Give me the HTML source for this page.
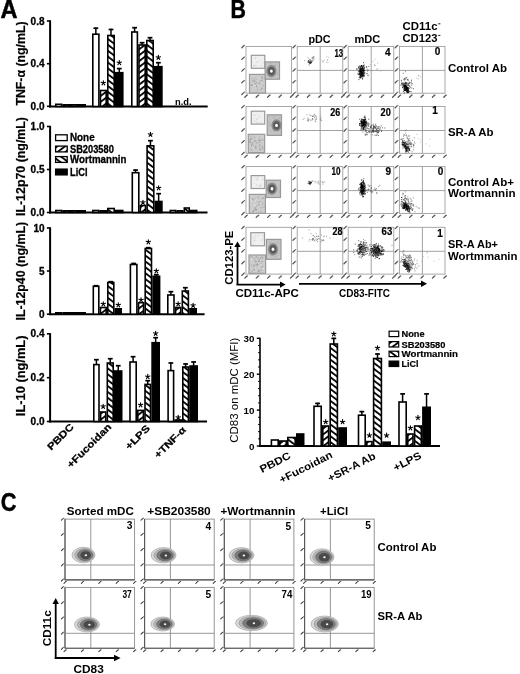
<!DOCTYPE html><html><head><meta charset="utf-8"><style>html,body{margin:0;padding:0;background:#fff;}svg{display:block}</style></head><body>
<svg width="520" height="674" viewBox="0 0 520 674" style="font-family:'Liberation Sans',sans-serif;will-change:transform">
<defs>
<pattern id="hs" patternUnits="userSpaceOnUse" width="4.7" height="4" patternTransform="rotate(53)"><rect x="0" y="0" width="4.7" height="4" fill="#fff"/><rect x="0" y="0" width="1.8" height="4" fill="#000"/></pattern>
<pattern id="hb" patternUnits="userSpaceOnUse" width="4.7" height="4" patternTransform="rotate(-53)"><rect x="0" y="0" width="4.7" height="4" fill="#fff"/><rect x="0" y="0" width="1.8" height="4" fill="#000"/></pattern>
<radialGradient id="blob" cx="50%" cy="50%" r="50%"><stop offset="0" stop-color="#fff"/><stop offset="0.15" stop-color="#555"/><stop offset="0.5" stop-color="#777"/><stop offset="0.8" stop-color="#bbb"/><stop offset="1" stop-color="#eee"/></radialGradient>
<filter id="bl1" x="-20%" y="-20%" width="140%" height="140%"><feGaussianBlur stdDeviation="0.55"/></filter>
<filter id="bl2" x="-30%" y="-30%" width="160%" height="160%"><feGaussianBlur stdDeviation="0.9"/></filter>
</defs>
<rect width="520" height="674" fill="#fff"/>
<text x="0.6" y="17.6" font-size="25.5" font-weight="bold" text-anchor="start" textLength="17" lengthAdjust="spacingAndGlyphs" fill="#000"  stroke="#000" stroke-width="0.5">A</text>
<line x1="50.1" y1="20.3" x2="50.1" y2="107.4" stroke="#000" stroke-width="2"/>
<line x1="49.1" y1="106.5" x2="207.7" y2="106.5" stroke="#000" stroke-width="2"/>
<line x1="46.9" y1="21" x2="50.1" y2="21" stroke="#000" stroke-width="1.6"/>
<text x="44.5" y="24.5" font-size="10" font-weight="bold" text-anchor="end" fill="#000"  stroke="#000" stroke-width="0.3">0.8</text>
<line x1="46.9" y1="63.7" x2="50.1" y2="63.7" stroke="#000" stroke-width="1.6"/>
<text x="44.5" y="67.2" font-size="10" font-weight="bold" text-anchor="end" fill="#000"  stroke="#000" stroke-width="0.3">0.4</text>
<line x1="46.9" y1="106.3" x2="50.1" y2="106.3" stroke="#000" stroke-width="1.6"/>
<text x="44.5" y="109.8" font-size="10" font-weight="bold" text-anchor="end" fill="#000"  stroke="#000" stroke-width="0.3">0.0</text>
<text x="25.2" y="63.55" font-size="12.4" font-weight="bold" text-anchor="middle" textLength="84.1" lengthAdjust="spacingAndGlyphs" transform="rotate(-90 25.2 63.55)" fill="#000"  stroke="#000" stroke-width="0.2">TNF-α (ng/mL)</text>
<rect x="55.8" y="104.3" width="5.9" height="2.200000000000003" fill="#fff" stroke="#000" stroke-width="1.6" />
<rect x="63.3" y="104.8" width="5.9" height="1.7000000000000028" fill="url(#hs)" stroke="#000" stroke-width="1.6" />
<rect x="70.8" y="104.8" width="6.4" height="1.7000000000000028" fill="url(#hb)" stroke="#000" stroke-width="1.6" />
<rect x="78.8" y="104.8" width="6.4" height="1.7000000000000028" fill="#000" stroke="#000" stroke-width="1.6" />
<rect x="92.8" y="34.2" width="6.100000000000003" height="72.3" fill="#fff" stroke="#000" stroke-width="1.6" />
<line x1="95.85" y1="34.2" x2="95.85" y2="27.5" stroke="#000" stroke-width="1.5"/>
<line x1="93.44999999999999" y1="28.2" x2="98.25" y2="28.2" stroke="#000" stroke-width="1.7"/>
<rect x="100.5" y="90.5" width="5.6999999999999975" height="16.0" fill="url(#hs)" stroke="#000" stroke-width="1.6" />
<path d="M103.35,83.00 L103.35,80.70 M103.35,83.00 L105.54,82.29 M103.35,83.00 L101.16,82.29 M103.35,83.00 L104.70,84.86 M103.35,83.00 L102.00,84.86 " stroke="#000" stroke-width="1.1" fill="none" stroke-linecap="round"/>
<rect x="107.8" y="35.5" width="6.4" height="71.0" fill="url(#hb)" stroke="#000" stroke-width="1.6" />
<line x1="111.0" y1="35.5" x2="111.0" y2="28.8" stroke="#000" stroke-width="1.5"/>
<line x1="108.6" y1="29.5" x2="113.4" y2="29.5" stroke="#000" stroke-width="1.7"/>
<rect x="115.8" y="72.7" width="6.999999999999995" height="33.8" fill="#000" stroke="#000" stroke-width="1.6" />
<line x1="119.3" y1="72.7" x2="119.3" y2="67.9" stroke="#000" stroke-width="1.5"/>
<line x1="116.89999999999999" y1="68.60000000000001" x2="121.7" y2="68.60000000000001" stroke="#000" stroke-width="1.7"/>
<path d="M119.30,62.80 L119.30,60.50 M119.30,62.80 L121.49,62.09 M119.30,62.80 L117.11,62.09 M119.30,62.80 L120.65,64.66 M119.30,62.80 L117.95,64.66 " stroke="#000" stroke-width="1.1" fill="none" stroke-linecap="round"/>
<rect x="131.8" y="32" width="5.599999999999989" height="74.5" fill="#fff" stroke="#000" stroke-width="1.6" />
<line x1="134.6" y1="32" x2="134.6" y2="27" stroke="#000" stroke-width="1.5"/>
<line x1="132.2" y1="27.7" x2="137.0" y2="27.7" stroke="#000" stroke-width="1.7"/>
<rect x="139.0" y="45" width="6.200000000000012" height="61.5" fill="url(#hs)" stroke="#000" stroke-width="1.6" />
<line x1="142.1" y1="45" x2="142.1" y2="42" stroke="#000" stroke-width="1.5"/>
<line x1="139.7" y1="42.7" x2="144.5" y2="42.7" stroke="#000" stroke-width="1.7"/>
<rect x="146.8" y="40.5" width="6.4" height="66.0" fill="url(#hb)" stroke="#000" stroke-width="1.6" />
<line x1="150.0" y1="40.5" x2="150.0" y2="37" stroke="#000" stroke-width="1.5"/>
<line x1="147.6" y1="37.7" x2="152.4" y2="37.7" stroke="#000" stroke-width="1.7"/>
<rect x="154.8" y="66.7" width="7.099999999999989" height="39.8" fill="#000" stroke="#000" stroke-width="1.6" />
<line x1="158.35" y1="66.7" x2="158.35" y2="62" stroke="#000" stroke-width="1.5"/>
<line x1="155.95" y1="62.7" x2="160.75" y2="62.7" stroke="#000" stroke-width="1.7"/>
<path d="M158.35,57.50 L158.35,55.20 M158.35,57.50 L160.54,56.79 M158.35,57.50 L156.16,56.79 M158.35,57.50 L159.70,59.36 M158.35,57.50 L157.00,59.36 " stroke="#000" stroke-width="1.1" fill="none" stroke-linecap="round"/>
<text x="175" y="104.8" font-size="8.8" font-weight="bold" text-anchor="start" textLength="16.6" lengthAdjust="spacingAndGlyphs" fill="#000" >n.d.</text>
<line x1="50.1" y1="125.8" x2="50.1" y2="213.4" stroke="#000" stroke-width="2"/>
<line x1="49.1" y1="212.5" x2="207.5" y2="212.5" stroke="#000" stroke-width="2"/>
<line x1="46.9" y1="126.5" x2="50.1" y2="126.5" stroke="#000" stroke-width="1.6"/>
<text x="44.5" y="130.0" font-size="10" font-weight="bold" text-anchor="end" fill="#000"  stroke="#000" stroke-width="0.3">1.0</text>
<line x1="46.9" y1="169.5" x2="50.1" y2="169.5" stroke="#000" stroke-width="1.6"/>
<text x="44.5" y="173.0" font-size="10" font-weight="bold" text-anchor="end" fill="#000"  stroke="#000" stroke-width="0.3">0.5</text>
<line x1="46.9" y1="212.5" x2="50.1" y2="212.5" stroke="#000" stroke-width="1.6"/>
<text x="44.5" y="216.0" font-size="10" font-weight="bold" text-anchor="end" fill="#000"  stroke="#000" stroke-width="0.3">0.0</text>
<text x="25.2" y="166.5" font-size="12.4" font-weight="bold" text-anchor="middle" textLength="99" lengthAdjust="spacingAndGlyphs" transform="rotate(-90 25.2 166.5)" fill="#000"  stroke="#000" stroke-width="0.2">IL-12p70 (ng/mL)</text>
<rect x="55.8" y="210.5" width="5.9" height="2.0" fill="#fff" stroke="#000" stroke-width="1.6" />
<rect x="63.3" y="210.8" width="5.9" height="1.6999999999999886" fill="url(#hs)" stroke="#000" stroke-width="1.6" />
<rect x="70.8" y="210.8" width="6.4" height="1.6999999999999886" fill="url(#hb)" stroke="#000" stroke-width="1.6" />
<rect x="78.8" y="210.8" width="6.4" height="1.6999999999999886" fill="#000" stroke="#000" stroke-width="1.6" />
<rect x="92.8" y="210.5" width="6.100000000000003" height="2.0" fill="#fff" stroke="#000" stroke-width="1.6" />
<rect x="100.5" y="210.8" width="5.6999999999999975" height="1.6999999999999886" fill="url(#hs)" stroke="#000" stroke-width="1.6" />
<rect x="107.8" y="208.5" width="6.4" height="4.0" fill="url(#hb)" stroke="#000" stroke-width="1.6" />
<rect x="115.8" y="210.5" width="6.999999999999995" height="2.0" fill="#000" stroke="#000" stroke-width="1.6" />
<rect x="132.3" y="172.7" width="6.499999999999995" height="39.80000000000001" fill="#fff" stroke="#000" stroke-width="1.6" />
<line x1="135.55" y1="172.7" x2="135.55" y2="169.4" stroke="#000" stroke-width="1.5"/>
<line x1="133.15" y1="170.1" x2="137.95000000000002" y2="170.1" stroke="#000" stroke-width="1.7"/>
<rect x="140.4" y="205.5" width="5.100000000000017" height="7.0" fill="url(#hs)" stroke="#000" stroke-width="1.6" />
<path d="M142.95,202.50 L142.95,200.20 M142.95,202.50 L145.14,201.79 M142.95,202.50 L140.76,201.79 M142.95,202.50 L144.30,204.36 M142.95,202.50 L141.60,204.36 " stroke="#000" stroke-width="1.1" fill="none" stroke-linecap="round"/>
<rect x="147.10000000000002" y="145.8" width="6.699999999999983" height="66.69999999999999" fill="url(#hb)" stroke="#000" stroke-width="1.6" />
<line x1="150.45" y1="145.8" x2="150.45" y2="140" stroke="#000" stroke-width="1.5"/>
<line x1="148.04999999999998" y1="140.7" x2="152.85" y2="140.7" stroke="#000" stroke-width="1.7"/>
<path d="M150.45,134.50 L150.45,132.20 M150.45,134.50 L152.64,133.79 M150.45,134.50 L148.26,133.79 M150.45,134.50 L151.80,136.36 M150.45,134.50 L149.10,136.36 " stroke="#000" stroke-width="1.1" fill="none" stroke-linecap="round"/>
<rect x="155.4" y="201.5" width="6.499999999999995" height="11.0" fill="#000" stroke="#000" stroke-width="1.6" />
<line x1="158.64999999999998" y1="201.5" x2="158.64999999999998" y2="193" stroke="#000" stroke-width="1.5"/>
<line x1="156.24999999999997" y1="193.7" x2="161.04999999999998" y2="193.7" stroke="#000" stroke-width="1.7"/>
<path d="M158.65,188.00 L158.65,185.70 M158.65,188.00 L160.84,187.29 M158.65,188.00 L156.46,187.29 M158.65,188.00 L160.00,189.86 M158.65,188.00 L157.30,189.86 " stroke="#000" stroke-width="1.1" fill="none" stroke-linecap="round"/>
<rect x="170.3" y="210.5" width="5.4" height="2.0" fill="#fff" stroke="#000" stroke-width="1.6" />
<rect x="177.3" y="210.8" width="5.4" height="1.6999999999999886" fill="url(#hs)" stroke="#000" stroke-width="1.6" />
<rect x="184.3" y="208" width="4.9" height="4.5" fill="url(#hb)" stroke="#000" stroke-width="1.6" />
<rect x="190.8" y="210.5" width="5.9" height="2.0" fill="#000" stroke="#000" stroke-width="1.6" />
<rect x="55.6" y="134.79999999999998" width="11.6" height="5.8" fill="#fff" stroke="#000" stroke-width="1.3" />
<text x="70" y="141.29999999999998" font-size="10.2" font-weight="bold" text-anchor="start" textLength="24.6" lengthAdjust="spacingAndGlyphs" fill="#000"  stroke="#000" stroke-width="0.3">None</text>
<rect x="55.6" y="146.1" width="11.6" height="5.8" fill="url(#hs)" stroke="#000" stroke-width="1.3" />
<text x="70" y="152.6" font-size="10.2" font-weight="bold" text-anchor="start" textLength="43.8" lengthAdjust="spacingAndGlyphs" fill="#000"  stroke="#000" stroke-width="0.3">SB203580</text>
<rect x="55.6" y="156.6" width="11.6" height="5.8" fill="url(#hb)" stroke="#000" stroke-width="1.3" />
<text x="70" y="163.1" font-size="10.2" font-weight="bold" text-anchor="start" textLength="56.5" lengthAdjust="spacingAndGlyphs" fill="#000"  stroke="#000" stroke-width="0.3">Wortmannin</text>
<rect x="55.6" y="169.1" width="11.6" height="5.8" fill="#000" stroke="#000" stroke-width="1.3" />
<text x="70" y="175.6" font-size="10.2" font-weight="bold" text-anchor="start" textLength="17.5" lengthAdjust="spacingAndGlyphs" fill="#000"  stroke="#000" stroke-width="0.3">LiCl</text>
<line x1="50.1" y1="227.3" x2="50.1" y2="315.09999999999997" stroke="#000" stroke-width="2"/>
<line x1="49.1" y1="314.2" x2="204.6" y2="314.2" stroke="#000" stroke-width="2"/>
<line x1="46.9" y1="228" x2="50.1" y2="228" stroke="#000" stroke-width="1.6"/>
<text x="44.5" y="231.5" font-size="10" font-weight="bold" text-anchor="end" fill="#000"  stroke="#000" stroke-width="0.3">10</text>
<line x1="46.9" y1="271" x2="50.1" y2="271" stroke="#000" stroke-width="1.6"/>
<text x="44.5" y="274.5" font-size="10" font-weight="bold" text-anchor="end" fill="#000"  stroke="#000" stroke-width="0.3">5</text>
<line x1="46.9" y1="314.2" x2="50.1" y2="314.2" stroke="#000" stroke-width="1.6"/>
<text x="44.5" y="317.7" font-size="10" font-weight="bold" text-anchor="end" fill="#000"  stroke="#000" stroke-width="0.3">0</text>
<text x="25.2" y="271.2" font-size="12.4" font-weight="bold" text-anchor="middle" textLength="98.39999999999998" lengthAdjust="spacingAndGlyphs" transform="rotate(-90 25.2 271.2)" fill="#000"  stroke="#000" stroke-width="0.2">IL-12p40 (ng/mL)</text>
<rect x="55.8" y="312.8" width="5.9" height="1.3999999999999773" fill="#fff" stroke="#000" stroke-width="1.6" />
<rect x="63.3" y="312.8" width="5.9" height="1.3999999999999773" fill="url(#hs)" stroke="#000" stroke-width="1.6" />
<rect x="70.8" y="312.8" width="6.4" height="1.3999999999999773" fill="url(#hb)" stroke="#000" stroke-width="1.6" />
<rect x="78.8" y="312.8" width="6.4" height="1.3999999999999773" fill="#000" stroke="#000" stroke-width="1.6" />
<rect x="93.3" y="286.3" width="5.499999999999995" height="27.899999999999977" fill="#fff" stroke="#000" stroke-width="1.6" />
<line x1="96.05" y1="286.3" x2="96.05" y2="285" stroke="#000" stroke-width="1.5"/>
<line x1="93.64999999999999" y1="285.7" x2="98.45" y2="285.7" stroke="#000" stroke-width="1.7"/>
<rect x="100.39999999999999" y="307.5" width="5.800000000000006" height="6.699999999999989" fill="url(#hs)" stroke="#000" stroke-width="1.6" />
<path d="M103.30,304.00 L103.30,301.70 M103.30,304.00 L105.49,303.29 M103.30,304.00 L101.11,303.29 M103.30,304.00 L104.65,305.86 M103.30,304.00 L101.95,305.86 " stroke="#000" stroke-width="1.1" fill="none" stroke-linecap="round"/>
<rect x="107.8" y="282.5" width="5.999999999999995" height="31.69999999999999" fill="url(#hb)" stroke="#000" stroke-width="1.6" />
<line x1="110.8" y1="282.5" x2="110.8" y2="281" stroke="#000" stroke-width="1.5"/>
<line x1="108.39999999999999" y1="281.7" x2="113.2" y2="281.7" stroke="#000" stroke-width="1.7"/>
<rect x="115.39999999999999" y="308.8" width="5.800000000000006" height="5.399999999999977" fill="#000" stroke="#000" stroke-width="1.6" />
<path d="M118.30,305.00 L118.30,302.70 M118.30,305.00 L120.49,304.29 M118.30,305.00 L116.11,304.29 M118.30,305.00 L119.65,306.86 M118.30,305.00 L116.95,306.86 " stroke="#000" stroke-width="1.1" fill="none" stroke-linecap="round"/>
<rect x="130.4" y="264.5" width="6.499999999999995" height="49.69999999999999" fill="#fff" stroke="#000" stroke-width="1.6" />
<line x1="133.64999999999998" y1="264.5" x2="133.64999999999998" y2="262.8" stroke="#000" stroke-width="1.5"/>
<line x1="131.24999999999997" y1="263.5" x2="136.04999999999998" y2="263.5" stroke="#000" stroke-width="1.7"/>
<rect x="138.5" y="302.7" width="5.100000000000017" height="11.5" fill="url(#hs)" stroke="#000" stroke-width="1.6" />
<path d="M141.05,300.00 L141.05,297.70 M141.05,300.00 L143.24,299.29 M141.05,300.00 L138.86,299.29 M141.05,300.00 L142.40,301.86 M141.05,300.00 L139.70,301.86 " stroke="#000" stroke-width="1.1" fill="none" stroke-linecap="round"/>
<rect x="145.20000000000002" y="248.5" width="6.300000000000006" height="65.69999999999999" fill="url(#hb)" stroke="#000" stroke-width="1.6" />
<line x1="148.35000000000002" y1="248.5" x2="148.35000000000002" y2="247" stroke="#000" stroke-width="1.5"/>
<line x1="145.95000000000002" y1="247.7" x2="150.75000000000003" y2="247.7" stroke="#000" stroke-width="1.7"/>
<path d="M148.35,242.00 L148.35,239.70 M148.35,242.00 L150.54,241.29 M148.35,242.00 L146.16,241.29 M148.35,242.00 L149.70,243.86 M148.35,242.00 L147.00,243.86 " stroke="#000" stroke-width="1.1" fill="none" stroke-linecap="round"/>
<rect x="153.10000000000002" y="276.3" width="6.499999999999995" height="37.89999999999998" fill="#000" stroke="#000" stroke-width="1.6" />
<line x1="156.35000000000002" y1="276.3" x2="156.35000000000002" y2="274" stroke="#000" stroke-width="1.5"/>
<line x1="153.95000000000002" y1="274.7" x2="158.75000000000003" y2="274.7" stroke="#000" stroke-width="1.7"/>
<path d="M156.35,271.00 L156.35,268.70 M156.35,271.00 L158.54,270.29 M156.35,271.00 L154.16,270.29 M156.35,271.00 L157.70,272.86 M156.35,271.00 L155.00,272.86 " stroke="#000" stroke-width="1.1" fill="none" stroke-linecap="round"/>
<rect x="167.8" y="295" width="6.200000000000012" height="19.19999999999999" fill="#fff" stroke="#000" stroke-width="1.6" />
<line x1="170.9" y1="295" x2="170.9" y2="291" stroke="#000" stroke-width="1.5"/>
<line x1="168.5" y1="291.7" x2="173.3" y2="291.7" stroke="#000" stroke-width="1.7"/>
<rect x="175.60000000000002" y="307.5" width="5.099999999999989" height="6.699999999999989" fill="url(#hs)" stroke="#000" stroke-width="1.6" />
<path d="M178.15,304.00 L178.15,301.70 M178.15,304.00 L180.34,303.29 M178.15,304.00 L175.96,303.29 M178.15,304.00 L179.50,305.86 M178.15,304.00 L176.80,305.86 " stroke="#000" stroke-width="1.1" fill="none" stroke-linecap="round"/>
<rect x="182.3" y="291" width="6.099999999999989" height="23.19999999999999" fill="url(#hb)" stroke="#000" stroke-width="1.6" />
<line x1="185.35" y1="291" x2="185.35" y2="287" stroke="#000" stroke-width="1.5"/>
<line x1="182.95" y1="287.7" x2="187.75" y2="287.7" stroke="#000" stroke-width="1.7"/>
<rect x="190.0" y="308.8" width="6.200000000000012" height="5.399999999999977" fill="#000" stroke="#000" stroke-width="1.6" />
<path d="M193.10,305.50 L193.10,303.20 M193.10,305.50 L195.29,304.79 M193.10,305.50 L190.91,304.79 M193.10,305.50 L194.45,307.36 M193.10,305.50 L191.75,307.36 " stroke="#000" stroke-width="1.1" fill="none" stroke-linecap="round"/>
<line x1="50.1" y1="333.1" x2="50.1" y2="422.4" stroke="#000" stroke-width="2"/>
<line x1="49.1" y1="421.5" x2="207" y2="421.5" stroke="#000" stroke-width="2"/>
<line x1="46.9" y1="333.8" x2="50.1" y2="333.8" stroke="#000" stroke-width="1.6"/>
<text x="44.5" y="337.3" font-size="10" font-weight="bold" text-anchor="end" fill="#000"  stroke="#000" stroke-width="0.3">0.4</text>
<line x1="46.9" y1="377.7" x2="50.1" y2="377.7" stroke="#000" stroke-width="1.6"/>
<text x="44.5" y="381.2" font-size="10" font-weight="bold" text-anchor="end" fill="#000"  stroke="#000" stroke-width="0.3">0.2</text>
<line x1="46.9" y1="421.5" x2="50.1" y2="421.5" stroke="#000" stroke-width="1.6"/>
<text x="44.5" y="425.0" font-size="10" font-weight="bold" text-anchor="end" fill="#000"  stroke="#000" stroke-width="0.3">0.0</text>
<text x="25.2" y="375.85" font-size="12.4" font-weight="bold" text-anchor="middle" textLength="80.69999999999999" lengthAdjust="spacingAndGlyphs" transform="rotate(-90 25.2 375.85)" fill="#000"  stroke="#000" stroke-width="0.2">IL-10 (ng/mL)</text>
<rect x="93.8" y="364.6" width="5.1999999999999975" height="56.89999999999998" fill="#fff" stroke="#000" stroke-width="1.6" />
<line x1="96.4" y1="364.6" x2="96.4" y2="359" stroke="#000" stroke-width="1.5"/>
<line x1="94.0" y1="359.7" x2="98.80000000000001" y2="359.7" stroke="#000" stroke-width="1.7"/>
<rect x="100.6" y="412" width="5.100000000000003" height="9.5" fill="url(#hs)" stroke="#000" stroke-width="1.6" />
<path d="M103.15,406.50 L103.15,404.20 M103.15,406.50 L105.34,405.79 M103.15,406.50 L100.96,405.79 M103.15,406.50 L104.50,408.36 M103.15,406.50 L101.80,408.36 " stroke="#000" stroke-width="1.1" fill="none" stroke-linecap="round"/>
<rect x="107.3" y="363" width="5.9" height="58.5" fill="url(#hb)" stroke="#000" stroke-width="1.6" />
<line x1="110.25" y1="363" x2="110.25" y2="358" stroke="#000" stroke-width="1.5"/>
<line x1="107.85" y1="358.7" x2="112.65" y2="358.7" stroke="#000" stroke-width="1.7"/>
<rect x="114.8" y="371" width="6.9" height="50.5" fill="#000" stroke="#000" stroke-width="1.6" />
<line x1="118.25" y1="371" x2="118.25" y2="365" stroke="#000" stroke-width="1.5"/>
<line x1="115.85" y1="365.7" x2="120.65" y2="365.7" stroke="#000" stroke-width="1.7"/>
<rect x="130.0" y="362" width="6.200000000000012" height="59.5" fill="#fff" stroke="#000" stroke-width="1.6" />
<line x1="133.1" y1="362" x2="133.1" y2="356" stroke="#000" stroke-width="1.5"/>
<line x1="130.7" y1="356.7" x2="135.5" y2="356.7" stroke="#000" stroke-width="1.7"/>
<rect x="137.8" y="410.4" width="5.599999999999989" height="11.100000000000023" fill="url(#hs)" stroke="#000" stroke-width="1.6" />
<path d="M140.60,405.00 L140.60,402.70 M140.60,405.00 L142.79,404.29 M140.60,405.00 L138.41,404.29 M140.60,405.00 L141.95,406.86 M140.60,405.00 L139.25,406.86 " stroke="#000" stroke-width="1.1" fill="none" stroke-linecap="round"/>
<rect x="145.0" y="384.4" width="5.500000000000023" height="37.10000000000002" fill="url(#hb)" stroke="#000" stroke-width="1.6" />
<line x1="147.75" y1="384.4" x2="147.75" y2="380" stroke="#000" stroke-width="1.5"/>
<line x1="145.35" y1="380.7" x2="150.15" y2="380.7" stroke="#000" stroke-width="1.7"/>
<path d="M147.75,376.70 L147.75,374.40 M147.75,376.70 L149.94,375.99 M147.75,376.70 L145.56,375.99 M147.75,376.70 L149.10,378.56 M147.75,376.70 L146.40,378.56 " stroke="#000" stroke-width="1.1" fill="none" stroke-linecap="round"/>
<rect x="152.10000000000002" y="342.7" width="7.099999999999989" height="78.80000000000001" fill="#000" stroke="#000" stroke-width="1.6" />
<line x1="155.65" y1="342.7" x2="155.65" y2="337" stroke="#000" stroke-width="1.5"/>
<line x1="153.25" y1="337.7" x2="158.05" y2="337.7" stroke="#000" stroke-width="1.7"/>
<path d="M155.65,333.50 L155.65,331.20 M155.65,333.50 L157.84,332.79 M155.65,333.50 L153.46,332.79 M155.65,333.50 L157.00,335.36 M155.65,333.50 L154.30,335.36 " stroke="#000" stroke-width="1.1" fill="none" stroke-linecap="round"/>
<rect x="168.10000000000002" y="370.6" width="5.499999999999995" height="50.89999999999998" fill="#fff" stroke="#000" stroke-width="1.6" />
<line x1="170.85000000000002" y1="370.6" x2="170.85000000000002" y2="362.3" stroke="#000" stroke-width="1.5"/>
<line x1="168.45000000000002" y1="363.0" x2="173.25000000000003" y2="363.0" stroke="#000" stroke-width="1.7"/>
<rect x="175.20000000000002" y="420" width="5.999999999999995" height="1.5" fill="url(#hs)" stroke="#000" stroke-width="1.6" />
<path d="M178.20,417.50 L178.20,415.20 M178.20,417.50 L180.39,416.79 M178.20,417.50 L176.01,416.79 M178.20,417.50 L179.55,419.36 M178.20,417.50 L176.85,419.36 " stroke="#000" stroke-width="1.1" fill="none" stroke-linecap="round"/>
<rect x="182.8" y="367" width="5.599999999999989" height="54.5" fill="url(#hb)" stroke="#000" stroke-width="1.6" />
<line x1="185.6" y1="367" x2="185.6" y2="363.3" stroke="#000" stroke-width="1.5"/>
<line x1="183.2" y1="364.0" x2="188.0" y2="364.0" stroke="#000" stroke-width="1.7"/>
<rect x="190.0" y="366" width="7.200000000000012" height="55.5" fill="#000" stroke="#000" stroke-width="1.6" />
<line x1="193.6" y1="366" x2="193.6" y2="361.3" stroke="#000" stroke-width="1.5"/>
<line x1="191.2" y1="362.0" x2="196.0" y2="362.0" stroke="#000" stroke-width="1.7"/>
<text x="74.5" y="427.5" font-size="9.8" font-weight="bold" text-anchor="end" textLength="33" lengthAdjust="spacingAndGlyphs" transform="rotate(-45 74.5 427.5)" fill="#000"  stroke="#000" stroke-width="0.25">PBDC</text>
<text x="112" y="427.5" font-size="9.8" font-weight="bold" text-anchor="end" textLength="58" lengthAdjust="spacingAndGlyphs" transform="rotate(-45 112 427.5)" fill="#000"  stroke="#000" stroke-width="0.25">+Fucoidan</text>
<text x="150.5" y="429" font-size="9.8" font-weight="bold" text-anchor="end" textLength="30" lengthAdjust="spacingAndGlyphs" transform="rotate(-45 150.5 429)" fill="#000"  stroke="#000" stroke-width="0.25">+LPS</text>
<text x="186.5" y="430.5" font-size="9.8" font-weight="bold" text-anchor="end" textLength="40" lengthAdjust="spacingAndGlyphs" transform="rotate(-45 186.5 430.5)" fill="#000"  stroke="#000" stroke-width="0.25">+TNF-α</text>
<text x="230.6" y="18.1" font-size="25" font-weight="bold" text-anchor="start" textLength="15.4" lengthAdjust="spacingAndGlyphs" fill="#000"  stroke="#000" stroke-width="0.5">B</text>
<rect x="246" y="46.4" width="45.6" height="46.8" fill="none" stroke="#999" stroke-width="0.85" />
<path d="M241.8,47.7 l2.0,-1.9" stroke="#555" stroke-width="1.30" fill="none" stroke-linecap="round"/>
<rect x="244.1" y="44.8" width="0.9" height="0.9" fill="#555"/>
<path d="M244.8,97.2 l2.0,-1.9" stroke="#555" stroke-width="1.30" fill="none" stroke-linecap="round"/>
<rect x="247.0" y="94.6" width="0.9" height="0.9" fill="#555"/>
<path d="M241.8,59.4 l2.0,-1.9" stroke="#555" stroke-width="1.30" fill="none" stroke-linecap="round"/>
<rect x="244.1" y="56.5" width="0.9" height="0.9" fill="#555"/>
<path d="M256.2,97.2 l2.0,-1.9" stroke="#555" stroke-width="1.30" fill="none" stroke-linecap="round"/>
<rect x="258.4" y="94.6" width="0.9" height="0.9" fill="#555"/>
<path d="M241.8,71.1 l2.0,-1.9" stroke="#555" stroke-width="1.30" fill="none" stroke-linecap="round"/>
<rect x="244.1" y="68.2" width="0.9" height="0.9" fill="#555"/>
<path d="M267.6,97.2 l2.0,-1.9" stroke="#555" stroke-width="1.30" fill="none" stroke-linecap="round"/>
<rect x="269.8" y="94.6" width="0.9" height="0.9" fill="#555"/>
<path d="M241.8,82.8 l2.0,-1.9" stroke="#555" stroke-width="1.30" fill="none" stroke-linecap="round"/>
<rect x="244.1" y="79.9" width="0.9" height="0.9" fill="#555"/>
<path d="M279.0,97.2 l2.0,-1.9" stroke="#555" stroke-width="1.30" fill="none" stroke-linecap="round"/>
<rect x="281.2" y="94.6" width="0.9" height="0.9" fill="#555"/>
<path d="M241.8,94.5 l2.0,-1.9" stroke="#555" stroke-width="1.30" fill="none" stroke-linecap="round"/>
<rect x="244.1" y="91.6" width="0.9" height="0.9" fill="#555"/>
<path d="M290.4,97.2 l2.0,-1.9" stroke="#555" stroke-width="1.30" fill="none" stroke-linecap="round"/>
<rect x="292.6" y="94.6" width="0.9" height="0.9" fill="#555"/>
<rect x="297.2" y="46.4" width="45.6" height="46.8" fill="none" stroke="#999" stroke-width="0.85" />
<path d="M293.0,47.7 l2.0,-1.9" stroke="#555" stroke-width="1.30" fill="none" stroke-linecap="round"/>
<rect x="295.3" y="44.8" width="0.9" height="0.9" fill="#555"/>
<path d="M296.0,97.2 l2.0,-1.9" stroke="#555" stroke-width="1.30" fill="none" stroke-linecap="round"/>
<rect x="298.2" y="94.6" width="0.9" height="0.9" fill="#555"/>
<path d="M293.0,59.4 l2.0,-1.9" stroke="#555" stroke-width="1.30" fill="none" stroke-linecap="round"/>
<rect x="295.3" y="56.5" width="0.9" height="0.9" fill="#555"/>
<path d="M307.4,97.2 l2.0,-1.9" stroke="#555" stroke-width="1.30" fill="none" stroke-linecap="round"/>
<rect x="309.6" y="94.6" width="0.9" height="0.9" fill="#555"/>
<path d="M293.0,71.1 l2.0,-1.9" stroke="#555" stroke-width="1.30" fill="none" stroke-linecap="round"/>
<rect x="295.3" y="68.2" width="0.9" height="0.9" fill="#555"/>
<path d="M318.8,97.2 l2.0,-1.9" stroke="#555" stroke-width="1.30" fill="none" stroke-linecap="round"/>
<rect x="321.0" y="94.6" width="0.9" height="0.9" fill="#555"/>
<path d="M293.0,82.8 l2.0,-1.9" stroke="#555" stroke-width="1.30" fill="none" stroke-linecap="round"/>
<rect x="295.3" y="79.9" width="0.9" height="0.9" fill="#555"/>
<path d="M330.2,97.2 l2.0,-1.9" stroke="#555" stroke-width="1.30" fill="none" stroke-linecap="round"/>
<rect x="332.4" y="94.6" width="0.9" height="0.9" fill="#555"/>
<path d="M293.0,94.5 l2.0,-1.9" stroke="#555" stroke-width="1.30" fill="none" stroke-linecap="round"/>
<rect x="295.3" y="91.6" width="0.9" height="0.9" fill="#555"/>
<path d="M341.6,97.2 l2.0,-1.9" stroke="#555" stroke-width="1.30" fill="none" stroke-linecap="round"/>
<rect x="343.8" y="94.6" width="0.9" height="0.9" fill="#555"/>
<line x1="320.2" y1="46.4" x2="320.2" y2="93.19999999999999" stroke="#8a8a8a" stroke-width="0.8"/>
<line x1="297.2" y1="70.4" x2="342.8" y2="70.4" stroke="#8a8a8a" stroke-width="0.8"/>
<rect x="348.2" y="46.4" width="45.6" height="46.8" fill="none" stroke="#999" stroke-width="0.85" />
<path d="M344.0,47.7 l2.0,-1.9" stroke="#555" stroke-width="1.30" fill="none" stroke-linecap="round"/>
<rect x="346.3" y="44.8" width="0.9" height="0.9" fill="#555"/>
<path d="M347.0,97.2 l2.0,-1.9" stroke="#555" stroke-width="1.30" fill="none" stroke-linecap="round"/>
<rect x="349.2" y="94.6" width="0.9" height="0.9" fill="#555"/>
<path d="M344.0,59.4 l2.0,-1.9" stroke="#555" stroke-width="1.30" fill="none" stroke-linecap="round"/>
<rect x="346.3" y="56.5" width="0.9" height="0.9" fill="#555"/>
<path d="M358.4,97.2 l2.0,-1.9" stroke="#555" stroke-width="1.30" fill="none" stroke-linecap="round"/>
<rect x="360.6" y="94.6" width="0.9" height="0.9" fill="#555"/>
<path d="M344.0,71.1 l2.0,-1.9" stroke="#555" stroke-width="1.30" fill="none" stroke-linecap="round"/>
<rect x="346.3" y="68.2" width="0.9" height="0.9" fill="#555"/>
<path d="M369.8,97.2 l2.0,-1.9" stroke="#555" stroke-width="1.30" fill="none" stroke-linecap="round"/>
<rect x="372.0" y="94.6" width="0.9" height="0.9" fill="#555"/>
<path d="M344.0,82.8 l2.0,-1.9" stroke="#555" stroke-width="1.30" fill="none" stroke-linecap="round"/>
<rect x="346.3" y="79.9" width="0.9" height="0.9" fill="#555"/>
<path d="M381.2,97.2 l2.0,-1.9" stroke="#555" stroke-width="1.30" fill="none" stroke-linecap="round"/>
<rect x="383.4" y="94.6" width="0.9" height="0.9" fill="#555"/>
<path d="M344.0,94.5 l2.0,-1.9" stroke="#555" stroke-width="1.30" fill="none" stroke-linecap="round"/>
<rect x="346.3" y="91.6" width="0.9" height="0.9" fill="#555"/>
<path d="M392.6,97.2 l2.0,-1.9" stroke="#555" stroke-width="1.30" fill="none" stroke-linecap="round"/>
<rect x="394.8" y="94.6" width="0.9" height="0.9" fill="#555"/>
<line x1="371.2" y1="46.4" x2="371.2" y2="93.19999999999999" stroke="#8a8a8a" stroke-width="0.8"/>
<line x1="348.2" y1="70.4" x2="393.8" y2="70.4" stroke="#8a8a8a" stroke-width="0.8"/>
<rect x="399.4" y="46.4" width="45.6" height="46.8" fill="none" stroke="#999" stroke-width="0.85" />
<path d="M395.2,47.7 l2.0,-1.9" stroke="#555" stroke-width="1.30" fill="none" stroke-linecap="round"/>
<rect x="397.5" y="44.8" width="0.9" height="0.9" fill="#555"/>
<path d="M398.2,97.2 l2.0,-1.9" stroke="#555" stroke-width="1.30" fill="none" stroke-linecap="round"/>
<rect x="400.4" y="94.6" width="0.9" height="0.9" fill="#555"/>
<path d="M395.2,59.4 l2.0,-1.9" stroke="#555" stroke-width="1.30" fill="none" stroke-linecap="round"/>
<rect x="397.5" y="56.5" width="0.9" height="0.9" fill="#555"/>
<path d="M409.6,97.2 l2.0,-1.9" stroke="#555" stroke-width="1.30" fill="none" stroke-linecap="round"/>
<rect x="411.8" y="94.6" width="0.9" height="0.9" fill="#555"/>
<path d="M395.2,71.1 l2.0,-1.9" stroke="#555" stroke-width="1.30" fill="none" stroke-linecap="round"/>
<rect x="397.5" y="68.2" width="0.9" height="0.9" fill="#555"/>
<path d="M421.0,97.2 l2.0,-1.9" stroke="#555" stroke-width="1.30" fill="none" stroke-linecap="round"/>
<rect x="423.2" y="94.6" width="0.9" height="0.9" fill="#555"/>
<path d="M395.2,82.8 l2.0,-1.9" stroke="#555" stroke-width="1.30" fill="none" stroke-linecap="round"/>
<rect x="397.5" y="79.9" width="0.9" height="0.9" fill="#555"/>
<path d="M432.4,97.2 l2.0,-1.9" stroke="#555" stroke-width="1.30" fill="none" stroke-linecap="round"/>
<rect x="434.6" y="94.6" width="0.9" height="0.9" fill="#555"/>
<path d="M395.2,94.5 l2.0,-1.9" stroke="#555" stroke-width="1.30" fill="none" stroke-linecap="round"/>
<rect x="397.5" y="91.6" width="0.9" height="0.9" fill="#555"/>
<path d="M443.8,97.2 l2.0,-1.9" stroke="#555" stroke-width="1.30" fill="none" stroke-linecap="round"/>
<rect x="446.0" y="94.6" width="0.9" height="0.9" fill="#555"/>
<line x1="422.4" y1="46.4" x2="422.4" y2="93.19999999999999" stroke="#8a8a8a" stroke-width="0.8"/>
<line x1="399.4" y1="70.4" x2="445.0" y2="70.4" stroke="#8a8a8a" stroke-width="0.8"/>
<rect x="246" y="106.5" width="45.6" height="46.8" fill="none" stroke="#999" stroke-width="0.85" />
<path d="M241.8,107.8 l2.0,-1.9" stroke="#555" stroke-width="1.30" fill="none" stroke-linecap="round"/>
<rect x="244.1" y="104.9" width="0.9" height="0.9" fill="#555"/>
<path d="M244.8,157.3 l2.0,-1.9" stroke="#555" stroke-width="1.30" fill="none" stroke-linecap="round"/>
<rect x="247.0" y="154.7" width="0.9" height="0.9" fill="#555"/>
<path d="M241.8,119.5 l2.0,-1.9" stroke="#555" stroke-width="1.30" fill="none" stroke-linecap="round"/>
<rect x="244.1" y="116.6" width="0.9" height="0.9" fill="#555"/>
<path d="M256.2,157.3 l2.0,-1.9" stroke="#555" stroke-width="1.30" fill="none" stroke-linecap="round"/>
<rect x="258.4" y="154.7" width="0.9" height="0.9" fill="#555"/>
<path d="M241.8,131.2 l2.0,-1.9" stroke="#555" stroke-width="1.30" fill="none" stroke-linecap="round"/>
<rect x="244.1" y="128.3" width="0.9" height="0.9" fill="#555"/>
<path d="M267.6,157.3 l2.0,-1.9" stroke="#555" stroke-width="1.30" fill="none" stroke-linecap="round"/>
<rect x="269.8" y="154.7" width="0.9" height="0.9" fill="#555"/>
<path d="M241.8,142.9 l2.0,-1.9" stroke="#555" stroke-width="1.30" fill="none" stroke-linecap="round"/>
<rect x="244.1" y="140.0" width="0.9" height="0.9" fill="#555"/>
<path d="M279.0,157.3 l2.0,-1.9" stroke="#555" stroke-width="1.30" fill="none" stroke-linecap="round"/>
<rect x="281.2" y="154.7" width="0.9" height="0.9" fill="#555"/>
<path d="M241.8,154.6 l2.0,-1.9" stroke="#555" stroke-width="1.30" fill="none" stroke-linecap="round"/>
<rect x="244.1" y="151.7" width="0.9" height="0.9" fill="#555"/>
<path d="M290.4,157.3 l2.0,-1.9" stroke="#555" stroke-width="1.30" fill="none" stroke-linecap="round"/>
<rect x="292.6" y="154.7" width="0.9" height="0.9" fill="#555"/>
<rect x="297.2" y="106.5" width="45.6" height="46.8" fill="none" stroke="#999" stroke-width="0.85" />
<path d="M293.0,107.8 l2.0,-1.9" stroke="#555" stroke-width="1.30" fill="none" stroke-linecap="round"/>
<rect x="295.3" y="104.9" width="0.9" height="0.9" fill="#555"/>
<path d="M296.0,157.3 l2.0,-1.9" stroke="#555" stroke-width="1.30" fill="none" stroke-linecap="round"/>
<rect x="298.2" y="154.7" width="0.9" height="0.9" fill="#555"/>
<path d="M293.0,119.5 l2.0,-1.9" stroke="#555" stroke-width="1.30" fill="none" stroke-linecap="round"/>
<rect x="295.3" y="116.6" width="0.9" height="0.9" fill="#555"/>
<path d="M307.4,157.3 l2.0,-1.9" stroke="#555" stroke-width="1.30" fill="none" stroke-linecap="round"/>
<rect x="309.6" y="154.7" width="0.9" height="0.9" fill="#555"/>
<path d="M293.0,131.2 l2.0,-1.9" stroke="#555" stroke-width="1.30" fill="none" stroke-linecap="round"/>
<rect x="295.3" y="128.3" width="0.9" height="0.9" fill="#555"/>
<path d="M318.8,157.3 l2.0,-1.9" stroke="#555" stroke-width="1.30" fill="none" stroke-linecap="round"/>
<rect x="321.0" y="154.7" width="0.9" height="0.9" fill="#555"/>
<path d="M293.0,142.9 l2.0,-1.9" stroke="#555" stroke-width="1.30" fill="none" stroke-linecap="round"/>
<rect x="295.3" y="140.0" width="0.9" height="0.9" fill="#555"/>
<path d="M330.2,157.3 l2.0,-1.9" stroke="#555" stroke-width="1.30" fill="none" stroke-linecap="round"/>
<rect x="332.4" y="154.7" width="0.9" height="0.9" fill="#555"/>
<path d="M293.0,154.6 l2.0,-1.9" stroke="#555" stroke-width="1.30" fill="none" stroke-linecap="round"/>
<rect x="295.3" y="151.7" width="0.9" height="0.9" fill="#555"/>
<path d="M341.6,157.3 l2.0,-1.9" stroke="#555" stroke-width="1.30" fill="none" stroke-linecap="round"/>
<rect x="343.8" y="154.7" width="0.9" height="0.9" fill="#555"/>
<line x1="320.2" y1="106.5" x2="320.2" y2="153.3" stroke="#8a8a8a" stroke-width="0.8"/>
<line x1="297.2" y1="130.5" x2="342.8" y2="130.5" stroke="#8a8a8a" stroke-width="0.8"/>
<rect x="348.2" y="106.5" width="45.6" height="46.8" fill="none" stroke="#999" stroke-width="0.85" />
<path d="M344.0,107.8 l2.0,-1.9" stroke="#555" stroke-width="1.30" fill="none" stroke-linecap="round"/>
<rect x="346.3" y="104.9" width="0.9" height="0.9" fill="#555"/>
<path d="M347.0,157.3 l2.0,-1.9" stroke="#555" stroke-width="1.30" fill="none" stroke-linecap="round"/>
<rect x="349.2" y="154.7" width="0.9" height="0.9" fill="#555"/>
<path d="M344.0,119.5 l2.0,-1.9" stroke="#555" stroke-width="1.30" fill="none" stroke-linecap="round"/>
<rect x="346.3" y="116.6" width="0.9" height="0.9" fill="#555"/>
<path d="M358.4,157.3 l2.0,-1.9" stroke="#555" stroke-width="1.30" fill="none" stroke-linecap="round"/>
<rect x="360.6" y="154.7" width="0.9" height="0.9" fill="#555"/>
<path d="M344.0,131.2 l2.0,-1.9" stroke="#555" stroke-width="1.30" fill="none" stroke-linecap="round"/>
<rect x="346.3" y="128.3" width="0.9" height="0.9" fill="#555"/>
<path d="M369.8,157.3 l2.0,-1.9" stroke="#555" stroke-width="1.30" fill="none" stroke-linecap="round"/>
<rect x="372.0" y="154.7" width="0.9" height="0.9" fill="#555"/>
<path d="M344.0,142.9 l2.0,-1.9" stroke="#555" stroke-width="1.30" fill="none" stroke-linecap="round"/>
<rect x="346.3" y="140.0" width="0.9" height="0.9" fill="#555"/>
<path d="M381.2,157.3 l2.0,-1.9" stroke="#555" stroke-width="1.30" fill="none" stroke-linecap="round"/>
<rect x="383.4" y="154.7" width="0.9" height="0.9" fill="#555"/>
<path d="M344.0,154.6 l2.0,-1.9" stroke="#555" stroke-width="1.30" fill="none" stroke-linecap="round"/>
<rect x="346.3" y="151.7" width="0.9" height="0.9" fill="#555"/>
<path d="M392.6,157.3 l2.0,-1.9" stroke="#555" stroke-width="1.30" fill="none" stroke-linecap="round"/>
<rect x="394.8" y="154.7" width="0.9" height="0.9" fill="#555"/>
<line x1="371.2" y1="106.5" x2="371.2" y2="153.3" stroke="#8a8a8a" stroke-width="0.8"/>
<line x1="348.2" y1="130.5" x2="393.8" y2="130.5" stroke="#8a8a8a" stroke-width="0.8"/>
<rect x="399.4" y="106.5" width="45.6" height="46.8" fill="none" stroke="#999" stroke-width="0.85" />
<path d="M395.2,107.8 l2.0,-1.9" stroke="#555" stroke-width="1.30" fill="none" stroke-linecap="round"/>
<rect x="397.5" y="104.9" width="0.9" height="0.9" fill="#555"/>
<path d="M398.2,157.3 l2.0,-1.9" stroke="#555" stroke-width="1.30" fill="none" stroke-linecap="round"/>
<rect x="400.4" y="154.7" width="0.9" height="0.9" fill="#555"/>
<path d="M395.2,119.5 l2.0,-1.9" stroke="#555" stroke-width="1.30" fill="none" stroke-linecap="round"/>
<rect x="397.5" y="116.6" width="0.9" height="0.9" fill="#555"/>
<path d="M409.6,157.3 l2.0,-1.9" stroke="#555" stroke-width="1.30" fill="none" stroke-linecap="round"/>
<rect x="411.8" y="154.7" width="0.9" height="0.9" fill="#555"/>
<path d="M395.2,131.2 l2.0,-1.9" stroke="#555" stroke-width="1.30" fill="none" stroke-linecap="round"/>
<rect x="397.5" y="128.3" width="0.9" height="0.9" fill="#555"/>
<path d="M421.0,157.3 l2.0,-1.9" stroke="#555" stroke-width="1.30" fill="none" stroke-linecap="round"/>
<rect x="423.2" y="154.7" width="0.9" height="0.9" fill="#555"/>
<path d="M395.2,142.9 l2.0,-1.9" stroke="#555" stroke-width="1.30" fill="none" stroke-linecap="round"/>
<rect x="397.5" y="140.0" width="0.9" height="0.9" fill="#555"/>
<path d="M432.4,157.3 l2.0,-1.9" stroke="#555" stroke-width="1.30" fill="none" stroke-linecap="round"/>
<rect x="434.6" y="154.7" width="0.9" height="0.9" fill="#555"/>
<path d="M395.2,154.6 l2.0,-1.9" stroke="#555" stroke-width="1.30" fill="none" stroke-linecap="round"/>
<rect x="397.5" y="151.7" width="0.9" height="0.9" fill="#555"/>
<path d="M443.8,157.3 l2.0,-1.9" stroke="#555" stroke-width="1.30" fill="none" stroke-linecap="round"/>
<rect x="446.0" y="154.7" width="0.9" height="0.9" fill="#555"/>
<line x1="422.4" y1="106.5" x2="422.4" y2="153.3" stroke="#8a8a8a" stroke-width="0.8"/>
<line x1="399.4" y1="130.5" x2="445.0" y2="130.5" stroke="#8a8a8a" stroke-width="0.8"/>
<rect x="246" y="166.6" width="45.6" height="46.8" fill="none" stroke="#999" stroke-width="0.85" />
<path d="M241.8,167.9 l2.0,-1.9" stroke="#555" stroke-width="1.30" fill="none" stroke-linecap="round"/>
<rect x="244.1" y="165.0" width="0.9" height="0.9" fill="#555"/>
<path d="M244.8,217.4 l2.0,-1.9" stroke="#555" stroke-width="1.30" fill="none" stroke-linecap="round"/>
<rect x="247.0" y="214.8" width="0.9" height="0.9" fill="#555"/>
<path d="M241.8,179.6 l2.0,-1.9" stroke="#555" stroke-width="1.30" fill="none" stroke-linecap="round"/>
<rect x="244.1" y="176.7" width="0.9" height="0.9" fill="#555"/>
<path d="M256.2,217.4 l2.0,-1.9" stroke="#555" stroke-width="1.30" fill="none" stroke-linecap="round"/>
<rect x="258.4" y="214.8" width="0.9" height="0.9" fill="#555"/>
<path d="M241.8,191.3 l2.0,-1.9" stroke="#555" stroke-width="1.30" fill="none" stroke-linecap="round"/>
<rect x="244.1" y="188.4" width="0.9" height="0.9" fill="#555"/>
<path d="M267.6,217.4 l2.0,-1.9" stroke="#555" stroke-width="1.30" fill="none" stroke-linecap="round"/>
<rect x="269.8" y="214.8" width="0.9" height="0.9" fill="#555"/>
<path d="M241.8,203.0 l2.0,-1.9" stroke="#555" stroke-width="1.30" fill="none" stroke-linecap="round"/>
<rect x="244.1" y="200.1" width="0.9" height="0.9" fill="#555"/>
<path d="M279.0,217.4 l2.0,-1.9" stroke="#555" stroke-width="1.30" fill="none" stroke-linecap="round"/>
<rect x="281.2" y="214.8" width="0.9" height="0.9" fill="#555"/>
<path d="M241.8,214.7 l2.0,-1.9" stroke="#555" stroke-width="1.30" fill="none" stroke-linecap="round"/>
<rect x="244.1" y="211.8" width="0.9" height="0.9" fill="#555"/>
<path d="M290.4,217.4 l2.0,-1.9" stroke="#555" stroke-width="1.30" fill="none" stroke-linecap="round"/>
<rect x="292.6" y="214.8" width="0.9" height="0.9" fill="#555"/>
<rect x="297.2" y="166.6" width="45.6" height="46.8" fill="none" stroke="#999" stroke-width="0.85" />
<path d="M293.0,167.9 l2.0,-1.9" stroke="#555" stroke-width="1.30" fill="none" stroke-linecap="round"/>
<rect x="295.3" y="165.0" width="0.9" height="0.9" fill="#555"/>
<path d="M296.0,217.4 l2.0,-1.9" stroke="#555" stroke-width="1.30" fill="none" stroke-linecap="round"/>
<rect x="298.2" y="214.8" width="0.9" height="0.9" fill="#555"/>
<path d="M293.0,179.6 l2.0,-1.9" stroke="#555" stroke-width="1.30" fill="none" stroke-linecap="round"/>
<rect x="295.3" y="176.7" width="0.9" height="0.9" fill="#555"/>
<path d="M307.4,217.4 l2.0,-1.9" stroke="#555" stroke-width="1.30" fill="none" stroke-linecap="round"/>
<rect x="309.6" y="214.8" width="0.9" height="0.9" fill="#555"/>
<path d="M293.0,191.3 l2.0,-1.9" stroke="#555" stroke-width="1.30" fill="none" stroke-linecap="round"/>
<rect x="295.3" y="188.4" width="0.9" height="0.9" fill="#555"/>
<path d="M318.8,217.4 l2.0,-1.9" stroke="#555" stroke-width="1.30" fill="none" stroke-linecap="round"/>
<rect x="321.0" y="214.8" width="0.9" height="0.9" fill="#555"/>
<path d="M293.0,203.0 l2.0,-1.9" stroke="#555" stroke-width="1.30" fill="none" stroke-linecap="round"/>
<rect x="295.3" y="200.1" width="0.9" height="0.9" fill="#555"/>
<path d="M330.2,217.4 l2.0,-1.9" stroke="#555" stroke-width="1.30" fill="none" stroke-linecap="round"/>
<rect x="332.4" y="214.8" width="0.9" height="0.9" fill="#555"/>
<path d="M293.0,214.7 l2.0,-1.9" stroke="#555" stroke-width="1.30" fill="none" stroke-linecap="round"/>
<rect x="295.3" y="211.8" width="0.9" height="0.9" fill="#555"/>
<path d="M341.6,217.4 l2.0,-1.9" stroke="#555" stroke-width="1.30" fill="none" stroke-linecap="round"/>
<rect x="343.8" y="214.8" width="0.9" height="0.9" fill="#555"/>
<line x1="320.2" y1="166.6" x2="320.2" y2="213.39999999999998" stroke="#8a8a8a" stroke-width="0.8"/>
<line x1="297.2" y1="190.6" x2="342.8" y2="190.6" stroke="#8a8a8a" stroke-width="0.8"/>
<rect x="348.2" y="166.6" width="45.6" height="46.8" fill="none" stroke="#999" stroke-width="0.85" />
<path d="M344.0,167.9 l2.0,-1.9" stroke="#555" stroke-width="1.30" fill="none" stroke-linecap="round"/>
<rect x="346.3" y="165.0" width="0.9" height="0.9" fill="#555"/>
<path d="M347.0,217.4 l2.0,-1.9" stroke="#555" stroke-width="1.30" fill="none" stroke-linecap="round"/>
<rect x="349.2" y="214.8" width="0.9" height="0.9" fill="#555"/>
<path d="M344.0,179.6 l2.0,-1.9" stroke="#555" stroke-width="1.30" fill="none" stroke-linecap="round"/>
<rect x="346.3" y="176.7" width="0.9" height="0.9" fill="#555"/>
<path d="M358.4,217.4 l2.0,-1.9" stroke="#555" stroke-width="1.30" fill="none" stroke-linecap="round"/>
<rect x="360.6" y="214.8" width="0.9" height="0.9" fill="#555"/>
<path d="M344.0,191.3 l2.0,-1.9" stroke="#555" stroke-width="1.30" fill="none" stroke-linecap="round"/>
<rect x="346.3" y="188.4" width="0.9" height="0.9" fill="#555"/>
<path d="M369.8,217.4 l2.0,-1.9" stroke="#555" stroke-width="1.30" fill="none" stroke-linecap="round"/>
<rect x="372.0" y="214.8" width="0.9" height="0.9" fill="#555"/>
<path d="M344.0,203.0 l2.0,-1.9" stroke="#555" stroke-width="1.30" fill="none" stroke-linecap="round"/>
<rect x="346.3" y="200.1" width="0.9" height="0.9" fill="#555"/>
<path d="M381.2,217.4 l2.0,-1.9" stroke="#555" stroke-width="1.30" fill="none" stroke-linecap="round"/>
<rect x="383.4" y="214.8" width="0.9" height="0.9" fill="#555"/>
<path d="M344.0,214.7 l2.0,-1.9" stroke="#555" stroke-width="1.30" fill="none" stroke-linecap="round"/>
<rect x="346.3" y="211.8" width="0.9" height="0.9" fill="#555"/>
<path d="M392.6,217.4 l2.0,-1.9" stroke="#555" stroke-width="1.30" fill="none" stroke-linecap="round"/>
<rect x="394.8" y="214.8" width="0.9" height="0.9" fill="#555"/>
<line x1="371.2" y1="166.6" x2="371.2" y2="213.39999999999998" stroke="#8a8a8a" stroke-width="0.8"/>
<line x1="348.2" y1="190.6" x2="393.8" y2="190.6" stroke="#8a8a8a" stroke-width="0.8"/>
<rect x="399.4" y="166.6" width="45.6" height="46.8" fill="none" stroke="#999" stroke-width="0.85" />
<path d="M395.2,167.9 l2.0,-1.9" stroke="#555" stroke-width="1.30" fill="none" stroke-linecap="round"/>
<rect x="397.5" y="165.0" width="0.9" height="0.9" fill="#555"/>
<path d="M398.2,217.4 l2.0,-1.9" stroke="#555" stroke-width="1.30" fill="none" stroke-linecap="round"/>
<rect x="400.4" y="214.8" width="0.9" height="0.9" fill="#555"/>
<path d="M395.2,179.6 l2.0,-1.9" stroke="#555" stroke-width="1.30" fill="none" stroke-linecap="round"/>
<rect x="397.5" y="176.7" width="0.9" height="0.9" fill="#555"/>
<path d="M409.6,217.4 l2.0,-1.9" stroke="#555" stroke-width="1.30" fill="none" stroke-linecap="round"/>
<rect x="411.8" y="214.8" width="0.9" height="0.9" fill="#555"/>
<path d="M395.2,191.3 l2.0,-1.9" stroke="#555" stroke-width="1.30" fill="none" stroke-linecap="round"/>
<rect x="397.5" y="188.4" width="0.9" height="0.9" fill="#555"/>
<path d="M421.0,217.4 l2.0,-1.9" stroke="#555" stroke-width="1.30" fill="none" stroke-linecap="round"/>
<rect x="423.2" y="214.8" width="0.9" height="0.9" fill="#555"/>
<path d="M395.2,203.0 l2.0,-1.9" stroke="#555" stroke-width="1.30" fill="none" stroke-linecap="round"/>
<rect x="397.5" y="200.1" width="0.9" height="0.9" fill="#555"/>
<path d="M432.4,217.4 l2.0,-1.9" stroke="#555" stroke-width="1.30" fill="none" stroke-linecap="round"/>
<rect x="434.6" y="214.8" width="0.9" height="0.9" fill="#555"/>
<path d="M395.2,214.7 l2.0,-1.9" stroke="#555" stroke-width="1.30" fill="none" stroke-linecap="round"/>
<rect x="397.5" y="211.8" width="0.9" height="0.9" fill="#555"/>
<path d="M443.8,217.4 l2.0,-1.9" stroke="#555" stroke-width="1.30" fill="none" stroke-linecap="round"/>
<rect x="446.0" y="214.8" width="0.9" height="0.9" fill="#555"/>
<line x1="422.4" y1="166.6" x2="422.4" y2="213.39999999999998" stroke="#8a8a8a" stroke-width="0.8"/>
<line x1="399.4" y1="190.6" x2="445.0" y2="190.6" stroke="#8a8a8a" stroke-width="0.8"/>
<rect x="246" y="227.3" width="45.6" height="46.8" fill="none" stroke="#999" stroke-width="0.85" />
<path d="M241.8,228.6 l2.0,-1.9" stroke="#555" stroke-width="1.30" fill="none" stroke-linecap="round"/>
<rect x="244.1" y="225.7" width="0.9" height="0.9" fill="#555"/>
<path d="M244.8,278.1 l2.0,-1.9" stroke="#555" stroke-width="1.30" fill="none" stroke-linecap="round"/>
<rect x="247.0" y="275.5" width="0.9" height="0.9" fill="#555"/>
<path d="M241.8,240.3 l2.0,-1.9" stroke="#555" stroke-width="1.30" fill="none" stroke-linecap="round"/>
<rect x="244.1" y="237.4" width="0.9" height="0.9" fill="#555"/>
<path d="M256.2,278.1 l2.0,-1.9" stroke="#555" stroke-width="1.30" fill="none" stroke-linecap="round"/>
<rect x="258.4" y="275.5" width="0.9" height="0.9" fill="#555"/>
<path d="M241.8,252.0 l2.0,-1.9" stroke="#555" stroke-width="1.30" fill="none" stroke-linecap="round"/>
<rect x="244.1" y="249.1" width="0.9" height="0.9" fill="#555"/>
<path d="M267.6,278.1 l2.0,-1.9" stroke="#555" stroke-width="1.30" fill="none" stroke-linecap="round"/>
<rect x="269.8" y="275.5" width="0.9" height="0.9" fill="#555"/>
<path d="M241.8,263.7 l2.0,-1.9" stroke="#555" stroke-width="1.30" fill="none" stroke-linecap="round"/>
<rect x="244.1" y="260.8" width="0.9" height="0.9" fill="#555"/>
<path d="M279.0,278.1 l2.0,-1.9" stroke="#555" stroke-width="1.30" fill="none" stroke-linecap="round"/>
<rect x="281.2" y="275.5" width="0.9" height="0.9" fill="#555"/>
<path d="M241.8,275.4 l2.0,-1.9" stroke="#555" stroke-width="1.30" fill="none" stroke-linecap="round"/>
<rect x="244.1" y="272.5" width="0.9" height="0.9" fill="#555"/>
<path d="M290.4,278.1 l2.0,-1.9" stroke="#555" stroke-width="1.30" fill="none" stroke-linecap="round"/>
<rect x="292.6" y="275.5" width="0.9" height="0.9" fill="#555"/>
<rect x="297.2" y="227.3" width="45.6" height="46.8" fill="none" stroke="#999" stroke-width="0.85" />
<path d="M293.0,228.6 l2.0,-1.9" stroke="#555" stroke-width="1.30" fill="none" stroke-linecap="round"/>
<rect x="295.3" y="225.7" width="0.9" height="0.9" fill="#555"/>
<path d="M296.0,278.1 l2.0,-1.9" stroke="#555" stroke-width="1.30" fill="none" stroke-linecap="round"/>
<rect x="298.2" y="275.5" width="0.9" height="0.9" fill="#555"/>
<path d="M293.0,240.3 l2.0,-1.9" stroke="#555" stroke-width="1.30" fill="none" stroke-linecap="round"/>
<rect x="295.3" y="237.4" width="0.9" height="0.9" fill="#555"/>
<path d="M307.4,278.1 l2.0,-1.9" stroke="#555" stroke-width="1.30" fill="none" stroke-linecap="round"/>
<rect x="309.6" y="275.5" width="0.9" height="0.9" fill="#555"/>
<path d="M293.0,252.0 l2.0,-1.9" stroke="#555" stroke-width="1.30" fill="none" stroke-linecap="round"/>
<rect x="295.3" y="249.1" width="0.9" height="0.9" fill="#555"/>
<path d="M318.8,278.1 l2.0,-1.9" stroke="#555" stroke-width="1.30" fill="none" stroke-linecap="round"/>
<rect x="321.0" y="275.5" width="0.9" height="0.9" fill="#555"/>
<path d="M293.0,263.7 l2.0,-1.9" stroke="#555" stroke-width="1.30" fill="none" stroke-linecap="round"/>
<rect x="295.3" y="260.8" width="0.9" height="0.9" fill="#555"/>
<path d="M330.2,278.1 l2.0,-1.9" stroke="#555" stroke-width="1.30" fill="none" stroke-linecap="round"/>
<rect x="332.4" y="275.5" width="0.9" height="0.9" fill="#555"/>
<path d="M293.0,275.4 l2.0,-1.9" stroke="#555" stroke-width="1.30" fill="none" stroke-linecap="round"/>
<rect x="295.3" y="272.5" width="0.9" height="0.9" fill="#555"/>
<path d="M341.6,278.1 l2.0,-1.9" stroke="#555" stroke-width="1.30" fill="none" stroke-linecap="round"/>
<rect x="343.8" y="275.5" width="0.9" height="0.9" fill="#555"/>
<line x1="320.2" y1="227.3" x2="320.2" y2="274.1" stroke="#8a8a8a" stroke-width="0.8"/>
<line x1="297.2" y1="251.3" x2="342.8" y2="251.3" stroke="#8a8a8a" stroke-width="0.8"/>
<rect x="348.2" y="227.3" width="45.6" height="46.8" fill="none" stroke="#999" stroke-width="0.85" />
<path d="M344.0,228.6 l2.0,-1.9" stroke="#555" stroke-width="1.30" fill="none" stroke-linecap="round"/>
<rect x="346.3" y="225.7" width="0.9" height="0.9" fill="#555"/>
<path d="M347.0,278.1 l2.0,-1.9" stroke="#555" stroke-width="1.30" fill="none" stroke-linecap="round"/>
<rect x="349.2" y="275.5" width="0.9" height="0.9" fill="#555"/>
<path d="M344.0,240.3 l2.0,-1.9" stroke="#555" stroke-width="1.30" fill="none" stroke-linecap="round"/>
<rect x="346.3" y="237.4" width="0.9" height="0.9" fill="#555"/>
<path d="M358.4,278.1 l2.0,-1.9" stroke="#555" stroke-width="1.30" fill="none" stroke-linecap="round"/>
<rect x="360.6" y="275.5" width="0.9" height="0.9" fill="#555"/>
<path d="M344.0,252.0 l2.0,-1.9" stroke="#555" stroke-width="1.30" fill="none" stroke-linecap="round"/>
<rect x="346.3" y="249.1" width="0.9" height="0.9" fill="#555"/>
<path d="M369.8,278.1 l2.0,-1.9" stroke="#555" stroke-width="1.30" fill="none" stroke-linecap="round"/>
<rect x="372.0" y="275.5" width="0.9" height="0.9" fill="#555"/>
<path d="M344.0,263.7 l2.0,-1.9" stroke="#555" stroke-width="1.30" fill="none" stroke-linecap="round"/>
<rect x="346.3" y="260.8" width="0.9" height="0.9" fill="#555"/>
<path d="M381.2,278.1 l2.0,-1.9" stroke="#555" stroke-width="1.30" fill="none" stroke-linecap="round"/>
<rect x="383.4" y="275.5" width="0.9" height="0.9" fill="#555"/>
<path d="M344.0,275.4 l2.0,-1.9" stroke="#555" stroke-width="1.30" fill="none" stroke-linecap="round"/>
<rect x="346.3" y="272.5" width="0.9" height="0.9" fill="#555"/>
<path d="M392.6,278.1 l2.0,-1.9" stroke="#555" stroke-width="1.30" fill="none" stroke-linecap="round"/>
<rect x="394.8" y="275.5" width="0.9" height="0.9" fill="#555"/>
<line x1="371.2" y1="227.3" x2="371.2" y2="274.1" stroke="#8a8a8a" stroke-width="0.8"/>
<line x1="348.2" y1="251.3" x2="393.8" y2="251.3" stroke="#8a8a8a" stroke-width="0.8"/>
<rect x="399.4" y="227.3" width="45.6" height="46.8" fill="none" stroke="#999" stroke-width="0.85" />
<path d="M395.2,228.6 l2.0,-1.9" stroke="#555" stroke-width="1.30" fill="none" stroke-linecap="round"/>
<rect x="397.5" y="225.7" width="0.9" height="0.9" fill="#555"/>
<path d="M398.2,278.1 l2.0,-1.9" stroke="#555" stroke-width="1.30" fill="none" stroke-linecap="round"/>
<rect x="400.4" y="275.5" width="0.9" height="0.9" fill="#555"/>
<path d="M395.2,240.3 l2.0,-1.9" stroke="#555" stroke-width="1.30" fill="none" stroke-linecap="round"/>
<rect x="397.5" y="237.4" width="0.9" height="0.9" fill="#555"/>
<path d="M409.6,278.1 l2.0,-1.9" stroke="#555" stroke-width="1.30" fill="none" stroke-linecap="round"/>
<rect x="411.8" y="275.5" width="0.9" height="0.9" fill="#555"/>
<path d="M395.2,252.0 l2.0,-1.9" stroke="#555" stroke-width="1.30" fill="none" stroke-linecap="round"/>
<rect x="397.5" y="249.1" width="0.9" height="0.9" fill="#555"/>
<path d="M421.0,278.1 l2.0,-1.9" stroke="#555" stroke-width="1.30" fill="none" stroke-linecap="round"/>
<rect x="423.2" y="275.5" width="0.9" height="0.9" fill="#555"/>
<path d="M395.2,263.7 l2.0,-1.9" stroke="#555" stroke-width="1.30" fill="none" stroke-linecap="round"/>
<rect x="397.5" y="260.8" width="0.9" height="0.9" fill="#555"/>
<path d="M432.4,278.1 l2.0,-1.9" stroke="#555" stroke-width="1.30" fill="none" stroke-linecap="round"/>
<rect x="434.6" y="275.5" width="0.9" height="0.9" fill="#555"/>
<path d="M395.2,275.4 l2.0,-1.9" stroke="#555" stroke-width="1.30" fill="none" stroke-linecap="round"/>
<rect x="397.5" y="272.5" width="0.9" height="0.9" fill="#555"/>
<path d="M443.8,278.1 l2.0,-1.9" stroke="#555" stroke-width="1.30" fill="none" stroke-linecap="round"/>
<rect x="446.0" y="275.5" width="0.9" height="0.9" fill="#555"/>
<line x1="422.4" y1="227.3" x2="422.4" y2="274.1" stroke="#8a8a8a" stroke-width="0.8"/>
<line x1="399.4" y1="251.3" x2="445.0" y2="251.3" stroke="#8a8a8a" stroke-width="0.8"/>
<g filter="url(#bl1)">
<rect x="249.5" y="74.4" width="16.0" height="18.6" fill="#cdcdcd" stroke="#999" stroke-width="1.2" />
<rect x="254.7" y="77.8" width="1.3" height="0.7" fill="#a8a8a8"/>
<rect x="255.3" y="76.3" width="1.1" height="0.6" fill="#989898"/>
<rect x="255.9" y="79.2" width="1.2" height="0.7" fill="#a8a8a8"/>
<rect x="262.8" y="85.2" width="1.2" height="0.7" fill="#989898"/>
<rect x="251.1" y="78.8" width="1.2" height="0.7" fill="#989898"/>
<rect x="252.4" y="77.2" width="0.9" height="1.4" fill="#bcbcbc"/>
<rect x="251.8" y="84.3" width="0.8" height="0.7" fill="#a8a8a8"/>
<rect x="257.8" y="85.1" width="1.1" height="1.1" fill="#e0e0e0"/>
<rect x="256.6" y="89.8" width="1.0" height="0.8" fill="#bcbcbc"/>
<rect x="259.6" y="79.2" width="1.2" height="1.1" fill="#e0e0e0"/>
<rect x="260.0" y="79.9" width="1.6" height="0.7" fill="#989898"/>
<rect x="252.6" y="80.7" width="1.5" height="1.0" fill="#a8a8a8"/>
<rect x="260.4" y="84.3" width="1.5" height="0.9" fill="#e0e0e0"/>
<rect x="258.2" y="84.4" width="1.1" height="1.4" fill="#e0e0e0"/>
<rect x="256.7" y="85.8" width="0.7" height="1.3" fill="#989898"/>
<rect x="254.2" y="81.4" width="1.3" height="0.6" fill="#989898"/>
<rect x="255.1" y="84.9" width="1.1" height="0.8" fill="#e0e0e0"/>
<rect x="252.2" y="79.3" width="1.0" height="1.5" fill="#a8a8a8"/>
<rect x="252.7" y="81.7" width="0.9" height="0.7" fill="#989898"/>
<rect x="261.7" y="79.7" width="1.0" height="1.0" fill="#989898"/>
<rect x="263.0" y="77.8" width="0.8" height="0.8" fill="#bcbcbc"/>
<rect x="250.7" y="88.4" width="0.8" height="0.9" fill="#bcbcbc"/>
<rect x="255.9" y="81.2" width="1.2" height="1.6" fill="#a8a8a8"/>
<rect x="256.4" y="89.0" width="1.6" height="1.3" fill="#989898"/>
<rect x="255.7" y="81.5" width="1.1" height="1.0" fill="#bcbcbc"/>
<rect x="251.4" y="78.7" width="0.8" height="0.9" fill="#a8a8a8"/>
<rect x="251.8" y="84.2" width="1.1" height="1.5" fill="#a8a8a8"/>
<rect x="251.4" y="78.6" width="1.0" height="1.2" fill="#e0e0e0"/>
<rect x="258.3" y="82.8" width="0.7" height="1.1" fill="#989898"/>
<rect x="256.7" y="80.3" width="0.7" height="1.3" fill="#e0e0e0"/>
<rect x="256.7" y="86.2" width="1.1" height="0.8" fill="#e0e0e0"/>
<rect x="252.4" y="83.9" width="0.6" height="1.1" fill="#a8a8a8"/>
<rect x="259.6" y="79.5" width="1.0" height="0.8" fill="#bcbcbc"/>
<rect x="257.4" y="87.6" width="0.9" height="0.8" fill="#bcbcbc"/>
<rect x="261.0" y="88.2" width="1.3" height="0.8" fill="#989898"/>
<rect x="255.1" y="75.9" width="0.6" height="0.9" fill="#e0e0e0"/>
<rect x="253.0" y="84.8" width="0.9" height="1.4" fill="#e0e0e0"/>
<rect x="262.9" y="81.1" width="0.8" height="0.8" fill="#bcbcbc"/>
<rect x="254.9" y="82.9" width="1.6" height="1.2" fill="#a8a8a8"/>
<rect x="256.7" y="85.6" width="1.4" height="0.7" fill="#a8a8a8"/>
<rect x="262.3" y="87.6" width="1.4" height="1.1" fill="#bcbcbc"/>
<rect x="256.1" y="85.3" width="0.7" height="1.5" fill="#989898"/>
<rect x="256.5" y="87.0" width="0.7" height="0.8" fill="#bcbcbc"/>
<rect x="250.9" y="84.6" width="1.1" height="1.3" fill="#989898"/>
<rect x="259.0" y="80.9" width="1.1" height="0.7" fill="#a8a8a8"/>
<rect x="260.9" y="86.7" width="0.7" height="1.3" fill="#bcbcbc"/>
<rect x="256.1" y="89.0" width="1.4" height="0.8" fill="#e0e0e0"/>
<rect x="253.3" y="83.2" width="1.4" height="0.9" fill="#989898"/>
<rect x="261.3" y="76.4" width="1.3" height="1.5" fill="#989898"/>
<rect x="261.3" y="89.1" width="0.7" height="0.8" fill="#a8a8a8"/>
<rect x="261.8" y="87.5" width="1.2" height="1.4" fill="#bcbcbc"/>
<rect x="252.7" y="82.8" width="1.3" height="1.2" fill="#e0e0e0"/>
<rect x="259.4" y="83.7" width="1.1" height="1.4" fill="#a8a8a8"/>
<rect x="253.7" y="79.7" width="1.4" height="1.1" fill="#a8a8a8"/>
<rect x="260.4" y="89.6" width="1.0" height="1.2" fill="#bcbcbc"/>
<rect x="259.5" y="82.5" width="1.1" height="1.1" fill="#bcbcbc"/>
<rect x="259.6" y="89.1" width="1.5" height="0.9" fill="#bcbcbc"/>
<rect x="261.4" y="77.5" width="0.7" height="1.0" fill="#a8a8a8"/>
<rect x="259.2" y="82.1" width="0.8" height="0.9" fill="#a8a8a8"/>
<rect x="262.2" y="77.8" width="1.3" height="1.3" fill="#bcbcbc"/>
<rect x="251.3" y="55.3" width="13.5" height="13" fill="#f0f0f0" stroke="#999" stroke-width="1.2" />
<rect x="255.0" y="57.7" width="1.1" height="1.3" fill="#d8d8d8"/>
<rect x="256.5" y="61.2" width="1.6" height="1.4" fill="#d8d8d8"/>
<rect x="259.7" y="66.2" width="1.0" height="1.0" fill="#e0e0e0"/>
<rect x="255.6" y="63.5" width="0.6" height="1.2" fill="#e0e0e0"/>
<rect x="259.7" y="60.1" width="1.1" height="0.9" fill="#d8d8d8"/>
<rect x="253.5" y="65.5" width="0.8" height="1.5" fill="#d8d8d8"/>
<rect x="255.1" y="56.7" width="1.4" height="0.9" fill="#d8d8d8"/>
<rect x="260.9" y="64.8" width="1.3" height="1.5" fill="#e0e0e0"/>
<rect x="253.9" y="65.5" width="1.2" height="1.3" fill="#d8d8d8"/>
<rect x="255.2" y="64.3" width="0.8" height="1.5" fill="#e0e0e0"/>
<rect x="262.2" y="62.6" width="1.4" height="0.7" fill="#d8d8d8"/>
<rect x="253.0" y="64.9" width="1.1" height="0.9" fill="#cccccc"/>
<rect x="256.7" y="65.5" width="1.2" height="0.6" fill="#cccccc"/>
<rect x="254.8" y="57.4" width="0.8" height="0.7" fill="#d8d8d8"/>
<rect x="265.1" y="61.9" width="14.399999999999999" height="17.299999999999997" fill="#c2c2c2" stroke="#999" stroke-width="1.2" />
<rect x="276.7" y="71.9" width="1.1" height="0.8" fill="#b8b8b8"/>
<rect x="271.8" y="65.4" width="0.9" height="0.6" fill="#b8b8b8"/>
<rect x="266.5" y="63.2" width="1.1" height="1.6" fill="#d0d0d0"/>
<rect x="271.5" y="76.3" width="0.7" height="1.4" fill="#b8b8b8"/>
<rect x="273.6" y="70.7" width="1.5" height="1.6" fill="#b8b8b8"/>
<rect x="273.9" y="76.9" width="0.9" height="1.4" fill="#d0d0d0"/>
<rect x="274.4" y="64.9" width="1.6" height="1.6" fill="#a8a8a8"/>
<rect x="266.3" y="71.8" width="1.5" height="1.0" fill="#a8a8a8"/>
<rect x="267.1" y="74.9" width="1.5" height="1.3" fill="#b8b8b8"/>
<rect x="272.9" y="72.8" width="0.6" height="0.8" fill="#b8b8b8"/>
<rect x="271.2" y="66.7" width="1.6" height="1.6" fill="#d0d0d0"/>
<rect x="269.8" y="63.4" width="1.5" height="0.8" fill="#a8a8a8"/>
<rect x="266.1" y="68.4" width="1.1" height="1.1" fill="#a8a8a8"/>
<rect x="268.9" y="74.0" width="0.7" height="1.4" fill="#a8a8a8"/>
<rect x="270.7" y="63.5" width="0.6" height="0.9" fill="#a8a8a8"/>
<rect x="267.1" y="76.6" width="1.5" height="0.8" fill="#d0d0d0"/>
<rect x="275.0" y="71.4" width="1.4" height="1.3" fill="#b8b8b8"/>
<rect x="267.8" y="73.3" width="1.2" height="0.6" fill="#d0d0d0"/>
<rect x="276.3" y="71.9" width="1.3" height="1.4" fill="#a8a8a8"/>
<rect x="276.5" y="73.7" width="1.2" height="1.4" fill="#a8a8a8"/>
<rect x="275.5" y="71.3" width="1.5" height="1.3" fill="#d0d0d0"/>
<rect x="273.4" y="64.1" width="0.6" height="1.2" fill="#a8a8a8"/>
<rect x="270.4" y="69.4" width="0.7" height="0.6" fill="#d0d0d0"/>
<rect x="273.9" y="69.9" width="0.6" height="1.4" fill="#d0d0d0"/>
<rect x="276.7" y="75.7" width="0.7" height="1.1" fill="#d0d0d0"/>
<rect x="274.5" y="66.5" width="0.7" height="0.9" fill="#d0d0d0"/>
<rect x="274.7" y="66.2" width="1.2" height="1.1" fill="#b8b8b8"/>
<rect x="267.0" y="75.9" width="0.9" height="0.6" fill="#d0d0d0"/>
<rect x="273.4" y="64.0" width="0.7" height="0.9" fill="#d0d0d0"/>
<rect x="274.0" y="71.8" width="0.7" height="1.1" fill="#b8b8b8"/>
<ellipse cx="271.4" cy="71.1" rx="5" ry="6.2" fill="#8a8a8a"/>
<ellipse cx="271.4" cy="71.1" rx="3.4" ry="4.2" fill="#5a5a5a"/>
<ellipse cx="271.4" cy="71.1" rx="1.4" ry="1.7" fill="#fff"/>
</g>
<g filter="url(#bl1)">
<rect x="248.3" y="134.3" width="16.4" height="18.300000000000004" fill="#cdcdcd" stroke="#999" stroke-width="1.2" />
<rect x="252.9" y="145.6" width="1.3" height="1.3" fill="#e0e0e0"/>
<rect x="258.8" y="139.7" width="1.1" height="1.4" fill="#bcbcbc"/>
<rect x="253.5" y="136.6" width="1.1" height="0.9" fill="#a8a8a8"/>
<rect x="260.3" y="150.1" width="1.0" height="0.9" fill="#bcbcbc"/>
<rect x="261.6" y="149.5" width="0.7" height="0.7" fill="#e0e0e0"/>
<rect x="262.1" y="137.3" width="1.4" height="1.1" fill="#a8a8a8"/>
<rect x="258.7" y="138.8" width="1.5" height="1.1" fill="#a8a8a8"/>
<rect x="251.4" y="149.8" width="1.3" height="1.0" fill="#bcbcbc"/>
<rect x="254.9" y="141.1" width="0.7" height="0.9" fill="#e0e0e0"/>
<rect x="259.4" y="148.1" width="0.7" height="1.5" fill="#a8a8a8"/>
<rect x="261.4" y="139.7" width="1.0" height="1.0" fill="#a8a8a8"/>
<rect x="254.1" y="141.8" width="0.9" height="0.6" fill="#a8a8a8"/>
<rect x="250.0" y="145.4" width="1.2" height="0.7" fill="#e0e0e0"/>
<rect x="255.1" y="140.1" width="1.4" height="1.4" fill="#989898"/>
<rect x="261.1" y="147.7" width="1.2" height="1.5" fill="#bcbcbc"/>
<rect x="258.9" y="136.1" width="1.3" height="1.1" fill="#bcbcbc"/>
<rect x="257.9" y="139.7" width="0.6" height="1.5" fill="#bcbcbc"/>
<rect x="251.6" y="141.6" width="0.9" height="0.9" fill="#e0e0e0"/>
<rect x="254.7" y="139.0" width="1.1" height="1.3" fill="#a8a8a8"/>
<rect x="251.5" y="137.8" width="0.8" height="1.5" fill="#989898"/>
<rect x="256.7" y="142.2" width="0.9" height="1.4" fill="#989898"/>
<rect x="251.2" y="138.2" width="0.7" height="0.9" fill="#a8a8a8"/>
<rect x="253.6" y="140.9" width="1.4" height="0.8" fill="#a8a8a8"/>
<rect x="259.3" y="141.6" width="1.0" height="1.1" fill="#989898"/>
<rect x="252.9" y="146.8" width="1.1" height="1.2" fill="#e0e0e0"/>
<rect x="251.0" y="143.0" width="1.2" height="1.5" fill="#bcbcbc"/>
<rect x="250.5" y="149.0" width="1.0" height="1.2" fill="#989898"/>
<rect x="262.1" y="148.3" width="1.5" height="0.6" fill="#a8a8a8"/>
<rect x="255.0" y="147.0" width="1.4" height="1.6" fill="#989898"/>
<rect x="249.3" y="141.3" width="1.5" height="1.4" fill="#989898"/>
<rect x="262.3" y="139.1" width="0.7" height="0.8" fill="#a8a8a8"/>
<rect x="261.9" y="146.3" width="1.2" height="1.4" fill="#989898"/>
<rect x="250.4" y="147.2" width="0.6" height="0.7" fill="#a8a8a8"/>
<rect x="257.9" y="139.9" width="0.7" height="0.9" fill="#989898"/>
<rect x="258.7" y="137.0" width="0.7" height="1.1" fill="#bcbcbc"/>
<rect x="254.5" y="138.7" width="1.2" height="0.6" fill="#e0e0e0"/>
<rect x="262.7" y="139.6" width="0.9" height="1.4" fill="#bcbcbc"/>
<rect x="255.7" y="138.9" width="0.8" height="1.6" fill="#e0e0e0"/>
<rect x="250.0" y="138.3" width="1.5" height="1.2" fill="#a8a8a8"/>
<rect x="252.7" y="145.5" width="1.5" height="0.8" fill="#a8a8a8"/>
<rect x="258.6" y="146.3" width="1.0" height="1.0" fill="#a8a8a8"/>
<rect x="260.0" y="146.6" width="1.1" height="0.8" fill="#bcbcbc"/>
<rect x="253.5" y="147.8" width="0.8" height="0.8" fill="#e0e0e0"/>
<rect x="250.8" y="144.8" width="1.2" height="1.5" fill="#989898"/>
<rect x="254.9" y="145.5" width="1.5" height="0.7" fill="#989898"/>
<rect x="250.0" y="135.7" width="1.2" height="1.0" fill="#a8a8a8"/>
<rect x="251.8" y="142.2" width="1.3" height="0.9" fill="#a8a8a8"/>
<rect x="262.7" y="149.6" width="0.9" height="0.8" fill="#989898"/>
<rect x="249.7" y="145.5" width="1.0" height="1.0" fill="#e0e0e0"/>
<rect x="255.2" y="137.0" width="0.7" height="0.7" fill="#989898"/>
<rect x="262.1" y="137.2" width="1.6" height="0.8" fill="#e0e0e0"/>
<rect x="259.6" y="140.0" width="1.4" height="0.7" fill="#989898"/>
<rect x="251.9" y="143.6" width="1.0" height="0.9" fill="#989898"/>
<rect x="249.7" y="141.6" width="1.4" height="1.4" fill="#a8a8a8"/>
<rect x="254.3" y="142.4" width="1.4" height="0.7" fill="#bcbcbc"/>
<rect x="259.3" y="149.0" width="0.9" height="0.9" fill="#a8a8a8"/>
<rect x="252.8" y="146.3" width="0.9" height="0.9" fill="#a8a8a8"/>
<rect x="259.0" y="144.4" width="1.4" height="1.5" fill="#a8a8a8"/>
<rect x="249.6" y="138.9" width="1.1" height="1.6" fill="#989898"/>
<rect x="259.9" y="149.3" width="1.4" height="0.7" fill="#989898"/>
<rect x="251.3" y="111.2" width="13.399999999999999" height="12.899999999999999" fill="#f0f0f0" stroke="#999" stroke-width="1.2" />
<rect x="254.2" y="120.1" width="1.3" height="1.4" fill="#d8d8d8"/>
<rect x="258.6" y="115.4" width="0.9" height="1.0" fill="#cccccc"/>
<rect x="253.1" y="114.2" width="1.4" height="0.8" fill="#d8d8d8"/>
<rect x="259.1" y="117.0" width="1.1" height="0.8" fill="#e0e0e0"/>
<rect x="261.5" y="122.0" width="0.9" height="0.7" fill="#d8d8d8"/>
<rect x="256.7" y="122.0" width="1.6" height="0.8" fill="#d8d8d8"/>
<rect x="256.6" y="118.3" width="1.3" height="1.3" fill="#cccccc"/>
<rect x="260.2" y="119.9" width="0.9" height="0.9" fill="#e0e0e0"/>
<rect x="256.2" y="119.5" width="0.8" height="0.8" fill="#d8d8d8"/>
<rect x="254.7" y="115.0" width="1.5" height="0.8" fill="#d8d8d8"/>
<rect x="256.4" y="122.0" width="1.1" height="0.8" fill="#d8d8d8"/>
<rect x="259.1" y="122.0" width="0.7" height="1.1" fill="#d8d8d8"/>
<rect x="261.0" y="121.3" width="0.6" height="0.9" fill="#d8d8d8"/>
<rect x="252.8" y="118.1" width="1.4" height="0.8" fill="#d8d8d8"/>
<rect x="267.2" y="114.80000000000001" width="14.3" height="20.6" fill="#c2c2c2" stroke="#999" stroke-width="1.2" />
<rect x="272.4" y="131.0" width="1.0" height="0.9" fill="#d0d0d0"/>
<rect x="278.9" y="117.7" width="1.2" height="1.2" fill="#a8a8a8"/>
<rect x="268.6" y="121.8" width="0.6" height="1.6" fill="#a8a8a8"/>
<rect x="275.0" y="127.3" width="0.8" height="0.6" fill="#b8b8b8"/>
<rect x="272.8" y="122.3" width="1.2" height="0.7" fill="#a8a8a8"/>
<rect x="277.2" y="125.4" width="0.7" height="0.7" fill="#b8b8b8"/>
<rect x="275.7" y="118.5" width="1.1" height="1.3" fill="#b8b8b8"/>
<rect x="276.1" y="123.0" width="0.9" height="0.9" fill="#a8a8a8"/>
<rect x="271.7" y="125.8" width="1.0" height="1.0" fill="#b8b8b8"/>
<rect x="275.5" y="122.7" width="1.0" height="1.5" fill="#b8b8b8"/>
<rect x="278.4" y="123.3" width="1.4" height="1.0" fill="#b8b8b8"/>
<rect x="273.4" y="118.7" width="0.6" height="1.2" fill="#d0d0d0"/>
<rect x="277.3" y="122.8" width="1.2" height="1.5" fill="#d0d0d0"/>
<rect x="273.9" y="118.4" width="0.9" height="1.1" fill="#a8a8a8"/>
<rect x="269.4" y="124.4" width="1.4" height="1.6" fill="#a8a8a8"/>
<rect x="271.6" y="130.5" width="0.6" height="1.5" fill="#b8b8b8"/>
<rect x="268.8" y="132.1" width="1.0" height="1.5" fill="#d0d0d0"/>
<rect x="276.0" y="131.5" width="1.2" height="1.5" fill="#d0d0d0"/>
<rect x="272.8" y="130.7" width="1.4" height="0.8" fill="#a8a8a8"/>
<rect x="268.7" y="132.3" width="0.8" height="1.0" fill="#a8a8a8"/>
<rect x="271.0" y="128.6" width="1.5" height="0.6" fill="#d0d0d0"/>
<rect x="277.7" y="127.6" width="1.3" height="0.9" fill="#b8b8b8"/>
<rect x="275.0" y="125.5" width="1.2" height="0.9" fill="#b8b8b8"/>
<rect x="271.7" y="120.2" width="1.0" height="1.0" fill="#d0d0d0"/>
<rect x="273.2" y="116.2" width="1.2" height="1.1" fill="#a8a8a8"/>
<rect x="273.2" y="126.7" width="1.4" height="1.4" fill="#b8b8b8"/>
<rect x="272.7" y="117.0" width="1.0" height="1.0" fill="#b8b8b8"/>
<rect x="273.9" y="127.4" width="0.6" height="0.7" fill="#d0d0d0"/>
<rect x="271.7" y="128.5" width="0.7" height="1.4" fill="#b8b8b8"/>
<rect x="275.6" y="129.6" width="0.6" height="0.7" fill="#d0d0d0"/>
<ellipse cx="276.5" cy="125.4" rx="5" ry="6.2" fill="#8a8a8a"/>
<ellipse cx="276.5" cy="125.4" rx="3.4" ry="4.2" fill="#5a5a5a"/>
<ellipse cx="276.5" cy="125.4" rx="1.4" ry="1.7" fill="#fff"/>
</g>
<g filter="url(#bl1)">
<rect x="249.3" y="194.39999999999998" width="16.099999999999998" height="18.900000000000002" fill="#cdcdcd" stroke="#999" stroke-width="1.2" />
<rect x="259.9" y="208.4" width="0.8" height="1.6" fill="#989898"/>
<rect x="254.1" y="208.3" width="1.4" height="1.3" fill="#bcbcbc"/>
<rect x="251.2" y="201.0" width="1.4" height="0.8" fill="#e0e0e0"/>
<rect x="262.2" y="202.7" width="0.9" height="1.6" fill="#989898"/>
<rect x="253.0" y="199.6" width="1.1" height="0.9" fill="#a8a8a8"/>
<rect x="252.9" y="201.8" width="1.2" height="0.9" fill="#e0e0e0"/>
<rect x="262.0" y="198.1" width="1.4" height="0.7" fill="#a8a8a8"/>
<rect x="258.6" y="201.1" width="1.5" height="1.2" fill="#a8a8a8"/>
<rect x="253.6" y="203.9" width="1.5" height="1.3" fill="#e0e0e0"/>
<rect x="253.8" y="211.1" width="1.2" height="1.0" fill="#a8a8a8"/>
<rect x="256.1" y="198.2" width="1.3" height="0.6" fill="#e0e0e0"/>
<rect x="254.4" y="210.8" width="1.5" height="1.5" fill="#e0e0e0"/>
<rect x="259.9" y="207.3" width="0.8" height="0.9" fill="#989898"/>
<rect x="255.8" y="201.2" width="0.6" height="1.1" fill="#a8a8a8"/>
<rect x="250.6" y="195.4" width="1.0" height="0.7" fill="#e0e0e0"/>
<rect x="257.3" y="202.0" width="0.9" height="0.7" fill="#e0e0e0"/>
<rect x="258.5" y="203.0" width="0.7" height="1.5" fill="#bcbcbc"/>
<rect x="259.6" y="202.6" width="0.7" height="0.7" fill="#e0e0e0"/>
<rect x="255.6" y="199.6" width="0.6" height="1.2" fill="#e0e0e0"/>
<rect x="258.1" y="204.6" width="1.2" height="1.1" fill="#989898"/>
<rect x="253.6" y="209.8" width="0.6" height="1.1" fill="#989898"/>
<rect x="252.7" y="197.9" width="1.5" height="0.7" fill="#bcbcbc"/>
<rect x="252.2" y="198.6" width="1.2" height="1.1" fill="#989898"/>
<rect x="261.0" y="198.2" width="0.9" height="0.9" fill="#a8a8a8"/>
<rect x="263.3" y="206.9" width="1.1" height="1.1" fill="#989898"/>
<rect x="261.4" y="207.2" width="1.1" height="1.3" fill="#989898"/>
<rect x="252.6" y="211.2" width="0.9" height="1.2" fill="#a8a8a8"/>
<rect x="254.7" y="207.3" width="1.3" height="1.4" fill="#a8a8a8"/>
<rect x="253.8" y="204.2" width="1.0" height="1.4" fill="#e0e0e0"/>
<rect x="254.2" y="210.2" width="1.5" height="0.7" fill="#a8a8a8"/>
<rect x="252.5" y="209.8" width="1.4" height="0.8" fill="#bcbcbc"/>
<rect x="260.1" y="200.6" width="1.5" height="0.9" fill="#bcbcbc"/>
<rect x="255.3" y="208.9" width="1.5" height="1.6" fill="#989898"/>
<rect x="256.5" y="203.8" width="0.6" height="0.6" fill="#bcbcbc"/>
<rect x="257.8" y="200.3" width="0.8" height="1.2" fill="#a8a8a8"/>
<rect x="257.7" y="198.1" width="0.6" height="0.7" fill="#bcbcbc"/>
<rect x="254.8" y="197.7" width="0.6" height="0.6" fill="#a8a8a8"/>
<rect x="259.4" y="207.1" width="0.7" height="1.2" fill="#e0e0e0"/>
<rect x="252.9" y="210.6" width="1.1" height="1.3" fill="#989898"/>
<rect x="251.7" y="198.7" width="0.7" height="0.6" fill="#a8a8a8"/>
<rect x="261.1" y="205.4" width="0.9" height="0.7" fill="#a8a8a8"/>
<rect x="260.7" y="205.7" width="0.9" height="0.9" fill="#e0e0e0"/>
<rect x="250.6" y="199.5" width="0.9" height="1.3" fill="#e0e0e0"/>
<rect x="262.2" y="207.6" width="1.2" height="1.1" fill="#e0e0e0"/>
<rect x="258.4" y="195.9" width="1.0" height="1.0" fill="#a8a8a8"/>
<rect x="254.8" y="206.6" width="1.1" height="0.8" fill="#a8a8a8"/>
<rect x="257.8" y="200.0" width="1.0" height="1.1" fill="#e0e0e0"/>
<rect x="260.3" y="210.9" width="0.6" height="1.1" fill="#989898"/>
<rect x="259.4" y="208.5" width="1.6" height="1.2" fill="#e0e0e0"/>
<rect x="257.9" y="197.9" width="1.4" height="1.5" fill="#bcbcbc"/>
<rect x="256.8" y="197.1" width="1.2" height="0.7" fill="#a8a8a8"/>
<rect x="258.5" y="201.1" width="1.0" height="1.0" fill="#a8a8a8"/>
<rect x="255.8" y="205.7" width="1.0" height="0.9" fill="#989898"/>
<rect x="262.1" y="203.4" width="1.0" height="1.5" fill="#bcbcbc"/>
<rect x="262.7" y="197.4" width="1.2" height="1.3" fill="#a8a8a8"/>
<rect x="254.9" y="200.6" width="0.8" height="1.4" fill="#e0e0e0"/>
<rect x="252.5" y="202.4" width="1.4" height="1.2" fill="#bcbcbc"/>
<rect x="254.7" y="205.6" width="1.3" height="1.1" fill="#e0e0e0"/>
<rect x="254.2" y="206.6" width="1.4" height="0.8" fill="#bcbcbc"/>
<rect x="263.1" y="206.9" width="1.2" height="0.9" fill="#bcbcbc"/>
<rect x="251.1" y="175.6" width="13.700000000000001" height="12.9" fill="#f0f0f0" stroke="#999" stroke-width="1.2" />
<rect x="255.6" y="178.5" width="1.6" height="1.3" fill="#d8d8d8"/>
<rect x="253.9" y="183.1" width="0.8" height="0.8" fill="#d8d8d8"/>
<rect x="260.6" y="183.9" width="1.0" height="0.8" fill="#cccccc"/>
<rect x="261.9" y="179.4" width="1.5" height="1.1" fill="#d8d8d8"/>
<rect x="256.4" y="184.4" width="1.3" height="1.1" fill="#cccccc"/>
<rect x="255.3" y="176.8" width="0.9" height="1.3" fill="#d8d8d8"/>
<rect x="260.0" y="185.6" width="1.0" height="1.2" fill="#cccccc"/>
<rect x="259.0" y="185.0" width="1.3" height="1.3" fill="#cccccc"/>
<rect x="259.6" y="185.0" width="1.3" height="1.2" fill="#e0e0e0"/>
<rect x="256.7" y="179.2" width="1.3" height="1.5" fill="#d8d8d8"/>
<rect x="260.5" y="183.7" width="1.2" height="0.9" fill="#e0e0e0"/>
<rect x="257.3" y="176.8" width="1.5" height="1.1" fill="#cccccc"/>
<rect x="262.1" y="178.4" width="1.3" height="1.4" fill="#e0e0e0"/>
<rect x="261.0" y="185.6" width="0.7" height="0.9" fill="#d8d8d8"/>
<rect x="266.2" y="180.2" width="14.3" height="17.3" fill="#c2c2c2" stroke="#999" stroke-width="1.2" />
<rect x="269.0" y="192.4" width="1.5" height="1.1" fill="#a8a8a8"/>
<rect x="276.8" y="187.7" width="0.8" height="1.1" fill="#a8a8a8"/>
<rect x="274.4" y="193.1" width="1.1" height="1.0" fill="#b8b8b8"/>
<rect x="269.6" y="191.0" width="1.0" height="1.4" fill="#a8a8a8"/>
<rect x="275.4" y="190.0" width="1.2" height="0.9" fill="#b8b8b8"/>
<rect x="271.7" y="181.4" width="1.0" height="1.0" fill="#d0d0d0"/>
<rect x="274.8" y="189.5" width="0.7" height="0.9" fill="#b8b8b8"/>
<rect x="277.8" y="188.7" width="0.8" height="1.4" fill="#b8b8b8"/>
<rect x="272.4" y="183.6" width="1.5" height="0.7" fill="#d0d0d0"/>
<rect x="269.4" y="190.4" width="1.3" height="1.4" fill="#a8a8a8"/>
<rect x="271.2" y="190.3" width="1.4" height="1.4" fill="#b8b8b8"/>
<rect x="278.5" y="192.1" width="1.2" height="1.4" fill="#b8b8b8"/>
<rect x="271.2" y="193.4" width="0.9" height="1.0" fill="#b8b8b8"/>
<rect x="278.3" y="190.9" width="1.1" height="1.4" fill="#b8b8b8"/>
<rect x="271.2" y="190.6" width="0.9" height="1.1" fill="#d0d0d0"/>
<rect x="274.4" y="190.6" width="1.0" height="1.5" fill="#b8b8b8"/>
<rect x="267.8" y="193.0" width="1.5" height="1.4" fill="#a8a8a8"/>
<rect x="273.2" y="186.1" width="1.2" height="1.3" fill="#a8a8a8"/>
<rect x="278.0" y="190.6" width="0.9" height="0.7" fill="#a8a8a8"/>
<rect x="276.9" y="183.9" width="1.1" height="1.4" fill="#a8a8a8"/>
<rect x="277.4" y="192.5" width="0.8" height="1.5" fill="#d0d0d0"/>
<rect x="278.2" y="182.5" width="1.5" height="1.1" fill="#d0d0d0"/>
<rect x="276.7" y="184.0" width="1.3" height="1.1" fill="#d0d0d0"/>
<rect x="276.7" y="190.8" width="0.7" height="0.7" fill="#b8b8b8"/>
<rect x="269.8" y="183.2" width="1.1" height="0.7" fill="#b8b8b8"/>
<rect x="277.4" y="191.2" width="0.8" height="0.8" fill="#d0d0d0"/>
<rect x="277.0" y="181.3" width="1.4" height="1.1" fill="#d0d0d0"/>
<rect x="272.8" y="185.4" width="1.1" height="1.0" fill="#d0d0d0"/>
<rect x="268.1" y="190.3" width="1.2" height="0.6" fill="#d0d0d0"/>
<rect x="267.7" y="191.7" width="1.6" height="1.4" fill="#a8a8a8"/>
<ellipse cx="272" cy="188.7" rx="5" ry="6.2" fill="#8a8a8a"/>
<ellipse cx="272" cy="188.7" rx="3.4" ry="4.2" fill="#5a5a5a"/>
<ellipse cx="272" cy="188.7" rx="1.4" ry="1.7" fill="#fff"/>
</g>
<g filter="url(#bl1)">
<rect x="249" y="255.0" width="16.6" height="18.3" fill="#cdcdcd" stroke="#999" stroke-width="1.2" />
<rect x="256.9" y="263.4" width="1.5" height="0.6" fill="#989898"/>
<rect x="258.5" y="261.2" width="1.5" height="1.0" fill="#989898"/>
<rect x="260.6" y="264.5" width="1.5" height="0.9" fill="#e0e0e0"/>
<rect x="255.7" y="264.5" width="1.4" height="0.9" fill="#989898"/>
<rect x="255.5" y="263.7" width="0.9" height="1.1" fill="#bcbcbc"/>
<rect x="258.9" y="268.1" width="0.9" height="0.9" fill="#e0e0e0"/>
<rect x="251.7" y="270.9" width="0.7" height="1.6" fill="#989898"/>
<rect x="259.8" y="269.5" width="1.1" height="0.6" fill="#e0e0e0"/>
<rect x="251.5" y="256.7" width="1.4" height="1.1" fill="#a8a8a8"/>
<rect x="260.7" y="269.9" width="1.2" height="1.2" fill="#a8a8a8"/>
<rect x="252.9" y="266.2" width="1.1" height="1.4" fill="#a8a8a8"/>
<rect x="259.0" y="269.3" width="1.0" height="0.7" fill="#a8a8a8"/>
<rect x="255.0" y="268.6" width="1.4" height="1.2" fill="#e0e0e0"/>
<rect x="261.7" y="258.8" width="0.6" height="0.6" fill="#a8a8a8"/>
<rect x="256.8" y="264.0" width="1.4" height="1.4" fill="#989898"/>
<rect x="257.8" y="270.1" width="1.0" height="0.6" fill="#989898"/>
<rect x="258.1" y="271.2" width="1.3" height="0.8" fill="#989898"/>
<rect x="257.5" y="257.3" width="1.1" height="1.5" fill="#a8a8a8"/>
<rect x="255.8" y="256.1" width="1.3" height="1.6" fill="#a8a8a8"/>
<rect x="253.0" y="257.9" width="1.1" height="0.9" fill="#bcbcbc"/>
<rect x="256.1" y="267.4" width="1.5" height="1.0" fill="#bcbcbc"/>
<rect x="259.9" y="257.3" width="1.2" height="1.3" fill="#989898"/>
<rect x="259.1" y="269.6" width="1.5" height="0.7" fill="#a8a8a8"/>
<rect x="250.2" y="256.2" width="1.3" height="1.4" fill="#a8a8a8"/>
<rect x="255.3" y="260.8" width="1.2" height="1.6" fill="#989898"/>
<rect x="258.3" y="260.8" width="1.5" height="1.3" fill="#989898"/>
<rect x="259.2" y="258.2" width="1.4" height="1.0" fill="#bcbcbc"/>
<rect x="258.6" y="262.4" width="1.0" height="1.4" fill="#e0e0e0"/>
<rect x="260.7" y="264.7" width="0.9" height="0.7" fill="#e0e0e0"/>
<rect x="261.8" y="267.1" width="0.6" height="0.8" fill="#e0e0e0"/>
<rect x="258.0" y="270.9" width="0.8" height="1.0" fill="#989898"/>
<rect x="258.2" y="269.7" width="1.4" height="0.9" fill="#a8a8a8"/>
<rect x="254.4" y="260.1" width="0.8" height="1.5" fill="#a8a8a8"/>
<rect x="253.9" y="258.2" width="1.5" height="1.6" fill="#bcbcbc"/>
<rect x="253.7" y="269.0" width="1.4" height="1.3" fill="#989898"/>
<rect x="254.7" y="257.3" width="1.2" height="1.4" fill="#bcbcbc"/>
<rect x="260.7" y="267.0" width="1.6" height="0.9" fill="#a8a8a8"/>
<rect x="259.2" y="263.1" width="0.8" height="0.9" fill="#a8a8a8"/>
<rect x="260.8" y="263.0" width="0.7" height="1.4" fill="#a8a8a8"/>
<rect x="253.2" y="264.9" width="1.5" height="1.5" fill="#e0e0e0"/>
<rect x="256.5" y="265.0" width="0.8" height="0.8" fill="#bcbcbc"/>
<rect x="261.0" y="260.4" width="1.2" height="1.0" fill="#bcbcbc"/>
<rect x="253.3" y="270.1" width="1.1" height="1.5" fill="#e0e0e0"/>
<rect x="258.6" y="268.0" width="0.8" height="1.2" fill="#e0e0e0"/>
<rect x="253.8" y="265.3" width="0.7" height="0.8" fill="#989898"/>
<rect x="258.0" y="259.3" width="1.5" height="0.9" fill="#a8a8a8"/>
<rect x="262.9" y="267.7" width="1.4" height="1.6" fill="#e0e0e0"/>
<rect x="261.5" y="261.2" width="1.6" height="1.0" fill="#a8a8a8"/>
<rect x="250.7" y="264.5" width="1.5" height="1.1" fill="#a8a8a8"/>
<rect x="261.7" y="265.8" width="1.5" height="1.3" fill="#a8a8a8"/>
<rect x="253.5" y="264.6" width="1.2" height="1.6" fill="#989898"/>
<rect x="252.5" y="269.0" width="1.0" height="0.8" fill="#bcbcbc"/>
<rect x="252.3" y="270.4" width="1.5" height="0.7" fill="#a8a8a8"/>
<rect x="261.4" y="256.7" width="1.4" height="1.3" fill="#989898"/>
<rect x="250.8" y="258.2" width="1.4" height="1.5" fill="#e0e0e0"/>
<rect x="258.0" y="262.8" width="1.3" height="1.1" fill="#e0e0e0"/>
<rect x="253.5" y="257.9" width="1.1" height="0.8" fill="#bcbcbc"/>
<rect x="261.0" y="270.0" width="1.5" height="1.1" fill="#bcbcbc"/>
<rect x="260.9" y="258.4" width="1.4" height="0.7" fill="#e0e0e0"/>
<rect x="262.1" y="258.1" width="1.0" height="0.7" fill="#989898"/>
<rect x="250.8" y="232.70000000000002" width="13.7" height="13.1" fill="#f0f0f0" stroke="#999" stroke-width="1.2" />
<rect x="260.8" y="240.0" width="1.1" height="0.9" fill="#d8d8d8"/>
<rect x="256.9" y="240.0" width="0.7" height="0.8" fill="#d8d8d8"/>
<rect x="253.7" y="238.3" width="1.5" height="1.0" fill="#d8d8d8"/>
<rect x="254.7" y="237.9" width="0.8" height="0.9" fill="#e0e0e0"/>
<rect x="255.4" y="235.4" width="1.1" height="0.9" fill="#e0e0e0"/>
<rect x="253.0" y="243.6" width="0.7" height="1.5" fill="#cccccc"/>
<rect x="261.7" y="239.4" width="1.4" height="0.7" fill="#d8d8d8"/>
<rect x="262.2" y="238.1" width="0.9" height="0.8" fill="#d8d8d8"/>
<rect x="252.8" y="236.6" width="1.5" height="0.7" fill="#cccccc"/>
<rect x="262.3" y="235.2" width="1.2" height="1.0" fill="#cccccc"/>
<rect x="255.4" y="235.1" width="0.6" height="1.4" fill="#cccccc"/>
<rect x="254.9" y="237.3" width="0.6" height="1.0" fill="#e0e0e0"/>
<rect x="257.9" y="235.1" width="0.8" height="1.4" fill="#cccccc"/>
<rect x="253.7" y="239.8" width="1.4" height="1.5" fill="#cccccc"/>
<rect x="266.4" y="239.4" width="14.600000000000001" height="19.9" fill="#c2c2c2" stroke="#999" stroke-width="1.2" />
<rect x="273.1" y="245.0" width="0.8" height="1.2" fill="#d0d0d0"/>
<rect x="274.7" y="243.6" width="0.9" height="0.6" fill="#d0d0d0"/>
<rect x="275.9" y="247.3" width="1.3" height="0.7" fill="#b8b8b8"/>
<rect x="271.3" y="254.6" width="1.5" height="1.1" fill="#a8a8a8"/>
<rect x="272.2" y="253.3" width="0.7" height="1.3" fill="#a8a8a8"/>
<rect x="269.6" y="254.5" width="1.0" height="0.8" fill="#b8b8b8"/>
<rect x="274.1" y="254.9" width="1.0" height="1.5" fill="#d0d0d0"/>
<rect x="268.2" y="246.4" width="0.8" height="1.4" fill="#b8b8b8"/>
<rect x="276.4" y="255.1" width="1.2" height="1.5" fill="#b8b8b8"/>
<rect x="277.5" y="256.5" width="1.1" height="1.1" fill="#d0d0d0"/>
<rect x="276.7" y="242.7" width="0.8" height="0.7" fill="#d0d0d0"/>
<rect x="269.5" y="242.1" width="0.9" height="1.4" fill="#a8a8a8"/>
<rect x="267.6" y="256.1" width="1.3" height="0.9" fill="#d0d0d0"/>
<rect x="274.8" y="248.2" width="0.8" height="1.0" fill="#b8b8b8"/>
<rect x="277.5" y="252.5" width="0.6" height="0.7" fill="#b8b8b8"/>
<rect x="274.2" y="253.3" width="0.7" height="0.7" fill="#a8a8a8"/>
<rect x="273.7" y="244.2" width="0.8" height="1.3" fill="#b8b8b8"/>
<rect x="276.1" y="243.2" width="1.4" height="1.5" fill="#b8b8b8"/>
<rect x="275.4" y="250.5" width="1.2" height="0.6" fill="#a8a8a8"/>
<rect x="276.4" y="246.1" width="0.8" height="0.9" fill="#b8b8b8"/>
<rect x="277.2" y="249.9" width="1.6" height="0.9" fill="#b8b8b8"/>
<rect x="277.2" y="241.3" width="1.1" height="1.6" fill="#b8b8b8"/>
<rect x="270.3" y="247.5" width="1.2" height="1.0" fill="#d0d0d0"/>
<rect x="269.6" y="245.9" width="0.8" height="1.3" fill="#a8a8a8"/>
<rect x="269.0" y="256.8" width="1.4" height="1.5" fill="#d0d0d0"/>
<rect x="267.9" y="257.0" width="1.6" height="0.6" fill="#d0d0d0"/>
<rect x="274.6" y="255.9" width="1.2" height="1.2" fill="#a8a8a8"/>
<rect x="274.6" y="244.6" width="1.1" height="1.0" fill="#a8a8a8"/>
<rect x="270.7" y="245.6" width="1.2" height="0.7" fill="#d0d0d0"/>
<rect x="278.5" y="256.0" width="1.5" height="0.7" fill="#d0d0d0"/>
<ellipse cx="273" cy="249.3" rx="5" ry="6.2" fill="#8a8a8a"/>
<ellipse cx="273" cy="249.3" rx="3.4" ry="4.2" fill="#5a5a5a"/>
<ellipse cx="273" cy="249.3" rx="1.4" ry="1.7" fill="#fff"/>
</g>
<rect x="308.8" y="61.0" width="1.0" height="1.0" fill="#222" opacity="0.7"/>
<rect x="310.0" y="61.8" width="1.0" height="1.0" fill="#222" opacity="0.7"/>
<rect x="309.1" y="62.3" width="1.0" height="1.0" fill="#222" opacity="0.7"/>
<rect x="309.3" y="62.0" width="1.0" height="1.0" fill="#222" opacity="0.7"/>
<rect x="310.9" y="62.2" width="1.0" height="1.0" fill="#222" opacity="0.7"/>
<rect x="310.5" y="60.2" width="1.0" height="1.0" fill="#222" opacity="0.7"/>
<rect x="307.8" y="60.3" width="1.0" height="1.0" fill="#222" opacity="0.7"/>
<rect x="310.1" y="63.0" width="1.0" height="1.0" fill="#222" opacity="0.7"/>
<rect x="307.9" y="61.4" width="1.0" height="1.0" fill="#222" opacity="0.7"/>
<rect x="308.4" y="60.3" width="1.0" height="1.0" fill="#222" opacity="0.7"/>
<rect x="309.1" y="62.0" width="1.0" height="1.0" fill="#222" opacity="0.7"/>
<rect x="309.8" y="62.6" width="1.0" height="1.0" fill="#222" opacity="0.7"/>
<rect x="308.2" y="62.0" width="1.0" height="1.0" fill="#222" opacity="0.7"/>
<rect x="310.7" y="61.6" width="1.0" height="1.0" fill="#222" opacity="0.7"/>
<rect x="310.1" y="60.8" width="1.0" height="1.0" fill="#222" opacity="0.7"/>
<rect x="308.1" y="60.6" width="1.0" height="1.0" fill="#222" opacity="0.7"/>
<rect x="308.7" y="64.3" width="1.0" height="1.0" fill="#222" opacity="0.7"/>
<rect x="308.9" y="63.0" width="1.0" height="1.0" fill="#222" opacity="0.7"/>
<rect x="309.8" y="61.7" width="1.0" height="1.0" fill="#222" opacity="0.7"/>
<rect x="310.5" y="60.6" width="1.0" height="1.0" fill="#222" opacity="0.7"/>
<rect x="310.7" y="61.9" width="1.0" height="1.0" fill="#222" opacity="0.7"/>
<rect x="307.5" y="61.6" width="1.0" height="1.0" fill="#222" opacity="0.7"/>
<rect x="310.2" y="61.9" width="1.0" height="1.0" fill="#222" opacity="0.7"/>
<rect x="311.6" y="61.2" width="1.0" height="1.0" fill="#222" opacity="0.7"/>
<rect x="310.2" y="62.2" width="1.0" height="1.0" fill="#222" opacity="0.7"/>
<rect x="309.3" y="62.4" width="1.0" height="1.0" fill="#666" opacity="0.7"/>
<rect x="307.6" y="57.4" width="1.0" height="1.0" fill="#666" opacity="0.7"/>
<rect x="313.6" y="57.8" width="1.0" height="1.0" fill="#666" opacity="0.7"/>
<rect x="311.7" y="56.7" width="1.0" height="1.0" fill="#666" opacity="0.7"/>
<rect x="312.2" y="57.7" width="1.0" height="1.0" fill="#666" opacity="0.7"/>
<rect x="313.0" y="56.9" width="1.0" height="1.0" fill="#666" opacity="0.7"/>
<rect x="313.3" y="59.5" width="1.0" height="1.0" fill="#666" opacity="0.7"/>
<rect x="312.2" y="59.9" width="1.0" height="1.0" fill="#666" opacity="0.7"/>
<rect x="312.4" y="57.4" width="1.0" height="1.0" fill="#666" opacity="0.7"/>
<rect x="304.3" y="60.1" width="1.0" height="1.0" fill="#666" opacity="0.7"/>
<rect x="309.2" y="59.1" width="1.0" height="1.0" fill="#666" opacity="0.7"/>
<rect x="313.3" y="56.0" width="1.0" height="1.0" fill="#666" opacity="0.7"/>
<rect x="309.7" y="58.8" width="1.0" height="1.0" fill="#666" opacity="0.7"/>
<rect x="308.8" y="60.7" width="1.0" height="1.0" fill="#666" opacity="0.7"/>
<rect x="311.6" y="58.4" width="1.0" height="1.0" fill="#666" opacity="0.7"/>
<rect x="322.0" y="61.6" width="1.0" height="1.0" fill="#999" opacity="0.7"/>
<rect x="323.0" y="61.2" width="1.0" height="1.0" fill="#999" opacity="0.7"/>
<rect x="326.3" y="56.2" width="1.0" height="1.0" fill="#999" opacity="0.7"/>
<rect x="321.7" y="60.0" width="1.0" height="1.0" fill="#999" opacity="0.7"/>
<rect x="326.0" y="61.6" width="1.0" height="1.0" fill="#999" opacity="0.7"/>
<rect x="327.4" y="62.1" width="1.0" height="1.0" fill="#999" opacity="0.7"/>
<rect x="323.9" y="59.6" width="1.0" height="1.0" fill="#999" opacity="0.7"/>
<rect x="327.3" y="59.1" width="1.0" height="1.0" fill="#999" opacity="0.7"/>
<rect x="328.2" y="56.8" width="1.0" height="1.0" fill="#999" opacity="0.7"/>
<rect x="327.0" y="59.7" width="1.0" height="1.0" fill="#999" opacity="0.7"/>
<rect x="358.4" y="74.1" width="1.0" height="1.0" fill="#000" opacity="0.7"/>
<rect x="361.6" y="71.1" width="1.0" height="1.0" fill="#000" opacity="0.7"/>
<rect x="359.7" y="69.5" width="1.0" height="1.0" fill="#000" opacity="0.7"/>
<rect x="363.3" y="68.4" width="1.0" height="1.0" fill="#000" opacity="0.7"/>
<rect x="356.3" y="68.3" width="1.0" height="1.0" fill="#000" opacity="0.7"/>
<rect x="359.5" y="70.6" width="1.0" height="1.0" fill="#000" opacity="0.7"/>
<rect x="360.6" y="68.1" width="1.0" height="1.0" fill="#000" opacity="0.7"/>
<rect x="360.0" y="74.4" width="1.0" height="1.0" fill="#000" opacity="0.7"/>
<rect x="359.2" y="77.3" width="1.0" height="1.0" fill="#000" opacity="0.7"/>
<rect x="360.4" y="67.5" width="1.0" height="1.0" fill="#000" opacity="0.7"/>
<rect x="362.3" y="72.8" width="1.0" height="1.0" fill="#000" opacity="0.7"/>
<rect x="359.7" y="73.4" width="1.0" height="1.0" fill="#000" opacity="0.7"/>
<rect x="358.6" y="68.0" width="1.0" height="1.0" fill="#000" opacity="0.7"/>
<rect x="362.8" y="70.2" width="1.0" height="1.0" fill="#000" opacity="0.7"/>
<rect x="359.4" y="72.6" width="1.0" height="1.0" fill="#000" opacity="0.7"/>
<rect x="362.5" y="70.9" width="1.0" height="1.0" fill="#000" opacity="0.7"/>
<rect x="358.7" y="69.9" width="1.0" height="1.0" fill="#000" opacity="0.7"/>
<rect x="361.8" y="73.5" width="1.0" height="1.0" fill="#000" opacity="0.7"/>
<rect x="363.8" y="70.2" width="1.0" height="1.0" fill="#000" opacity="0.7"/>
<rect x="360.5" y="70.9" width="1.0" height="1.0" fill="#000" opacity="0.7"/>
<rect x="362.9" y="68.0" width="1.0" height="1.0" fill="#000" opacity="0.7"/>
<rect x="363.0" y="62.2" width="1.0" height="1.0" fill="#000" opacity="0.7"/>
<rect x="362.3" y="68.8" width="1.0" height="1.0" fill="#000" opacity="0.7"/>
<rect x="361.8" y="73.2" width="1.0" height="1.0" fill="#000" opacity="0.7"/>
<rect x="359.5" y="70.7" width="1.0" height="1.0" fill="#000" opacity="0.7"/>
<rect x="361.5" y="72.9" width="1.0" height="1.0" fill="#000" opacity="0.7"/>
<rect x="359.9" y="67.8" width="1.0" height="1.0" fill="#000" opacity="0.7"/>
<rect x="358.5" y="79.1" width="1.0" height="1.0" fill="#000" opacity="0.7"/>
<rect x="360.9" y="70.3" width="1.0" height="1.0" fill="#000" opacity="0.7"/>
<rect x="359.1" y="74.0" width="1.0" height="1.0" fill="#000" opacity="0.7"/>
<rect x="360.5" y="75.6" width="1.0" height="1.0" fill="#000" opacity="0.7"/>
<rect x="362.4" y="71.1" width="1.0" height="1.0" fill="#000" opacity="0.7"/>
<rect x="362.2" y="67.4" width="1.0" height="1.0" fill="#000" opacity="0.7"/>
<rect x="360.7" y="69.2" width="1.0" height="1.0" fill="#000" opacity="0.7"/>
<rect x="359.4" y="71.1" width="1.0" height="1.0" fill="#000" opacity="0.7"/>
<rect x="361.0" y="75.6" width="1.0" height="1.0" fill="#000" opacity="0.7"/>
<rect x="356.5" y="68.8" width="1.0" height="1.0" fill="#000" opacity="0.7"/>
<rect x="359.9" y="69.5" width="1.0" height="1.0" fill="#000" opacity="0.7"/>
<rect x="361.8" y="72.3" width="1.0" height="1.0" fill="#000" opacity="0.7"/>
<rect x="361.2" y="69.5" width="1.0" height="1.0" fill="#000" opacity="0.7"/>
<rect x="361.9" y="72.2" width="1.0" height="1.0" fill="#000" opacity="0.7"/>
<rect x="358.6" y="70.2" width="1.0" height="1.0" fill="#000" opacity="0.7"/>
<rect x="359.3" y="67.2" width="1.0" height="1.0" fill="#000" opacity="0.7"/>
<rect x="361.4" y="71.2" width="1.0" height="1.0" fill="#000" opacity="0.7"/>
<rect x="361.4" y="68.2" width="1.0" height="1.0" fill="#000" opacity="0.7"/>
<rect x="360.9" y="68.1" width="1.0" height="1.0" fill="#000" opacity="0.7"/>
<rect x="361.7" y="73.2" width="1.0" height="1.0" fill="#000" opacity="0.7"/>
<rect x="363.7" y="75.1" width="1.0" height="1.0" fill="#000" opacity="0.7"/>
<rect x="360.1" y="69.5" width="1.0" height="1.0" fill="#000" opacity="0.7"/>
<rect x="359.9" y="72.0" width="1.0" height="1.0" fill="#000" opacity="0.7"/>
<rect x="364.0" y="73.3" width="1.0" height="1.0" fill="#000" opacity="0.7"/>
<rect x="358.1" y="67.0" width="1.0" height="1.0" fill="#000" opacity="0.7"/>
<rect x="359.4" y="72.6" width="1.0" height="1.0" fill="#000" opacity="0.7"/>
<rect x="361.2" y="72.0" width="1.0" height="1.0" fill="#000" opacity="0.7"/>
<rect x="363.7" y="68.4" width="1.0" height="1.0" fill="#000" opacity="0.7"/>
<rect x="360.0" y="77.3" width="1.0" height="1.0" fill="#000" opacity="0.7"/>
<rect x="361.7" y="68.5" width="1.0" height="1.0" fill="#000" opacity="0.7"/>
<rect x="358.4" y="66.1" width="1.0" height="1.0" fill="#000" opacity="0.7"/>
<rect x="357.8" y="71.2" width="1.0" height="1.0" fill="#000" opacity="0.7"/>
<rect x="361.3" y="74.2" width="1.0" height="1.0" fill="#000" opacity="0.7"/>
<rect x="361.0" y="68.8" width="1.0" height="1.0" fill="#000" opacity="0.7"/>
<rect x="360.2" y="77.1" width="1.0" height="1.0" fill="#000" opacity="0.7"/>
<rect x="358.7" y="71.6" width="1.0" height="1.0" fill="#000" opacity="0.7"/>
<rect x="361.2" y="73.0" width="1.0" height="1.0" fill="#000" opacity="0.7"/>
<rect x="360.6" y="72.6" width="1.0" height="1.0" fill="#000" opacity="0.7"/>
<rect x="362.3" y="70.5" width="1.0" height="1.0" fill="#000" opacity="0.7"/>
<rect x="360.6" y="70.4" width="1.0" height="1.0" fill="#000" opacity="0.7"/>
<rect x="359.8" y="70.3" width="1.0" height="1.0" fill="#000" opacity="0.7"/>
<rect x="360.8" y="71.7" width="1.0" height="1.0" fill="#000" opacity="0.7"/>
<rect x="363.1" y="75.2" width="1.0" height="1.0" fill="#000" opacity="0.7"/>
<rect x="360.6" y="72.9" width="1.0" height="1.0" fill="#000" opacity="0.7"/>
<rect x="361.6" y="73.4" width="1.0" height="1.0" fill="#000" opacity="0.7"/>
<rect x="361.2" y="71.9" width="1.0" height="1.0" fill="#000" opacity="0.7"/>
<rect x="360.5" y="68.5" width="1.0" height="1.0" fill="#000" opacity="0.7"/>
<rect x="362.4" y="75.2" width="1.0" height="1.0" fill="#000" opacity="0.7"/>
<rect x="362.1" y="72.4" width="1.0" height="1.0" fill="#000" opacity="0.7"/>
<rect x="361.6" y="69.6" width="1.0" height="1.0" fill="#000" opacity="0.7"/>
<rect x="358.7" y="73.1" width="1.0" height="1.0" fill="#000" opacity="0.7"/>
<rect x="361.5" y="69.2" width="1.0" height="1.0" fill="#000" opacity="0.7"/>
<rect x="359.8" y="75.1" width="1.0" height="1.0" fill="#000" opacity="0.7"/>
<rect x="358.7" y="76.6" width="1.0" height="1.0" fill="#000" opacity="0.7"/>
<rect x="362.1" y="78.6" width="1.0" height="1.0" fill="#000" opacity="0.7"/>
<rect x="360.2" y="70.9" width="1.0" height="1.0" fill="#000" opacity="0.7"/>
<rect x="360.5" y="71.5" width="1.0" height="1.0" fill="#000" opacity="0.7"/>
<rect x="360.9" y="68.6" width="1.0" height="1.0" fill="#000" opacity="0.7"/>
<rect x="362.7" y="68.5" width="1.0" height="1.0" fill="#000" opacity="0.7"/>
<rect x="360.5" y="72.8" width="1.0" height="1.0" fill="#000" opacity="0.7"/>
<rect x="360.4" y="69.6" width="1.0" height="1.0" fill="#000" opacity="0.7"/>
<rect x="361.7" y="69.8" width="1.0" height="1.0" fill="#000" opacity="0.7"/>
<rect x="359.5" y="70.7" width="1.0" height="1.0" fill="#000" opacity="0.7"/>
<rect x="360.9" y="76.5" width="1.0" height="1.0" fill="#000" opacity="0.7"/>
<rect x="359.7" y="74.1" width="1.0" height="1.0" fill="#000" opacity="0.7"/>
<rect x="360.1" y="69.9" width="1.0" height="1.0" fill="#000" opacity="0.7"/>
<rect x="360.7" y="71.9" width="1.0" height="1.0" fill="#000" opacity="0.7"/>
<rect x="362.4" y="76.6" width="1.0" height="1.0" fill="#000" opacity="0.7"/>
<rect x="360.3" y="75.3" width="1.0" height="1.0" fill="#000" opacity="0.7"/>
<rect x="362.6" y="73.6" width="1.0" height="1.0" fill="#000" opacity="0.7"/>
<rect x="360.1" y="73.9" width="1.0" height="1.0" fill="#000" opacity="0.7"/>
<rect x="361.0" y="72.1" width="1.0" height="1.0" fill="#000" opacity="0.7"/>
<rect x="360.8" y="73.1" width="1.0" height="1.0" fill="#000" opacity="0.7"/>
<rect x="362.8" y="74.6" width="1.0" height="1.0" fill="#000" opacity="0.7"/>
<rect x="360.9" y="74.2" width="1.0" height="1.0" fill="#000" opacity="0.7"/>
<rect x="363.2" y="68.0" width="1.0" height="1.0" fill="#000" opacity="0.7"/>
<rect x="363.3" y="66.7" width="1.0" height="1.0" fill="#000" opacity="0.7"/>
<rect x="362.0" y="72.9" width="1.0" height="1.0" fill="#000" opacity="0.7"/>
<rect x="363.3" y="71.9" width="1.0" height="1.0" fill="#000" opacity="0.7"/>
<rect x="360.5" y="68.5" width="1.0" height="1.0" fill="#000" opacity="0.7"/>
<rect x="359.4" y="73.5" width="1.0" height="1.0" fill="#000" opacity="0.7"/>
<rect x="360.9" y="68.7" width="1.0" height="1.0" fill="#000" opacity="0.7"/>
<rect x="361.9" y="68.6" width="1.0" height="1.0" fill="#000" opacity="0.7"/>
<rect x="360.6" y="69.5" width="1.0" height="1.0" fill="#000" opacity="0.7"/>
<rect x="363.5" y="75.7" width="1.0" height="1.0" fill="#000" opacity="0.7"/>
<rect x="361.0" y="66.0" width="1.0" height="1.0" fill="#000" opacity="0.7"/>
<rect x="361.6" y="71.2" width="1.0" height="1.0" fill="#000" opacity="0.7"/>
<rect x="361.7" y="72.8" width="1.0" height="1.0" fill="#000" opacity="0.7"/>
<rect x="360.8" y="74.0" width="1.0" height="1.0" fill="#000" opacity="0.7"/>
<rect x="362.4" y="71.7" width="1.0" height="1.0" fill="#000" opacity="0.7"/>
<rect x="360.6" y="69.5" width="1.0" height="1.0" fill="#000" opacity="0.7"/>
<rect x="362.2" y="67.5" width="1.0" height="1.0" fill="#000" opacity="0.7"/>
<rect x="361.0" y="68.6" width="1.0" height="1.0" fill="#000" opacity="0.7"/>
<rect x="359.2" y="72.9" width="1.0" height="1.0" fill="#000" opacity="0.7"/>
<rect x="361.2" y="71.1" width="1.0" height="1.0" fill="#000" opacity="0.7"/>
<rect x="362.4" y="66.2" width="1.0" height="1.0" fill="#000" opacity="0.7"/>
<rect x="361.1" y="71.9" width="1.0" height="1.0" fill="#000" opacity="0.7"/>
<rect x="362.4" y="67.5" width="1.0" height="1.0" fill="#000" opacity="0.7"/>
<rect x="362.2" y="71.7" width="1.0" height="1.0" fill="#000" opacity="0.7"/>
<rect x="363.1" y="74.6" width="1.0" height="1.0" fill="#000" opacity="0.7"/>
<rect x="362.0" y="77.9" width="1.0" height="1.0" fill="#000" opacity="0.7"/>
<rect x="361.2" y="69.6" width="1.0" height="1.0" fill="#000" opacity="0.7"/>
<rect x="360.7" y="68.0" width="1.0" height="1.0" fill="#000" opacity="0.7"/>
<rect x="361.2" y="65.0" width="1.0" height="1.0" fill="#000" opacity="0.7"/>
<rect x="361.1" y="72.4" width="1.0" height="1.0" fill="#000" opacity="0.7"/>
<rect x="362.6" y="69.9" width="1.0" height="1.0" fill="#000" opacity="0.7"/>
<rect x="363.1" y="68.9" width="1.0" height="1.0" fill="#000" opacity="0.7"/>
<rect x="361.0" y="65.0" width="1.0" height="1.0" fill="#000" opacity="0.7"/>
<rect x="360.1" y="68.5" width="1.0" height="1.0" fill="#000" opacity="0.7"/>
<rect x="363.2" y="72.7" width="1.0" height="1.0" fill="#000" opacity="0.7"/>
<rect x="359.7" y="72.7" width="1.0" height="1.0" fill="#000" opacity="0.7"/>
<rect x="361.9" y="70.3" width="1.0" height="1.0" fill="#000" opacity="0.7"/>
<rect x="361.2" y="70.0" width="1.0" height="1.0" fill="#000" opacity="0.7"/>
<rect x="360.5" y="65.5" width="1.0" height="1.0" fill="#000" opacity="0.7"/>
<rect x="361.1" y="75.0" width="1.0" height="1.0" fill="#000" opacity="0.7"/>
<rect x="363.2" y="70.1" width="1.0" height="1.0" fill="#000" opacity="0.7"/>
<rect x="360.2" y="70.3" width="1.0" height="1.0" fill="#000" opacity="0.7"/>
<rect x="362.4" y="72.1" width="1.0" height="1.0" fill="#000" opacity="0.7"/>
<rect x="360.4" y="72.1" width="1.0" height="1.0" fill="#000" opacity="0.7"/>
<rect x="360.9" y="72.6" width="1.0" height="1.0" fill="#000" opacity="0.7"/>
<rect x="360.6" y="66.4" width="1.0" height="1.0" fill="#000" opacity="0.7"/>
<rect x="361.3" y="73.4" width="1.0" height="1.0" fill="#000" opacity="0.7"/>
<rect x="359.7" y="70.7" width="1.0" height="1.0" fill="#000" opacity="0.7"/>
<rect x="362.4" y="69.8" width="1.0" height="1.0" fill="#000" opacity="0.7"/>
<rect x="360.3" y="77.3" width="1.0" height="1.0" fill="#000" opacity="0.7"/>
<rect x="362.3" y="74.2" width="1.0" height="1.0" fill="#000" opacity="0.7"/>
<rect x="359.9" y="76.1" width="1.0" height="1.0" fill="#000" opacity="0.7"/>
<rect x="358.9" y="69.4" width="1.0" height="1.0" fill="#000" opacity="0.7"/>
<rect x="362.2" y="75.1" width="1.0" height="1.0" fill="#000" opacity="0.7"/>
<rect x="359.9" y="68.9" width="1.0" height="1.0" fill="#000" opacity="0.7"/>
<rect x="361.5" y="65.0" width="1.0" height="1.0" fill="#000" opacity="0.7"/>
<rect x="362.1" y="72.7" width="1.0" height="1.0" fill="#000" opacity="0.7"/>
<rect x="360.6" y="72.7" width="1.0" height="1.0" fill="#000" opacity="0.7"/>
<rect x="362.3" y="72.0" width="1.0" height="1.0" fill="#000" opacity="0.7"/>
<rect x="361.9" y="75.7" width="1.0" height="1.0" fill="#000" opacity="0.7"/>
<rect x="360.6" y="71.5" width="1.0" height="1.0" fill="#000" opacity="0.7"/>
<rect x="360.5" y="74.2" width="1.0" height="1.0" fill="#000" opacity="0.7"/>
<rect x="360.6" y="72.5" width="1.0" height="1.0" fill="#000" opacity="0.7"/>
<rect x="361.4" y="71.2" width="1.0" height="1.0" fill="#000" opacity="0.7"/>
<rect x="363.5" y="70.7" width="1.0" height="1.0" fill="#000" opacity="0.7"/>
<rect x="363.1" y="73.6" width="1.0" height="1.0" fill="#000" opacity="0.7"/>
<rect x="363.0" y="70.5" width="1.0" height="1.0" fill="#000" opacity="0.7"/>
<rect x="362.5" y="73.3" width="1.0" height="1.0" fill="#000" opacity="0.7"/>
<rect x="360.4" y="71.8" width="1.0" height="1.0" fill="#000" opacity="0.7"/>
<rect x="361.0" y="70.9" width="1.0" height="1.0" fill="#000" opacity="0.7"/>
<rect x="363.0" y="68.8" width="1.0" height="1.0" fill="#000" opacity="0.7"/>
<rect x="358.9" y="65.6" width="1.0" height="1.0" fill="#000" opacity="0.7"/>
<rect x="360.6" y="69.0" width="1.0" height="1.0" fill="#000" opacity="0.7"/>
<rect x="361.2" y="72.7" width="1.0" height="1.0" fill="#000" opacity="0.7"/>
<rect x="363.6" y="72.0" width="1.0" height="1.0" fill="#000" opacity="0.7"/>
<rect x="361.8" y="68.7" width="1.0" height="1.0" fill="#000" opacity="0.7"/>
<rect x="362.0" y="75.2" width="1.0" height="1.0" fill="#000" opacity="0.7"/>
<rect x="363.0" y="65.0" width="1.0" height="1.0" fill="#000" opacity="0.7"/>
<rect x="362.4" y="75.9" width="1.0" height="1.0" fill="#000" opacity="0.7"/>
<rect x="362.3" y="66.4" width="1.0" height="1.0" fill="#000" opacity="0.7"/>
<rect x="360.8" y="72.8" width="1.0" height="1.0" fill="#000" opacity="0.7"/>
<rect x="361.8" y="68.5" width="1.0" height="1.0" fill="#000" opacity="0.7"/>
<rect x="360.0" y="74.0" width="1.0" height="1.0" fill="#000" opacity="0.7"/>
<rect x="359.4" y="75.4" width="1.0" height="1.0" fill="#000" opacity="0.7"/>
<rect x="361.2" y="71.9" width="1.0" height="1.0" fill="#000" opacity="0.7"/>
<rect x="359.4" y="69.2" width="1.0" height="1.0" fill="#000" opacity="0.7"/>
<rect x="362.1" y="66.5" width="1.0" height="1.0" fill="#000" opacity="0.7"/>
<rect x="364.0" y="66.7" width="1.0" height="1.0" fill="#000" opacity="0.7"/>
<rect x="359.6" y="71.1" width="1.0" height="1.0" fill="#000" opacity="0.7"/>
<rect x="361.8" y="73.3" width="1.0" height="1.0" fill="#000" opacity="0.7"/>
<rect x="360.7" y="70.4" width="1.0" height="1.0" fill="#000" opacity="0.7"/>
<rect x="360.9" y="69.2" width="1.0" height="1.0" fill="#000" opacity="0.7"/>
<rect x="357.7" y="74.0" width="1.0" height="1.0" fill="#000" opacity="0.7"/>
<rect x="361.5" y="71.5" width="1.0" height="1.0" fill="#000" opacity="0.7"/>
<rect x="360.4" y="71.8" width="1.0" height="1.0" fill="#000" opacity="0.7"/>
<rect x="361.2" y="70.8" width="1.0" height="1.0" fill="#000" opacity="0.7"/>
<rect x="362.7" y="65.7" width="1.0" height="1.0" fill="#000" opacity="0.7"/>
<rect x="361.5" y="67.7" width="1.0" height="1.0" fill="#000" opacity="0.7"/>
<rect x="360.8" y="75.6" width="1.0" height="1.0" fill="#000" opacity="0.7"/>
<rect x="359.7" y="70.7" width="1.0" height="1.0" fill="#000" opacity="0.7"/>
<rect x="360.4" y="73.9" width="1.0" height="1.0" fill="#000" opacity="0.7"/>
<rect x="359.9" y="65.8" width="1.0" height="1.0" fill="#000" opacity="0.7"/>
<rect x="361.9" y="69.9" width="1.0" height="1.0" fill="#000" opacity="0.7"/>
<rect x="360.8" y="74.3" width="1.0" height="1.0" fill="#000" opacity="0.7"/>
<rect x="360.0" y="69.9" width="1.0" height="1.0" fill="#000" opacity="0.7"/>
<rect x="361.4" y="72.3" width="1.0" height="1.0" fill="#000" opacity="0.7"/>
<rect x="360.5" y="74.2" width="1.0" height="1.0" fill="#000" opacity="0.7"/>
<rect x="364.2" y="69.7" width="1.0" height="1.0" fill="#000" opacity="0.7"/>
<rect x="363.7" y="64.5" width="1.0" height="1.0" fill="#000" opacity="0.7"/>
<rect x="363.1" y="69.9" width="1.0" height="1.0" fill="#000" opacity="0.7"/>
<rect x="361.4" y="70.0" width="1.0" height="1.0" fill="#000" opacity="0.7"/>
<rect x="360.3" y="67.1" width="1.0" height="1.0" fill="#000" opacity="0.7"/>
<rect x="360.7" y="75.0" width="1.0" height="1.0" fill="#000" opacity="0.7"/>
<rect x="362.7" y="69.9" width="1.0" height="1.0" fill="#000" opacity="0.7"/>
<rect x="360.5" y="68.8" width="1.0" height="1.0" fill="#000" opacity="0.7"/>
<rect x="359.6" y="76.5" width="1.0" height="1.0" fill="#000" opacity="0.7"/>
<rect x="362.1" y="71.4" width="1.0" height="1.0" fill="#000" opacity="0.7"/>
<rect x="360.5" y="67.9" width="1.0" height="1.0" fill="#000" opacity="0.7"/>
<rect x="366.8" y="73.0" width="1.0" height="1.0" fill="#444" opacity="0.7"/>
<rect x="360.3" y="73.8" width="1.0" height="1.0" fill="#444" opacity="0.7"/>
<rect x="359.8" y="72.5" width="1.0" height="1.0" fill="#444" opacity="0.7"/>
<rect x="360.2" y="68.4" width="1.0" height="1.0" fill="#444" opacity="0.7"/>
<rect x="364.4" y="71.7" width="1.0" height="1.0" fill="#444" opacity="0.7"/>
<rect x="365.9" y="66.8" width="1.0" height="1.0" fill="#444" opacity="0.7"/>
<rect x="367.5" y="75.2" width="1.0" height="1.0" fill="#444" opacity="0.7"/>
<rect x="363.0" y="71.8" width="1.0" height="1.0" fill="#444" opacity="0.7"/>
<rect x="360.8" y="69.4" width="1.0" height="1.0" fill="#444" opacity="0.7"/>
<rect x="359.2" y="70.3" width="1.0" height="1.0" fill="#444" opacity="0.7"/>
<rect x="363.6" y="75.2" width="1.0" height="1.0" fill="#444" opacity="0.7"/>
<rect x="365.7" y="73.1" width="1.0" height="1.0" fill="#444" opacity="0.7"/>
<rect x="362.0" y="69.1" width="1.0" height="1.0" fill="#444" opacity="0.7"/>
<rect x="362.0" y="70.9" width="1.0" height="1.0" fill="#444" opacity="0.7"/>
<rect x="357.4" y="73.0" width="1.0" height="1.0" fill="#444" opacity="0.7"/>
<rect x="358.5" y="68.0" width="1.0" height="1.0" fill="#444" opacity="0.7"/>
<rect x="363.1" y="68.0" width="1.0" height="1.0" fill="#444" opacity="0.7"/>
<rect x="367.8" y="69.6" width="1.0" height="1.0" fill="#444" opacity="0.7"/>
<rect x="367.5" y="74.5" width="1.0" height="1.0" fill="#444" opacity="0.7"/>
<rect x="361.6" y="71.5" width="1.0" height="1.0" fill="#444" opacity="0.7"/>
<rect x="366.7" y="68.7" width="1.0" height="1.0" fill="#444" opacity="0.7"/>
<rect x="363.3" y="67.9" width="1.0" height="1.0" fill="#444" opacity="0.7"/>
<rect x="363.2" y="68.6" width="1.0" height="1.0" fill="#444" opacity="0.7"/>
<rect x="363.2" y="73.8" width="1.0" height="1.0" fill="#444" opacity="0.7"/>
<rect x="367.0" y="70.5" width="1.0" height="1.0" fill="#444" opacity="0.7"/>
<rect x="363.6" y="73.3" width="1.0" height="1.0" fill="#444" opacity="0.7"/>
<rect x="362.2" y="65.9" width="1.0" height="1.0" fill="#444" opacity="0.7"/>
<rect x="366.2" y="66.4" width="1.0" height="1.0" fill="#444" opacity="0.7"/>
<rect x="365.7" y="66.3" width="1.0" height="1.0" fill="#444" opacity="0.7"/>
<rect x="368.3" y="66.0" width="1.0" height="1.0" fill="#444" opacity="0.7"/>
<rect x="377.4" y="70.3" width="1.0" height="1.0" fill="#999" opacity="0.7"/>
<rect x="372.2" y="70.3" width="1.0" height="1.0" fill="#999" opacity="0.7"/>
<rect x="372.6" y="60.9" width="1.0" height="1.0" fill="#999" opacity="0.7"/>
<rect x="377.1" y="68.0" width="1.0" height="1.0" fill="#999" opacity="0.7"/>
<rect x="374.4" y="58.7" width="1.0" height="1.0" fill="#999" opacity="0.7"/>
<rect x="374.8" y="65.1" width="1.0" height="1.0" fill="#999" opacity="0.7"/>
<rect x="373.9" y="65.2" width="1.0" height="1.0" fill="#999" opacity="0.7"/>
<rect x="369.8" y="64.4" width="1.0" height="1.0" fill="#999" opacity="0.7"/>
<rect x="380.2" y="70.5" width="1.0" height="1.0" fill="#999" opacity="0.7"/>
<rect x="374.0" y="63.9" width="1.0" height="1.0" fill="#999" opacity="0.7"/>
<rect x="376.1" y="69.1" width="1.0" height="1.0" fill="#999" opacity="0.7"/>
<rect x="377.1" y="62.6" width="1.0" height="1.0" fill="#999" opacity="0.7"/>
<rect x="405.8" y="88.0" width="1.0" height="1.0" fill="#000" opacity="0.7"/>
<rect x="408.0" y="92.0" width="1.0" height="1.0" fill="#000" opacity="0.7"/>
<rect x="406.4" y="90.7" width="1.0" height="1.0" fill="#000" opacity="0.7"/>
<rect x="404.8" y="90.0" width="1.0" height="1.0" fill="#000" opacity="0.7"/>
<rect x="404.8" y="87.7" width="1.0" height="1.0" fill="#000" opacity="0.7"/>
<rect x="407.1" y="87.1" width="1.0" height="1.0" fill="#000" opacity="0.7"/>
<rect x="404.3" y="82.9" width="1.0" height="1.0" fill="#000" opacity="0.7"/>
<rect x="405.8" y="87.6" width="1.0" height="1.0" fill="#000" opacity="0.7"/>
<rect x="404.9" y="88.0" width="1.0" height="1.0" fill="#000" opacity="0.7"/>
<rect x="401.8" y="84.3" width="1.0" height="1.0" fill="#000" opacity="0.7"/>
<rect x="405.7" y="87.1" width="1.0" height="1.0" fill="#000" opacity="0.7"/>
<rect x="406.9" y="92.2" width="1.0" height="1.0" fill="#000" opacity="0.7"/>
<rect x="404.7" y="85.0" width="1.0" height="1.0" fill="#000" opacity="0.7"/>
<rect x="404.5" y="86.8" width="1.0" height="1.0" fill="#000" opacity="0.7"/>
<rect x="406.5" y="86.7" width="1.0" height="1.0" fill="#000" opacity="0.7"/>
<rect x="407.2" y="87.0" width="1.0" height="1.0" fill="#000" opacity="0.7"/>
<rect x="406.9" y="89.6" width="1.0" height="1.0" fill="#000" opacity="0.7"/>
<rect x="405.0" y="86.8" width="1.0" height="1.0" fill="#000" opacity="0.7"/>
<rect x="406.3" y="89.9" width="1.0" height="1.0" fill="#000" opacity="0.7"/>
<rect x="403.2" y="86.0" width="1.0" height="1.0" fill="#000" opacity="0.7"/>
<rect x="404.2" y="87.6" width="1.0" height="1.0" fill="#000" opacity="0.7"/>
<rect x="407.9" y="89.7" width="1.0" height="1.0" fill="#000" opacity="0.7"/>
<rect x="405.3" y="87.7" width="1.0" height="1.0" fill="#000" opacity="0.7"/>
<rect x="400.4" y="84.6" width="1.0" height="1.0" fill="#000" opacity="0.7"/>
<rect x="406.5" y="88.7" width="1.0" height="1.0" fill="#000" opacity="0.7"/>
<rect x="404.8" y="85.4" width="1.0" height="1.0" fill="#000" opacity="0.7"/>
<rect x="405.2" y="89.7" width="1.0" height="1.0" fill="#000" opacity="0.7"/>
<rect x="405.3" y="90.0" width="1.0" height="1.0" fill="#000" opacity="0.7"/>
<rect x="401.1" y="82.7" width="1.0" height="1.0" fill="#000" opacity="0.7"/>
<rect x="406.0" y="87.9" width="1.0" height="1.0" fill="#000" opacity="0.7"/>
<rect x="402.6" y="83.7" width="1.0" height="1.0" fill="#000" opacity="0.7"/>
<rect x="407.7" y="86.8" width="1.0" height="1.0" fill="#000" opacity="0.7"/>
<rect x="403.8" y="83.8" width="1.0" height="1.0" fill="#000" opacity="0.7"/>
<rect x="404.5" y="88.0" width="1.0" height="1.0" fill="#000" opacity="0.7"/>
<rect x="406.5" y="84.3" width="1.0" height="1.0" fill="#000" opacity="0.7"/>
<rect x="408.0" y="88.5" width="1.0" height="1.0" fill="#000" opacity="0.7"/>
<rect x="404.5" y="89.9" width="1.0" height="1.0" fill="#000" opacity="0.7"/>
<rect x="405.4" y="84.9" width="1.0" height="1.0" fill="#000" opacity="0.7"/>
<rect x="404.4" y="85.1" width="1.0" height="1.0" fill="#000" opacity="0.7"/>
<rect x="403.8" y="85.3" width="1.0" height="1.0" fill="#000" opacity="0.7"/>
<rect x="407.0" y="89.5" width="1.0" height="1.0" fill="#000" opacity="0.7"/>
<rect x="403.1" y="91.0" width="1.0" height="1.0" fill="#000" opacity="0.7"/>
<rect x="403.8" y="86.2" width="1.0" height="1.0" fill="#000" opacity="0.7"/>
<rect x="405.6" y="89.1" width="1.0" height="1.0" fill="#000" opacity="0.7"/>
<rect x="404.9" y="87.9" width="1.0" height="1.0" fill="#000" opacity="0.7"/>
<rect x="409.1" y="90.8" width="1.0" height="1.0" fill="#000" opacity="0.7"/>
<rect x="403.6" y="86.5" width="1.0" height="1.0" fill="#000" opacity="0.7"/>
<rect x="404.1" y="85.6" width="1.0" height="1.0" fill="#000" opacity="0.7"/>
<rect x="405.8" y="88.5" width="1.0" height="1.0" fill="#000" opacity="0.7"/>
<rect x="405.0" y="88.8" width="1.0" height="1.0" fill="#000" opacity="0.7"/>
<rect x="405.2" y="84.6" width="1.0" height="1.0" fill="#000" opacity="0.7"/>
<rect x="407.0" y="88.1" width="1.0" height="1.0" fill="#000" opacity="0.7"/>
<rect x="407.6" y="88.0" width="1.0" height="1.0" fill="#000" opacity="0.7"/>
<rect x="406.5" y="89.0" width="1.0" height="1.0" fill="#000" opacity="0.7"/>
<rect x="400.8" y="80.5" width="1.0" height="1.0" fill="#000" opacity="0.7"/>
<rect x="403.6" y="88.6" width="1.0" height="1.0" fill="#000" opacity="0.7"/>
<rect x="402.2" y="86.5" width="1.0" height="1.0" fill="#000" opacity="0.7"/>
<rect x="407.4" y="90.1" width="1.0" height="1.0" fill="#000" opacity="0.7"/>
<rect x="406.7" y="87.5" width="1.0" height="1.0" fill="#000" opacity="0.7"/>
<rect x="405.5" y="87.9" width="1.0" height="1.0" fill="#000" opacity="0.7"/>
<rect x="406.2" y="89.5" width="1.0" height="1.0" fill="#000" opacity="0.7"/>
<rect x="405.1" y="85.8" width="1.0" height="1.0" fill="#000" opacity="0.7"/>
<rect x="404.5" y="87.5" width="1.0" height="1.0" fill="#000" opacity="0.7"/>
<rect x="402.6" y="82.5" width="1.0" height="1.0" fill="#000" opacity="0.7"/>
<rect x="404.8" y="85.8" width="1.0" height="1.0" fill="#000" opacity="0.7"/>
<rect x="405.0" y="81.8" width="1.0" height="1.0" fill="#000" opacity="0.7"/>
<rect x="404.9" y="86.5" width="1.0" height="1.0" fill="#000" opacity="0.7"/>
<rect x="406.8" y="84.7" width="1.0" height="1.0" fill="#000" opacity="0.7"/>
<rect x="405.0" y="88.0" width="1.0" height="1.0" fill="#000" opacity="0.7"/>
<rect x="406.3" y="90.6" width="1.0" height="1.0" fill="#000" opacity="0.7"/>
<rect x="407.3" y="87.0" width="1.0" height="1.0" fill="#000" opacity="0.7"/>
<rect x="406.6" y="87.8" width="1.0" height="1.0" fill="#000" opacity="0.7"/>
<rect x="404.1" y="89.4" width="1.0" height="1.0" fill="#000" opacity="0.7"/>
<rect x="404.4" y="84.8" width="1.0" height="1.0" fill="#000" opacity="0.7"/>
<rect x="404.8" y="85.2" width="1.0" height="1.0" fill="#000" opacity="0.7"/>
<rect x="407.2" y="89.8" width="1.0" height="1.0" fill="#000" opacity="0.7"/>
<rect x="407.9" y="90.4" width="1.0" height="1.0" fill="#000" opacity="0.7"/>
<rect x="404.4" y="88.7" width="1.0" height="1.0" fill="#000" opacity="0.7"/>
<rect x="404.4" y="85.6" width="1.0" height="1.0" fill="#000" opacity="0.7"/>
<rect x="405.2" y="87.3" width="1.0" height="1.0" fill="#000" opacity="0.7"/>
<rect x="407.6" y="88.1" width="1.0" height="1.0" fill="#000" opacity="0.7"/>
<rect x="406.1" y="88.0" width="1.0" height="1.0" fill="#000" opacity="0.7"/>
<rect x="403.3" y="83.4" width="1.0" height="1.0" fill="#000" opacity="0.7"/>
<rect x="405.1" y="88.0" width="1.0" height="1.0" fill="#000" opacity="0.7"/>
<rect x="406.1" y="88.9" width="1.0" height="1.0" fill="#000" opacity="0.7"/>
<rect x="405.6" y="86.7" width="1.0" height="1.0" fill="#000" opacity="0.7"/>
<rect x="406.2" y="86.1" width="1.0" height="1.0" fill="#000" opacity="0.7"/>
<rect x="403.2" y="84.8" width="1.0" height="1.0" fill="#000" opacity="0.7"/>
<rect x="403.0" y="84.3" width="1.0" height="1.0" fill="#000" opacity="0.7"/>
<rect x="404.2" y="85.3" width="1.0" height="1.0" fill="#000" opacity="0.7"/>
<rect x="405.4" y="85.8" width="1.0" height="1.0" fill="#000" opacity="0.7"/>
<rect x="404.8" y="83.4" width="1.0" height="1.0" fill="#000" opacity="0.7"/>
<rect x="405.8" y="86.0" width="1.0" height="1.0" fill="#000" opacity="0.7"/>
<rect x="406.2" y="82.4" width="1.0" height="1.0" fill="#000" opacity="0.7"/>
<rect x="404.1" y="86.8" width="1.0" height="1.0" fill="#000" opacity="0.7"/>
<rect x="401.3" y="83.1" width="1.0" height="1.0" fill="#000" opacity="0.7"/>
<rect x="405.7" y="87.8" width="1.0" height="1.0" fill="#000" opacity="0.7"/>
<rect x="402.9" y="85.7" width="1.0" height="1.0" fill="#000" opacity="0.7"/>
<rect x="405.8" y="85.8" width="1.0" height="1.0" fill="#000" opacity="0.7"/>
<rect x="406.8" y="88.5" width="1.0" height="1.0" fill="#000" opacity="0.7"/>
<rect x="405.5" y="86.6" width="1.0" height="1.0" fill="#000" opacity="0.7"/>
<rect x="406.5" y="88.5" width="1.0" height="1.0" fill="#000" opacity="0.7"/>
<rect x="407.5" y="90.1" width="1.0" height="1.0" fill="#000" opacity="0.7"/>
<rect x="404.4" y="86.1" width="1.0" height="1.0" fill="#000" opacity="0.7"/>
<rect x="407.1" y="88.1" width="1.0" height="1.0" fill="#000" opacity="0.7"/>
<rect x="406.2" y="89.1" width="1.0" height="1.0" fill="#000" opacity="0.7"/>
<rect x="405.2" y="82.6" width="1.0" height="1.0" fill="#000" opacity="0.7"/>
<rect x="405.7" y="88.1" width="1.0" height="1.0" fill="#000" opacity="0.7"/>
<rect x="405.7" y="86.2" width="1.0" height="1.0" fill="#000" opacity="0.7"/>
<rect x="407.6" y="89.1" width="1.0" height="1.0" fill="#000" opacity="0.7"/>
<rect x="404.4" y="85.1" width="1.0" height="1.0" fill="#000" opacity="0.7"/>
<rect x="406.1" y="85.8" width="1.0" height="1.0" fill="#000" opacity="0.7"/>
<rect x="403.8" y="90.0" width="1.0" height="1.0" fill="#000" opacity="0.7"/>
<rect x="407.8" y="91.6" width="1.0" height="1.0" fill="#000" opacity="0.7"/>
<rect x="407.9" y="90.8" width="1.0" height="1.0" fill="#000" opacity="0.7"/>
<rect x="402.6" y="87.4" width="1.0" height="1.0" fill="#000" opacity="0.7"/>
<rect x="407.7" y="90.4" width="1.0" height="1.0" fill="#000" opacity="0.7"/>
<rect x="402.1" y="87.0" width="1.0" height="1.0" fill="#000" opacity="0.7"/>
<rect x="407.9" y="88.6" width="1.0" height="1.0" fill="#000" opacity="0.7"/>
<rect x="405.7" y="89.3" width="1.0" height="1.0" fill="#000" opacity="0.7"/>
<rect x="405.4" y="89.6" width="1.0" height="1.0" fill="#000" opacity="0.7"/>
<rect x="405.6" y="89.0" width="1.0" height="1.0" fill="#000" opacity="0.7"/>
<rect x="405.6" y="84.6" width="1.0" height="1.0" fill="#000" opacity="0.7"/>
<rect x="403.8" y="92.4" width="1.0" height="1.0" fill="#000" opacity="0.7"/>
<rect x="406.0" y="90.6" width="1.0" height="1.0" fill="#000" opacity="0.7"/>
<rect x="406.5" y="87.1" width="1.0" height="1.0" fill="#000" opacity="0.7"/>
<rect x="405.5" y="83.7" width="1.0" height="1.0" fill="#000" opacity="0.7"/>
<rect x="405.2" y="89.0" width="1.0" height="1.0" fill="#000" opacity="0.7"/>
<rect x="401.7" y="84.6" width="1.0" height="1.0" fill="#000" opacity="0.7"/>
<rect x="406.9" y="91.4" width="1.0" height="1.0" fill="#000" opacity="0.7"/>
<rect x="403.9" y="84.8" width="1.0" height="1.0" fill="#000" opacity="0.7"/>
<rect x="402.2" y="82.6" width="1.0" height="1.0" fill="#000" opacity="0.7"/>
<rect x="403.5" y="88.5" width="1.0" height="1.0" fill="#000" opacity="0.7"/>
<rect x="406.2" y="87.1" width="1.0" height="1.0" fill="#000" opacity="0.7"/>
<rect x="409.3" y="85.7" width="1.0" height="1.0" fill="#000" opacity="0.7"/>
<rect x="405.4" y="87.8" width="1.0" height="1.0" fill="#000" opacity="0.7"/>
<rect x="409.5" y="91.2" width="1.0" height="1.0" fill="#000" opacity="0.7"/>
<rect x="407.2" y="91.7" width="1.0" height="1.0" fill="#000" opacity="0.7"/>
<rect x="406.4" y="89.0" width="1.0" height="1.0" fill="#000" opacity="0.7"/>
<rect x="405.2" y="86.4" width="1.0" height="1.0" fill="#000" opacity="0.7"/>
<rect x="403.4" y="89.6" width="1.0" height="1.0" fill="#000" opacity="0.7"/>
<rect x="404.7" y="82.6" width="1.0" height="1.0" fill="#000" opacity="0.7"/>
<rect x="406.0" y="87.8" width="1.0" height="1.0" fill="#000" opacity="0.7"/>
<rect x="405.8" y="91.4" width="1.0" height="1.0" fill="#000" opacity="0.7"/>
<rect x="405.3" y="86.8" width="1.0" height="1.0" fill="#000" opacity="0.7"/>
<rect x="404.2" y="86.3" width="1.0" height="1.0" fill="#000" opacity="0.7"/>
<rect x="404.7" y="87.2" width="1.0" height="1.0" fill="#000" opacity="0.7"/>
<rect x="404.0" y="90.1" width="1.0" height="1.0" fill="#000" opacity="0.7"/>
<rect x="407.0" y="90.5" width="1.0" height="1.0" fill="#000" opacity="0.7"/>
<rect x="406.8" y="90.2" width="1.0" height="1.0" fill="#000" opacity="0.7"/>
<rect x="406.7" y="91.4" width="1.0" height="1.0" fill="#000" opacity="0.7"/>
<rect x="407.3" y="91.8" width="1.0" height="1.0" fill="#000" opacity="0.7"/>
<rect x="404.6" y="86.7" width="1.0" height="1.0" fill="#000" opacity="0.7"/>
<rect x="404.2" y="88.3" width="1.0" height="1.0" fill="#000" opacity="0.7"/>
<rect x="407.0" y="87.8" width="1.0" height="1.0" fill="#000" opacity="0.7"/>
<rect x="411.6" y="83.3" width="1.0" height="1.0" fill="#444" opacity="0.7"/>
<rect x="407.7" y="84.7" width="1.0" height="1.0" fill="#444" opacity="0.7"/>
<rect x="407.9" y="84.1" width="1.0" height="1.0" fill="#444" opacity="0.7"/>
<rect x="411.4" y="87.6" width="1.0" height="1.0" fill="#444" opacity="0.7"/>
<rect x="404.8" y="81.9" width="1.0" height="1.0" fill="#444" opacity="0.7"/>
<rect x="407.7" y="83.1" width="1.0" height="1.0" fill="#444" opacity="0.7"/>
<rect x="406.3" y="76.9" width="1.0" height="1.0" fill="#444" opacity="0.7"/>
<rect x="404.4" y="78.1" width="1.0" height="1.0" fill="#444" opacity="0.7"/>
<rect x="404.9" y="71.2" width="1.0" height="1.0" fill="#444" opacity="0.7"/>
<rect x="411.4" y="82.9" width="1.0" height="1.0" fill="#444" opacity="0.7"/>
<rect x="405.9" y="82.4" width="1.0" height="1.0" fill="#444" opacity="0.7"/>
<rect x="401.0" y="79.8" width="1.0" height="1.0" fill="#444" opacity="0.7"/>
<rect x="405.8" y="82.7" width="1.0" height="1.0" fill="#444" opacity="0.7"/>
<rect x="406.6" y="82.5" width="1.0" height="1.0" fill="#444" opacity="0.7"/>
<rect x="408.3" y="83.3" width="1.0" height="1.0" fill="#444" opacity="0.7"/>
<rect x="402.7" y="72.8" width="1.0" height="1.0" fill="#444" opacity="0.7"/>
<rect x="407.9" y="87.3" width="1.0" height="1.0" fill="#444" opacity="0.7"/>
<rect x="406.4" y="83.0" width="1.0" height="1.0" fill="#444" opacity="0.7"/>
<rect x="408.5" y="85.0" width="1.0" height="1.0" fill="#444" opacity="0.7"/>
<rect x="410.9" y="81.4" width="1.0" height="1.0" fill="#444" opacity="0.7"/>
<rect x="408.8" y="83.3" width="1.0" height="1.0" fill="#444" opacity="0.7"/>
<rect x="407.1" y="79.4" width="1.0" height="1.0" fill="#444" opacity="0.7"/>
<rect x="405.7" y="77.4" width="1.0" height="1.0" fill="#444" opacity="0.7"/>
<rect x="404.8" y="87.5" width="1.0" height="1.0" fill="#444" opacity="0.7"/>
<rect x="413.0" y="88.2" width="1.0" height="1.0" fill="#444" opacity="0.7"/>
<rect x="410.2" y="82.2" width="1.0" height="1.0" fill="#444" opacity="0.7"/>
<rect x="408.4" y="87.9" width="1.0" height="1.0" fill="#444" opacity="0.7"/>
<rect x="407.9" y="79.7" width="1.0" height="1.0" fill="#444" opacity="0.7"/>
<rect x="407.3" y="79.1" width="1.0" height="1.0" fill="#444" opacity="0.7"/>
<rect x="403.9" y="78.0" width="1.0" height="1.0" fill="#444" opacity="0.7"/>
<rect x="406.8" y="79.2" width="1.0" height="1.0" fill="#444" opacity="0.7"/>
<rect x="405.4" y="77.4" width="1.0" height="1.0" fill="#444" opacity="0.7"/>
<rect x="408.7" y="88.1" width="1.0" height="1.0" fill="#444" opacity="0.7"/>
<rect x="407.4" y="89.4" width="1.0" height="1.0" fill="#444" opacity="0.7"/>
<rect x="403.3" y="78.9" width="1.0" height="1.0" fill="#444" opacity="0.7"/>
<rect x="404.6" y="78.9" width="1.0" height="1.0" fill="#444" opacity="0.7"/>
<rect x="408.3" y="85.1" width="1.0" height="1.0" fill="#444" opacity="0.7"/>
<rect x="411.3" y="84.7" width="1.0" height="1.0" fill="#444" opacity="0.7"/>
<rect x="404.4" y="78.6" width="1.0" height="1.0" fill="#444" opacity="0.7"/>
<rect x="408.9" y="81.7" width="1.0" height="1.0" fill="#444" opacity="0.7"/>
<rect x="410.6" y="91.0" width="1.0" height="1.0" fill="#444" opacity="0.7"/>
<rect x="403.8" y="79.8" width="1.0" height="1.0" fill="#444" opacity="0.7"/>
<rect x="411.0" y="80.1" width="1.0" height="1.0" fill="#444" opacity="0.7"/>
<rect x="408.6" y="82.9" width="1.0" height="1.0" fill="#444" opacity="0.7"/>
<rect x="403.8" y="82.8" width="1.0" height="1.0" fill="#444" opacity="0.7"/>
<rect x="408.6" y="82.2" width="1.0" height="1.0" fill="#444" opacity="0.7"/>
<rect x="409.3" y="86.4" width="1.0" height="1.0" fill="#444" opacity="0.7"/>
<rect x="410.2" y="87.2" width="1.0" height="1.0" fill="#444" opacity="0.7"/>
<rect x="422.0" y="74.6" width="1.0" height="1.0" fill="#999" opacity="0.7"/>
<rect x="417.9" y="78.4" width="1.0" height="1.0" fill="#999" opacity="0.7"/>
<rect x="406.5" y="84.2" width="1.0" height="1.0" fill="#999" opacity="0.7"/>
<rect x="418.2" y="74.9" width="1.0" height="1.0" fill="#999" opacity="0.7"/>
<rect x="411.1" y="78.7" width="1.0" height="1.0" fill="#999" opacity="0.7"/>
<rect x="420.2" y="76.3" width="1.0" height="1.0" fill="#999" opacity="0.7"/>
<rect x="418.0" y="75.4" width="1.0" height="1.0" fill="#999" opacity="0.7"/>
<rect x="416.3" y="77.7" width="1.0" height="1.0" fill="#999" opacity="0.7"/>
<rect x="309.9" y="119.7" width="1.0" height="1.0" fill="#777" opacity="0.7"/>
<rect x="312.3" y="118.3" width="1.0" height="1.0" fill="#777" opacity="0.7"/>
<rect x="315.0" y="121.1" width="1.0" height="1.0" fill="#777" opacity="0.7"/>
<rect x="315.9" y="118.6" width="1.0" height="1.0" fill="#777" opacity="0.7"/>
<rect x="312.2" y="116.0" width="1.0" height="1.0" fill="#777" opacity="0.7"/>
<rect x="311.3" y="119.7" width="1.0" height="1.0" fill="#777" opacity="0.7"/>
<rect x="314.1" y="117.1" width="1.0" height="1.0" fill="#777" opacity="0.7"/>
<rect x="306.5" y="114.3" width="1.0" height="1.0" fill="#777" opacity="0.7"/>
<rect x="314.6" y="120.5" width="1.0" height="1.0" fill="#777" opacity="0.7"/>
<rect x="314.8" y="114.7" width="1.0" height="1.0" fill="#777" opacity="0.7"/>
<rect x="312.0" y="118.5" width="1.0" height="1.0" fill="#777" opacity="0.7"/>
<rect x="308.5" y="118.8" width="1.0" height="1.0" fill="#777" opacity="0.7"/>
<rect x="312.0" y="116.0" width="1.0" height="1.0" fill="#777" opacity="0.7"/>
<rect x="306.9" y="120.0" width="1.0" height="1.0" fill="#777" opacity="0.7"/>
<rect x="314.7" y="115.8" width="1.0" height="1.0" fill="#777" opacity="0.7"/>
<rect x="308.1" y="120.2" width="1.0" height="1.0" fill="#777" opacity="0.7"/>
<rect x="315.9" y="117.3" width="1.0" height="1.0" fill="#777" opacity="0.7"/>
<rect x="320.8" y="117.3" width="1.0" height="1.0" fill="#777" opacity="0.7"/>
<rect x="307.9" y="120.7" width="1.0" height="1.0" fill="#777" opacity="0.7"/>
<rect x="312.1" y="118.8" width="1.0" height="1.0" fill="#777" opacity="0.7"/>
<rect x="313.2" y="115.6" width="1.0" height="1.0" fill="#777" opacity="0.7"/>
<rect x="307.2" y="117.5" width="1.0" height="1.0" fill="#777" opacity="0.7"/>
<rect x="319.8" y="115.6" width="1.0" height="1.0" fill="#777" opacity="0.7"/>
<rect x="319.6" y="118.5" width="1.0" height="1.0" fill="#777" opacity="0.7"/>
<rect x="307.6" y="118.6" width="1.0" height="1.0" fill="#777" opacity="0.7"/>
<rect x="315.8" y="115.8" width="1.0" height="1.0" fill="#777" opacity="0.7"/>
<rect x="302.6" y="118.9" width="1.0" height="1.0" fill="#777" opacity="0.7"/>
<rect x="307.6" y="119.1" width="1.0" height="1.0" fill="#777" opacity="0.7"/>
<rect x="303.7" y="117.7" width="1.0" height="1.0" fill="#777" opacity="0.7"/>
<rect x="309.1" y="114.4" width="1.0" height="1.0" fill="#777" opacity="0.7"/>
<rect x="311.8" y="118.4" width="1.0" height="1.0" fill="#777" opacity="0.7"/>
<rect x="310.3" y="115.1" width="1.0" height="1.0" fill="#777" opacity="0.7"/>
<rect x="314.0" y="113.7" width="1.0" height="1.0" fill="#777" opacity="0.7"/>
<rect x="315.6" y="119.2" width="1.0" height="1.0" fill="#777" opacity="0.7"/>
<rect x="321.2" y="120.1" width="1.0" height="1.0" fill="#777" opacity="0.7"/>
<rect x="314.7" y="118.6" width="1.0" height="1.0" fill="#777" opacity="0.7"/>
<rect x="313.1" y="114.8" width="1.0" height="1.0" fill="#777" opacity="0.7"/>
<rect x="320.1" y="119.3" width="1.0" height="1.0" fill="#777" opacity="0.7"/>
<rect x="311.6" y="115.2" width="1.0" height="1.0" fill="#777" opacity="0.7"/>
<rect x="320.2" y="119.3" width="1.0" height="1.0" fill="#777" opacity="0.7"/>
<rect x="360.9" y="124.8" width="1.0" height="1.0" fill="#000" opacity="0.7"/>
<rect x="366.3" y="122.9" width="1.0" height="1.0" fill="#000" opacity="0.7"/>
<rect x="363.7" y="121.9" width="1.0" height="1.0" fill="#000" opacity="0.7"/>
<rect x="361.9" y="125.9" width="1.0" height="1.0" fill="#000" opacity="0.7"/>
<rect x="368.4" y="123.3" width="1.0" height="1.0" fill="#000" opacity="0.7"/>
<rect x="362.8" y="125.2" width="1.0" height="1.0" fill="#000" opacity="0.7"/>
<rect x="362.5" y="125.0" width="1.0" height="1.0" fill="#000" opacity="0.7"/>
<rect x="364.4" y="120.2" width="1.0" height="1.0" fill="#000" opacity="0.7"/>
<rect x="361.1" y="122.8" width="1.0" height="1.0" fill="#000" opacity="0.7"/>
<rect x="364.5" y="123.8" width="1.0" height="1.0" fill="#000" opacity="0.7"/>
<rect x="365.2" y="119.3" width="1.0" height="1.0" fill="#000" opacity="0.7"/>
<rect x="363.9" y="121.3" width="1.0" height="1.0" fill="#000" opacity="0.7"/>
<rect x="363.2" y="123.9" width="1.0" height="1.0" fill="#000" opacity="0.7"/>
<rect x="361.3" y="122.4" width="1.0" height="1.0" fill="#000" opacity="0.7"/>
<rect x="361.0" y="123.7" width="1.0" height="1.0" fill="#000" opacity="0.7"/>
<rect x="361.5" y="121.7" width="1.0" height="1.0" fill="#000" opacity="0.7"/>
<rect x="363.4" y="121.2" width="1.0" height="1.0" fill="#000" opacity="0.7"/>
<rect x="365.0" y="121.3" width="1.0" height="1.0" fill="#000" opacity="0.7"/>
<rect x="364.5" y="123.8" width="1.0" height="1.0" fill="#000" opacity="0.7"/>
<rect x="361.2" y="122.4" width="1.0" height="1.0" fill="#000" opacity="0.7"/>
<rect x="361.5" y="122.0" width="1.0" height="1.0" fill="#000" opacity="0.7"/>
<rect x="362.5" y="127.9" width="1.0" height="1.0" fill="#000" opacity="0.7"/>
<rect x="362.3" y="127.3" width="1.0" height="1.0" fill="#000" opacity="0.7"/>
<rect x="363.8" y="119.5" width="1.0" height="1.0" fill="#000" opacity="0.7"/>
<rect x="359.0" y="124.8" width="1.0" height="1.0" fill="#000" opacity="0.7"/>
<rect x="359.5" y="124.9" width="1.0" height="1.0" fill="#000" opacity="0.7"/>
<rect x="364.8" y="124.1" width="1.0" height="1.0" fill="#000" opacity="0.7"/>
<rect x="362.6" y="122.3" width="1.0" height="1.0" fill="#000" opacity="0.7"/>
<rect x="363.5" y="122.2" width="1.0" height="1.0" fill="#000" opacity="0.7"/>
<rect x="362.1" y="122.0" width="1.0" height="1.0" fill="#000" opacity="0.7"/>
<rect x="365.0" y="121.3" width="1.0" height="1.0" fill="#000" opacity="0.7"/>
<rect x="363.7" y="119.9" width="1.0" height="1.0" fill="#000" opacity="0.7"/>
<rect x="361.8" y="119.3" width="1.0" height="1.0" fill="#000" opacity="0.7"/>
<rect x="362.7" y="124.9" width="1.0" height="1.0" fill="#000" opacity="0.7"/>
<rect x="363.5" y="121.7" width="1.0" height="1.0" fill="#000" opacity="0.7"/>
<rect x="364.1" y="122.1" width="1.0" height="1.0" fill="#000" opacity="0.7"/>
<rect x="363.6" y="123.7" width="1.0" height="1.0" fill="#000" opacity="0.7"/>
<rect x="363.9" y="116.3" width="1.0" height="1.0" fill="#000" opacity="0.7"/>
<rect x="360.7" y="125.1" width="1.0" height="1.0" fill="#000" opacity="0.7"/>
<rect x="362.8" y="129.1" width="1.0" height="1.0" fill="#000" opacity="0.7"/>
<rect x="362.6" y="121.5" width="1.0" height="1.0" fill="#000" opacity="0.7"/>
<rect x="365.6" y="124.5" width="1.0" height="1.0" fill="#000" opacity="0.7"/>
<rect x="366.3" y="124.4" width="1.0" height="1.0" fill="#000" opacity="0.7"/>
<rect x="362.6" y="125.0" width="1.0" height="1.0" fill="#000" opacity="0.7"/>
<rect x="361.6" y="121.8" width="1.0" height="1.0" fill="#000" opacity="0.7"/>
<rect x="362.0" y="122.4" width="1.0" height="1.0" fill="#000" opacity="0.7"/>
<rect x="364.4" y="121.7" width="1.0" height="1.0" fill="#000" opacity="0.7"/>
<rect x="363.6" y="121.7" width="1.0" height="1.0" fill="#000" opacity="0.7"/>
<rect x="364.5" y="115.5" width="1.0" height="1.0" fill="#000" opacity="0.7"/>
<rect x="362.6" y="123.5" width="1.0" height="1.0" fill="#000" opacity="0.7"/>
<rect x="361.1" y="125.7" width="1.0" height="1.0" fill="#000" opacity="0.7"/>
<rect x="363.4" y="126.5" width="1.0" height="1.0" fill="#000" opacity="0.7"/>
<rect x="364.7" y="124.7" width="1.0" height="1.0" fill="#000" opacity="0.7"/>
<rect x="362.7" y="120.1" width="1.0" height="1.0" fill="#000" opacity="0.7"/>
<rect x="362.6" y="121.8" width="1.0" height="1.0" fill="#000" opacity="0.7"/>
<rect x="363.4" y="121.7" width="1.0" height="1.0" fill="#000" opacity="0.7"/>
<rect x="368.3" y="118.7" width="1.0" height="1.0" fill="#000" opacity="0.7"/>
<rect x="365.0" y="121.7" width="1.0" height="1.0" fill="#000" opacity="0.7"/>
<rect x="362.6" y="125.5" width="1.0" height="1.0" fill="#000" opacity="0.7"/>
<rect x="363.0" y="119.7" width="1.0" height="1.0" fill="#000" opacity="0.7"/>
<rect x="363.7" y="122.5" width="1.0" height="1.0" fill="#000" opacity="0.7"/>
<rect x="359.4" y="123.5" width="1.0" height="1.0" fill="#000" opacity="0.7"/>
<rect x="361.2" y="121.0" width="1.0" height="1.0" fill="#000" opacity="0.7"/>
<rect x="363.8" y="123.8" width="1.0" height="1.0" fill="#000" opacity="0.7"/>
<rect x="362.5" y="128.9" width="1.0" height="1.0" fill="#000" opacity="0.7"/>
<rect x="363.7" y="121.3" width="1.0" height="1.0" fill="#000" opacity="0.7"/>
<rect x="363.4" y="122.7" width="1.0" height="1.0" fill="#000" opacity="0.7"/>
<rect x="359.2" y="118.7" width="1.0" height="1.0" fill="#000" opacity="0.7"/>
<rect x="360.6" y="128.6" width="1.0" height="1.0" fill="#000" opacity="0.7"/>
<rect x="362.7" y="122.3" width="1.0" height="1.0" fill="#000" opacity="0.7"/>
<rect x="362.0" y="125.7" width="1.0" height="1.0" fill="#000" opacity="0.7"/>
<rect x="363.0" y="127.6" width="1.0" height="1.0" fill="#000" opacity="0.7"/>
<rect x="364.4" y="127.4" width="1.0" height="1.0" fill="#000" opacity="0.7"/>
<rect x="362.8" y="124.0" width="1.0" height="1.0" fill="#000" opacity="0.7"/>
<rect x="362.2" y="122.5" width="1.0" height="1.0" fill="#000" opacity="0.7"/>
<rect x="360.0" y="121.4" width="1.0" height="1.0" fill="#000" opacity="0.7"/>
<rect x="361.3" y="121.2" width="1.0" height="1.0" fill="#000" opacity="0.7"/>
<rect x="365.1" y="123.7" width="1.0" height="1.0" fill="#000" opacity="0.7"/>
<rect x="365.1" y="125.3" width="1.0" height="1.0" fill="#000" opacity="0.7"/>
<rect x="364.6" y="125.7" width="1.0" height="1.0" fill="#000" opacity="0.7"/>
<rect x="361.9" y="125.2" width="1.0" height="1.0" fill="#000" opacity="0.7"/>
<rect x="362.4" y="121.6" width="1.0" height="1.0" fill="#000" opacity="0.7"/>
<rect x="365.1" y="128.8" width="1.0" height="1.0" fill="#000" opacity="0.7"/>
<rect x="361.3" y="127.7" width="1.0" height="1.0" fill="#000" opacity="0.7"/>
<rect x="364.4" y="120.7" width="1.0" height="1.0" fill="#000" opacity="0.7"/>
<rect x="363.5" y="124.0" width="1.0" height="1.0" fill="#000" opacity="0.7"/>
<rect x="363.7" y="122.0" width="1.0" height="1.0" fill="#000" opacity="0.7"/>
<rect x="360.8" y="123.1" width="1.0" height="1.0" fill="#000" opacity="0.7"/>
<rect x="364.5" y="125.1" width="1.0" height="1.0" fill="#000" opacity="0.7"/>
<rect x="364.1" y="126.0" width="1.0" height="1.0" fill="#000" opacity="0.7"/>
<rect x="361.3" y="122.9" width="1.0" height="1.0" fill="#000" opacity="0.7"/>
<rect x="363.6" y="125.7" width="1.0" height="1.0" fill="#000" opacity="0.7"/>
<rect x="363.3" y="124.4" width="1.0" height="1.0" fill="#000" opacity="0.7"/>
<rect x="363.2" y="128.7" width="1.0" height="1.0" fill="#000" opacity="0.7"/>
<rect x="359.2" y="122.9" width="1.0" height="1.0" fill="#000" opacity="0.7"/>
<rect x="367.3" y="123.6" width="1.0" height="1.0" fill="#000" opacity="0.7"/>
<rect x="359.8" y="123.4" width="1.0" height="1.0" fill="#000" opacity="0.7"/>
<rect x="360.5" y="121.2" width="1.0" height="1.0" fill="#000" opacity="0.7"/>
<rect x="363.4" y="127.6" width="1.0" height="1.0" fill="#000" opacity="0.7"/>
<rect x="363.8" y="124.8" width="1.0" height="1.0" fill="#000" opacity="0.7"/>
<rect x="364.8" y="123.5" width="1.0" height="1.0" fill="#000" opacity="0.7"/>
<rect x="361.5" y="122.7" width="1.0" height="1.0" fill="#000" opacity="0.7"/>
<rect x="363.6" y="122.3" width="1.0" height="1.0" fill="#000" opacity="0.7"/>
<rect x="361.8" y="122.0" width="1.0" height="1.0" fill="#000" opacity="0.7"/>
<rect x="360.4" y="120.2" width="1.0" height="1.0" fill="#000" opacity="0.7"/>
<rect x="362.8" y="122.0" width="1.0" height="1.0" fill="#000" opacity="0.7"/>
<rect x="363.1" y="126.8" width="1.0" height="1.0" fill="#000" opacity="0.7"/>
<rect x="363.5" y="122.9" width="1.0" height="1.0" fill="#000" opacity="0.7"/>
<rect x="361.0" y="120.1" width="1.0" height="1.0" fill="#000" opacity="0.7"/>
<rect x="363.7" y="120.6" width="1.0" height="1.0" fill="#000" opacity="0.7"/>
<rect x="363.7" y="120.1" width="1.0" height="1.0" fill="#000" opacity="0.7"/>
<rect x="363.2" y="122.8" width="1.0" height="1.0" fill="#000" opacity="0.7"/>
<rect x="364.7" y="121.9" width="1.0" height="1.0" fill="#000" opacity="0.7"/>
<rect x="362.4" y="123.7" width="1.0" height="1.0" fill="#000" opacity="0.7"/>
<rect x="363.1" y="127.6" width="1.0" height="1.0" fill="#000" opacity="0.7"/>
<rect x="362.6" y="121.6" width="1.0" height="1.0" fill="#000" opacity="0.7"/>
<rect x="362.4" y="124.3" width="1.0" height="1.0" fill="#000" opacity="0.7"/>
<rect x="363.4" y="124.9" width="1.0" height="1.0" fill="#000" opacity="0.7"/>
<rect x="360.6" y="129.7" width="1.0" height="1.0" fill="#000" opacity="0.7"/>
<rect x="366.2" y="122.9" width="1.0" height="1.0" fill="#000" opacity="0.7"/>
<rect x="360.9" y="123.4" width="1.0" height="1.0" fill="#000" opacity="0.7"/>
<rect x="363.7" y="117.0" width="1.0" height="1.0" fill="#000" opacity="0.7"/>
<rect x="363.0" y="119.0" width="1.0" height="1.0" fill="#000" opacity="0.7"/>
<rect x="363.8" y="126.7" width="1.0" height="1.0" fill="#000" opacity="0.7"/>
<rect x="364.8" y="118.9" width="1.0" height="1.0" fill="#000" opacity="0.7"/>
<rect x="365.4" y="125.4" width="1.0" height="1.0" fill="#000" opacity="0.7"/>
<rect x="362.4" y="124.4" width="1.0" height="1.0" fill="#000" opacity="0.7"/>
<rect x="365.6" y="122.1" width="1.0" height="1.0" fill="#000" opacity="0.7"/>
<rect x="363.0" y="121.5" width="1.0" height="1.0" fill="#000" opacity="0.7"/>
<rect x="365.0" y="117.2" width="1.0" height="1.0" fill="#000" opacity="0.7"/>
<rect x="365.5" y="120.4" width="1.0" height="1.0" fill="#000" opacity="0.7"/>
<rect x="364.6" y="118.6" width="1.0" height="1.0" fill="#000" opacity="0.7"/>
<rect x="361.4" y="121.4" width="1.0" height="1.0" fill="#000" opacity="0.7"/>
<rect x="364.4" y="118.6" width="1.0" height="1.0" fill="#000" opacity="0.7"/>
<rect x="364.0" y="121.3" width="1.0" height="1.0" fill="#000" opacity="0.7"/>
<rect x="365.2" y="122.2" width="1.0" height="1.0" fill="#000" opacity="0.7"/>
<rect x="363.8" y="122.5" width="1.0" height="1.0" fill="#000" opacity="0.7"/>
<rect x="366.1" y="122.0" width="1.0" height="1.0" fill="#000" opacity="0.7"/>
<rect x="363.0" y="128.3" width="1.0" height="1.0" fill="#000" opacity="0.7"/>
<rect x="363.1" y="124.8" width="1.0" height="1.0" fill="#000" opacity="0.7"/>
<rect x="361.7" y="123.5" width="1.0" height="1.0" fill="#000" opacity="0.7"/>
<rect x="359.1" y="123.3" width="1.0" height="1.0" fill="#000" opacity="0.7"/>
<rect x="361.9" y="119.0" width="1.0" height="1.0" fill="#000" opacity="0.7"/>
<rect x="360.5" y="126.1" width="1.0" height="1.0" fill="#000" opacity="0.7"/>
<rect x="363.7" y="118.9" width="1.0" height="1.0" fill="#000" opacity="0.7"/>
<rect x="366.1" y="121.1" width="1.0" height="1.0" fill="#000" opacity="0.7"/>
<rect x="362.4" y="123.7" width="1.0" height="1.0" fill="#000" opacity="0.7"/>
<rect x="361.0" y="118.6" width="1.0" height="1.0" fill="#000" opacity="0.7"/>
<rect x="361.7" y="126.2" width="1.0" height="1.0" fill="#000" opacity="0.7"/>
<rect x="364.6" y="118.7" width="1.0" height="1.0" fill="#000" opacity="0.7"/>
<rect x="365.1" y="123.1" width="1.0" height="1.0" fill="#000" opacity="0.7"/>
<rect x="363.9" y="123.1" width="1.0" height="1.0" fill="#000" opacity="0.7"/>
<rect x="363.7" y="120.3" width="1.0" height="1.0" fill="#000" opacity="0.7"/>
<rect x="361.4" y="121.1" width="1.0" height="1.0" fill="#000" opacity="0.7"/>
<rect x="362.4" y="124.7" width="1.0" height="1.0" fill="#000" opacity="0.7"/>
<rect x="360.9" y="127.3" width="1.0" height="1.0" fill="#000" opacity="0.7"/>
<rect x="361.9" y="121.4" width="1.0" height="1.0" fill="#000" opacity="0.7"/>
<rect x="364.2" y="124.2" width="1.0" height="1.0" fill="#000" opacity="0.7"/>
<rect x="362.4" y="120.1" width="1.0" height="1.0" fill="#000" opacity="0.7"/>
<rect x="361.3" y="118.7" width="1.0" height="1.0" fill="#000" opacity="0.7"/>
<rect x="378.0" y="131.9" width="1.0" height="1.0" fill="#333" opacity="0.7"/>
<rect x="381.1" y="130.3" width="1.0" height="1.0" fill="#333" opacity="0.7"/>
<rect x="374.4" y="131.0" width="1.0" height="1.0" fill="#333" opacity="0.7"/>
<rect x="377.1" y="128.3" width="1.0" height="1.0" fill="#333" opacity="0.7"/>
<rect x="374.5" y="134.8" width="1.0" height="1.0" fill="#333" opacity="0.7"/>
<rect x="365.7" y="125.2" width="1.0" height="1.0" fill="#333" opacity="0.7"/>
<rect x="368.8" y="131.0" width="1.0" height="1.0" fill="#333" opacity="0.7"/>
<rect x="378.1" y="128.1" width="1.0" height="1.0" fill="#333" opacity="0.7"/>
<rect x="375.9" y="128.9" width="1.0" height="1.0" fill="#333" opacity="0.7"/>
<rect x="374.3" y="127.5" width="1.0" height="1.0" fill="#333" opacity="0.7"/>
<rect x="372.9" y="129.0" width="1.0" height="1.0" fill="#333" opacity="0.7"/>
<rect x="377.9" y="135.0" width="1.0" height="1.0" fill="#333" opacity="0.7"/>
<rect x="365.1" y="130.4" width="1.0" height="1.0" fill="#333" opacity="0.7"/>
<rect x="373.0" y="131.6" width="1.0" height="1.0" fill="#333" opacity="0.7"/>
<rect x="377.6" y="131.1" width="1.0" height="1.0" fill="#333" opacity="0.7"/>
<rect x="376.5" y="126.4" width="1.0" height="1.0" fill="#333" opacity="0.7"/>
<rect x="365.6" y="133.5" width="1.0" height="1.0" fill="#333" opacity="0.7"/>
<rect x="378.2" y="126.4" width="1.0" height="1.0" fill="#333" opacity="0.7"/>
<rect x="378.6" y="130.8" width="1.0" height="1.0" fill="#333" opacity="0.7"/>
<rect x="362.4" y="131.4" width="1.0" height="1.0" fill="#333" opacity="0.7"/>
<rect x="368.7" y="132.1" width="1.0" height="1.0" fill="#333" opacity="0.7"/>
<rect x="370.0" y="127.0" width="1.0" height="1.0" fill="#333" opacity="0.7"/>
<rect x="366.3" y="128.4" width="1.0" height="1.0" fill="#333" opacity="0.7"/>
<rect x="377.4" y="127.2" width="1.0" height="1.0" fill="#333" opacity="0.7"/>
<rect x="364.9" y="134.8" width="1.0" height="1.0" fill="#333" opacity="0.7"/>
<rect x="381.0" y="130.9" width="1.0" height="1.0" fill="#333" opacity="0.7"/>
<rect x="370.7" y="125.7" width="1.0" height="1.0" fill="#333" opacity="0.7"/>
<rect x="365.9" y="130.5" width="1.0" height="1.0" fill="#333" opacity="0.7"/>
<rect x="378.6" y="126.1" width="1.0" height="1.0" fill="#333" opacity="0.7"/>
<rect x="373.0" y="128.3" width="1.0" height="1.0" fill="#333" opacity="0.7"/>
<rect x="371.9" y="130.4" width="1.0" height="1.0" fill="#333" opacity="0.7"/>
<rect x="382.1" y="127.3" width="1.0" height="1.0" fill="#333" opacity="0.7"/>
<rect x="376.7" y="131.9" width="1.0" height="1.0" fill="#333" opacity="0.7"/>
<rect x="371.8" y="128.6" width="1.0" height="1.0" fill="#333" opacity="0.7"/>
<rect x="367.2" y="131.9" width="1.0" height="1.0" fill="#333" opacity="0.7"/>
<rect x="370.7" y="127.2" width="1.0" height="1.0" fill="#333" opacity="0.7"/>
<rect x="373.3" y="126.7" width="1.0" height="1.0" fill="#333" opacity="0.7"/>
<rect x="368.5" y="128.2" width="1.0" height="1.0" fill="#333" opacity="0.7"/>
<rect x="379.4" y="128.4" width="1.0" height="1.0" fill="#333" opacity="0.7"/>
<rect x="375.3" y="125.0" width="1.0" height="1.0" fill="#333" opacity="0.7"/>
<rect x="364.6" y="133.9" width="1.0" height="1.0" fill="#333" opacity="0.7"/>
<rect x="371.3" y="124.8" width="1.0" height="1.0" fill="#333" opacity="0.7"/>
<rect x="372.5" y="130.6" width="1.0" height="1.0" fill="#333" opacity="0.7"/>
<rect x="365.5" y="126.6" width="1.0" height="1.0" fill="#333" opacity="0.7"/>
<rect x="374.1" y="126.5" width="1.0" height="1.0" fill="#333" opacity="0.7"/>
<rect x="376.5" y="131.6" width="1.0" height="1.0" fill="#333" opacity="0.7"/>
<rect x="374.9" y="127.8" width="1.0" height="1.0" fill="#333" opacity="0.7"/>
<rect x="372.8" y="127.3" width="1.0" height="1.0" fill="#333" opacity="0.7"/>
<rect x="372.4" y="129.9" width="1.0" height="1.0" fill="#333" opacity="0.7"/>
<rect x="371.7" y="131.6" width="1.0" height="1.0" fill="#333" opacity="0.7"/>
<rect x="384.3" y="127.5" width="1.0" height="1.0" fill="#333" opacity="0.7"/>
<rect x="374.5" y="131.2" width="1.0" height="1.0" fill="#333" opacity="0.7"/>
<rect x="375.8" y="128.4" width="1.0" height="1.0" fill="#333" opacity="0.7"/>
<rect x="370.9" y="131.7" width="1.0" height="1.0" fill="#333" opacity="0.7"/>
<rect x="375.7" y="130.4" width="1.0" height="1.0" fill="#333" opacity="0.7"/>
<rect x="369.5" y="130.7" width="1.0" height="1.0" fill="#333" opacity="0.7"/>
<rect x="376.5" y="128.5" width="1.0" height="1.0" fill="#333" opacity="0.7"/>
<rect x="375.8" y="134.9" width="1.0" height="1.0" fill="#333" opacity="0.7"/>
<rect x="364.8" y="130.6" width="1.0" height="1.0" fill="#333" opacity="0.7"/>
<rect x="367.9" y="125.3" width="1.0" height="1.0" fill="#333" opacity="0.7"/>
<rect x="372.0" y="130.5" width="1.0" height="1.0" fill="#333" opacity="0.7"/>
<rect x="373.2" y="125.8" width="1.0" height="1.0" fill="#333" opacity="0.7"/>
<rect x="366.7" y="127.5" width="1.0" height="1.0" fill="#333" opacity="0.7"/>
<rect x="373.1" y="126.8" width="1.0" height="1.0" fill="#333" opacity="0.7"/>
<rect x="366.5" y="133.7" width="1.0" height="1.0" fill="#333" opacity="0.7"/>
<rect x="369.4" y="128.6" width="1.0" height="1.0" fill="#333" opacity="0.7"/>
<rect x="370.6" y="127.4" width="1.0" height="1.0" fill="#333" opacity="0.7"/>
<rect x="373.2" y="128.2" width="1.0" height="1.0" fill="#333" opacity="0.7"/>
<rect x="375.7" y="125.8" width="1.0" height="1.0" fill="#333" opacity="0.7"/>
<rect x="366.5" y="134.3" width="1.0" height="1.0" fill="#333" opacity="0.7"/>
<rect x="372.7" y="131.1" width="1.0" height="1.0" fill="#333" opacity="0.7"/>
<rect x="378.1" y="130.5" width="1.0" height="1.0" fill="#333" opacity="0.7"/>
<rect x="373.2" y="124.8" width="1.0" height="1.0" fill="#333" opacity="0.7"/>
<rect x="366.0" y="131.7" width="1.0" height="1.0" fill="#333" opacity="0.7"/>
<rect x="375.9" y="130.5" width="1.0" height="1.0" fill="#333" opacity="0.7"/>
<rect x="365.8" y="123.2" width="1.0" height="1.0" fill="#333" opacity="0.7"/>
<rect x="368.4" y="125.8" width="1.0" height="1.0" fill="#333" opacity="0.7"/>
<rect x="373.7" y="126.2" width="1.0" height="1.0" fill="#333" opacity="0.7"/>
<rect x="379.9" y="127.3" width="1.0" height="1.0" fill="#333" opacity="0.7"/>
<rect x="370.6" y="131.3" width="1.0" height="1.0" fill="#333" opacity="0.7"/>
<rect x="374.4" y="126.6" width="1.0" height="1.0" fill="#333" opacity="0.7"/>
<rect x="376.6" y="134.2" width="1.0" height="1.0" fill="#333" opacity="0.7"/>
<rect x="367.6" y="128.3" width="1.0" height="1.0" fill="#333" opacity="0.7"/>
<rect x="368.3" y="123.7" width="1.0" height="1.0" fill="#333" opacity="0.7"/>
<rect x="375.7" y="130.9" width="1.0" height="1.0" fill="#333" opacity="0.7"/>
<rect x="377.3" y="130.2" width="1.0" height="1.0" fill="#333" opacity="0.7"/>
<rect x="364.2" y="128.9" width="1.0" height="1.0" fill="#333" opacity="0.7"/>
<rect x="370.1" y="125.8" width="1.0" height="1.0" fill="#333" opacity="0.7"/>
<rect x="368.2" y="131.1" width="1.0" height="1.0" fill="#333" opacity="0.7"/>
<rect x="371.7" y="134.3" width="1.0" height="1.0" fill="#333" opacity="0.7"/>
<rect x="375.1" y="123.8" width="1.0" height="1.0" fill="#333" opacity="0.7"/>
<rect x="376.9" y="132.4" width="1.0" height="1.0" fill="#333" opacity="0.7"/>
<rect x="373.1" y="125.7" width="1.0" height="1.0" fill="#333" opacity="0.7"/>
<rect x="380.7" y="125.4" width="1.0" height="1.0" fill="#333" opacity="0.7"/>
<rect x="372.6" y="123.8" width="1.0" height="1.0" fill="#333" opacity="0.7"/>
<rect x="367.5" y="124.4" width="1.0" height="1.0" fill="#333" opacity="0.7"/>
<rect x="377.8" y="132.2" width="1.0" height="1.0" fill="#333" opacity="0.7"/>
<rect x="371.2" y="125.3" width="1.0" height="1.0" fill="#333" opacity="0.7"/>
<rect x="372.7" y="130.0" width="1.0" height="1.0" fill="#333" opacity="0.7"/>
<rect x="366.3" y="125.8" width="1.0" height="1.0" fill="#333" opacity="0.7"/>
<rect x="372.6" y="130.9" width="1.0" height="1.0" fill="#333" opacity="0.7"/>
<rect x="373.3" y="130.2" width="1.0" height="1.0" fill="#333" opacity="0.7"/>
<rect x="367.5" y="122.2" width="1.0" height="1.0" fill="#333" opacity="0.7"/>
<rect x="374.4" y="126.5" width="1.0" height="1.0" fill="#333" opacity="0.7"/>
<rect x="372.5" y="128.0" width="1.0" height="1.0" fill="#333" opacity="0.7"/>
<rect x="375.1" y="126.9" width="1.0" height="1.0" fill="#333" opacity="0.7"/>
<rect x="379.3" y="129.1" width="1.0" height="1.0" fill="#333" opacity="0.7"/>
<rect x="375.3" y="130.7" width="1.0" height="1.0" fill="#333" opacity="0.7"/>
<rect x="377.6" y="130.1" width="1.0" height="1.0" fill="#333" opacity="0.7"/>
<rect x="365.3" y="127.3" width="1.0" height="1.0" fill="#333" opacity="0.7"/>
<rect x="408.6" y="149.8" width="1.0" height="1.0" fill="#111" opacity="0.7"/>
<rect x="406.1" y="147.8" width="1.0" height="1.0" fill="#111" opacity="0.7"/>
<rect x="403.7" y="143.6" width="1.0" height="1.0" fill="#111" opacity="0.7"/>
<rect x="403.7" y="147.4" width="1.0" height="1.0" fill="#111" opacity="0.7"/>
<rect x="405.7" y="150.2" width="1.0" height="1.0" fill="#111" opacity="0.7"/>
<rect x="406.0" y="150.6" width="1.0" height="1.0" fill="#111" opacity="0.7"/>
<rect x="405.9" y="144.3" width="1.0" height="1.0" fill="#111" opacity="0.7"/>
<rect x="408.4" y="149.3" width="1.0" height="1.0" fill="#111" opacity="0.7"/>
<rect x="407.3" y="148.3" width="1.0" height="1.0" fill="#111" opacity="0.7"/>
<rect x="404.4" y="145.8" width="1.0" height="1.0" fill="#111" opacity="0.7"/>
<rect x="402.8" y="141.9" width="1.0" height="1.0" fill="#111" opacity="0.7"/>
<rect x="403.3" y="143.6" width="1.0" height="1.0" fill="#111" opacity="0.7"/>
<rect x="402.3" y="143.7" width="1.0" height="1.0" fill="#111" opacity="0.7"/>
<rect x="405.6" y="150.6" width="1.0" height="1.0" fill="#111" opacity="0.7"/>
<rect x="408.6" y="148.7" width="1.0" height="1.0" fill="#111" opacity="0.7"/>
<rect x="406.7" y="146.9" width="1.0" height="1.0" fill="#111" opacity="0.7"/>
<rect x="405.8" y="146.5" width="1.0" height="1.0" fill="#111" opacity="0.7"/>
<rect x="403.9" y="145.3" width="1.0" height="1.0" fill="#111" opacity="0.7"/>
<rect x="402.1" y="144.6" width="1.0" height="1.0" fill="#111" opacity="0.7"/>
<rect x="404.4" y="143.3" width="1.0" height="1.0" fill="#111" opacity="0.7"/>
<rect x="404.3" y="146.6" width="1.0" height="1.0" fill="#111" opacity="0.7"/>
<rect x="403.7" y="145.9" width="1.0" height="1.0" fill="#111" opacity="0.7"/>
<rect x="406.1" y="150.1" width="1.0" height="1.0" fill="#111" opacity="0.7"/>
<rect x="402.9" y="144.1" width="1.0" height="1.0" fill="#111" opacity="0.7"/>
<rect x="406.0" y="149.9" width="1.0" height="1.0" fill="#111" opacity="0.7"/>
<rect x="405.5" y="147.9" width="1.0" height="1.0" fill="#111" opacity="0.7"/>
<rect x="402.1" y="142.6" width="1.0" height="1.0" fill="#111" opacity="0.7"/>
<rect x="408.3" y="148.0" width="1.0" height="1.0" fill="#111" opacity="0.7"/>
<rect x="409.3" y="147.8" width="1.0" height="1.0" fill="#111" opacity="0.7"/>
<rect x="404.5" y="142.3" width="1.0" height="1.0" fill="#111" opacity="0.7"/>
<rect x="406.3" y="147.5" width="1.0" height="1.0" fill="#111" opacity="0.7"/>
<rect x="409.0" y="149.4" width="1.0" height="1.0" fill="#111" opacity="0.7"/>
<rect x="404.5" y="142.7" width="1.0" height="1.0" fill="#111" opacity="0.7"/>
<rect x="404.8" y="147.8" width="1.0" height="1.0" fill="#111" opacity="0.7"/>
<rect x="406.5" y="149.7" width="1.0" height="1.0" fill="#111" opacity="0.7"/>
<rect x="406.7" y="147.2" width="1.0" height="1.0" fill="#111" opacity="0.7"/>
<rect x="406.2" y="147.3" width="1.0" height="1.0" fill="#111" opacity="0.7"/>
<rect x="402.4" y="147.5" width="1.0" height="1.0" fill="#111" opacity="0.7"/>
<rect x="405.7" y="144.4" width="1.0" height="1.0" fill="#111" opacity="0.7"/>
<rect x="405.8" y="147.2" width="1.0" height="1.0" fill="#111" opacity="0.7"/>
<rect x="407.0" y="150.5" width="1.0" height="1.0" fill="#111" opacity="0.7"/>
<rect x="408.0" y="146.4" width="1.0" height="1.0" fill="#111" opacity="0.7"/>
<rect x="401.3" y="143.7" width="1.0" height="1.0" fill="#111" opacity="0.7"/>
<rect x="405.7" y="147.2" width="1.0" height="1.0" fill="#111" opacity="0.7"/>
<rect x="402.8" y="143.3" width="1.0" height="1.0" fill="#111" opacity="0.7"/>
<rect x="405.4" y="147.8" width="1.0" height="1.0" fill="#111" opacity="0.7"/>
<rect x="409.3" y="150.0" width="1.0" height="1.0" fill="#111" opacity="0.7"/>
<rect x="403.8" y="140.2" width="1.0" height="1.0" fill="#111" opacity="0.7"/>
<rect x="407.1" y="147.4" width="1.0" height="1.0" fill="#111" opacity="0.7"/>
<rect x="404.8" y="143.8" width="1.0" height="1.0" fill="#111" opacity="0.7"/>
<rect x="406.5" y="143.4" width="1.0" height="1.0" fill="#111" opacity="0.7"/>
<rect x="405.2" y="146.4" width="1.0" height="1.0" fill="#111" opacity="0.7"/>
<rect x="405.6" y="149.2" width="1.0" height="1.0" fill="#111" opacity="0.7"/>
<rect x="404.8" y="146.0" width="1.0" height="1.0" fill="#111" opacity="0.7"/>
<rect x="406.7" y="144.1" width="1.0" height="1.0" fill="#111" opacity="0.7"/>
<rect x="404.4" y="145.7" width="1.0" height="1.0" fill="#111" opacity="0.7"/>
<rect x="406.9" y="145.8" width="1.0" height="1.0" fill="#111" opacity="0.7"/>
<rect x="406.6" y="148.0" width="1.0" height="1.0" fill="#111" opacity="0.7"/>
<rect x="402.0" y="140.6" width="1.0" height="1.0" fill="#111" opacity="0.7"/>
<rect x="402.2" y="144.1" width="1.0" height="1.0" fill="#111" opacity="0.7"/>
<rect x="405.4" y="147.8" width="1.0" height="1.0" fill="#111" opacity="0.7"/>
<rect x="406.6" y="146.1" width="1.0" height="1.0" fill="#111" opacity="0.7"/>
<rect x="407.1" y="149.3" width="1.0" height="1.0" fill="#111" opacity="0.7"/>
<rect x="405.9" y="147.7" width="1.0" height="1.0" fill="#111" opacity="0.7"/>
<rect x="402.4" y="144.8" width="1.0" height="1.0" fill="#111" opacity="0.7"/>
<rect x="402.9" y="141.9" width="1.0" height="1.0" fill="#111" opacity="0.7"/>
<rect x="404.3" y="145.7" width="1.0" height="1.0" fill="#111" opacity="0.7"/>
<rect x="404.9" y="145.2" width="1.0" height="1.0" fill="#111" opacity="0.7"/>
<rect x="403.0" y="144.8" width="1.0" height="1.0" fill="#111" opacity="0.7"/>
<rect x="403.5" y="141.9" width="1.0" height="1.0" fill="#111" opacity="0.7"/>
<rect x="405.2" y="149.2" width="1.0" height="1.0" fill="#111" opacity="0.7"/>
<rect x="404.2" y="143.2" width="1.0" height="1.0" fill="#111" opacity="0.7"/>
<rect x="407.8" y="151.7" width="1.0" height="1.0" fill="#111" opacity="0.7"/>
<rect x="404.4" y="145.1" width="1.0" height="1.0" fill="#111" opacity="0.7"/>
<rect x="405.4" y="152.4" width="1.0" height="1.0" fill="#111" opacity="0.7"/>
<rect x="405.3" y="148.3" width="1.0" height="1.0" fill="#111" opacity="0.7"/>
<rect x="405.9" y="142.9" width="1.0" height="1.0" fill="#111" opacity="0.7"/>
<rect x="402.8" y="141.7" width="1.0" height="1.0" fill="#111" opacity="0.7"/>
<rect x="405.9" y="146.9" width="1.0" height="1.0" fill="#111" opacity="0.7"/>
<rect x="408.6" y="148.2" width="1.0" height="1.0" fill="#111" opacity="0.7"/>
<rect x="405.6" y="146.6" width="1.0" height="1.0" fill="#111" opacity="0.7"/>
<rect x="405.3" y="151.0" width="1.0" height="1.0" fill="#111" opacity="0.7"/>
<rect x="405.6" y="149.5" width="1.0" height="1.0" fill="#111" opacity="0.7"/>
<rect x="407.6" y="146.8" width="1.0" height="1.0" fill="#111" opacity="0.7"/>
<rect x="406.4" y="146.3" width="1.0" height="1.0" fill="#111" opacity="0.7"/>
<rect x="405.2" y="146.5" width="1.0" height="1.0" fill="#111" opacity="0.7"/>
<rect x="405.0" y="145.1" width="1.0" height="1.0" fill="#111" opacity="0.7"/>
<rect x="408.1" y="147.9" width="1.0" height="1.0" fill="#111" opacity="0.7"/>
<rect x="406.4" y="150.6" width="1.0" height="1.0" fill="#111" opacity="0.7"/>
<rect x="406.2" y="149.1" width="1.0" height="1.0" fill="#111" opacity="0.7"/>
<rect x="407.8" y="150.4" width="1.0" height="1.0" fill="#111" opacity="0.7"/>
<rect x="408.4" y="145.7" width="1.0" height="1.0" fill="#111" opacity="0.7"/>
<rect x="408.9" y="149.1" width="1.0" height="1.0" fill="#111" opacity="0.7"/>
<rect x="401.5" y="142.0" width="1.0" height="1.0" fill="#111" opacity="0.7"/>
<rect x="402.2" y="143.8" width="1.0" height="1.0" fill="#111" opacity="0.7"/>
<rect x="402.0" y="141.6" width="1.0" height="1.0" fill="#111" opacity="0.7"/>
<rect x="405.6" y="146.8" width="1.0" height="1.0" fill="#111" opacity="0.7"/>
<rect x="403.4" y="144.3" width="1.0" height="1.0" fill="#111" opacity="0.7"/>
<rect x="404.8" y="146.0" width="1.0" height="1.0" fill="#111" opacity="0.7"/>
<rect x="405.0" y="145.5" width="1.0" height="1.0" fill="#111" opacity="0.7"/>
<rect x="406.8" y="144.0" width="1.0" height="1.0" fill="#111" opacity="0.7"/>
<rect x="404.0" y="145.5" width="1.0" height="1.0" fill="#111" opacity="0.7"/>
<rect x="404.2" y="144.2" width="1.0" height="1.0" fill="#111" opacity="0.7"/>
<rect x="404.1" y="145.8" width="1.0" height="1.0" fill="#111" opacity="0.7"/>
<rect x="407.5" y="147.6" width="1.0" height="1.0" fill="#111" opacity="0.7"/>
<rect x="404.5" y="146.3" width="1.0" height="1.0" fill="#111" opacity="0.7"/>
<rect x="404.5" y="141.6" width="1.0" height="1.0" fill="#111" opacity="0.7"/>
<rect x="405.5" y="145.6" width="1.0" height="1.0" fill="#111" opacity="0.7"/>
<rect x="403.9" y="146.4" width="1.0" height="1.0" fill="#111" opacity="0.7"/>
<rect x="405.1" y="144.9" width="1.0" height="1.0" fill="#111" opacity="0.7"/>
<rect x="400.6" y="139.0" width="1.0" height="1.0" fill="#111" opacity="0.7"/>
<rect x="405.0" y="145.8" width="1.0" height="1.0" fill="#111" opacity="0.7"/>
<rect x="405.9" y="147.1" width="1.0" height="1.0" fill="#111" opacity="0.7"/>
<rect x="404.0" y="142.6" width="1.0" height="1.0" fill="#111" opacity="0.7"/>
<rect x="402.8" y="144.0" width="1.0" height="1.0" fill="#111" opacity="0.7"/>
<rect x="402.7" y="145.8" width="1.0" height="1.0" fill="#111" opacity="0.7"/>
<rect x="402.3" y="140.2" width="1.0" height="1.0" fill="#111" opacity="0.7"/>
<rect x="404.6" y="142.0" width="1.0" height="1.0" fill="#111" opacity="0.7"/>
<rect x="408.3" y="146.5" width="1.0" height="1.0" fill="#111" opacity="0.7"/>
<rect x="407.8" y="140.1" width="1.0" height="1.0" fill="#555" opacity="0.7"/>
<rect x="405.1" y="132.7" width="1.0" height="1.0" fill="#555" opacity="0.7"/>
<rect x="401.5" y="137.9" width="1.0" height="1.0" fill="#555" opacity="0.7"/>
<rect x="411.6" y="151.2" width="1.0" height="1.0" fill="#555" opacity="0.7"/>
<rect x="402.9" y="138.2" width="1.0" height="1.0" fill="#555" opacity="0.7"/>
<rect x="408.0" y="143.7" width="1.0" height="1.0" fill="#555" opacity="0.7"/>
<rect x="406.2" y="141.7" width="1.0" height="1.0" fill="#555" opacity="0.7"/>
<rect x="411.1" y="145.8" width="1.0" height="1.0" fill="#555" opacity="0.7"/>
<rect x="413.1" y="145.0" width="1.0" height="1.0" fill="#555" opacity="0.7"/>
<rect x="413.4" y="143.6" width="1.0" height="1.0" fill="#555" opacity="0.7"/>
<rect x="413.8" y="137.4" width="1.0" height="1.0" fill="#555" opacity="0.7"/>
<rect x="408.0" y="138.5" width="1.0" height="1.0" fill="#555" opacity="0.7"/>
<rect x="408.0" y="144.3" width="1.0" height="1.0" fill="#555" opacity="0.7"/>
<rect x="410.5" y="143.6" width="1.0" height="1.0" fill="#555" opacity="0.7"/>
<rect x="414.0" y="141.6" width="1.0" height="1.0" fill="#555" opacity="0.7"/>
<rect x="405.2" y="143.3" width="1.0" height="1.0" fill="#555" opacity="0.7"/>
<rect x="409.1" y="135.4" width="1.0" height="1.0" fill="#555" opacity="0.7"/>
<rect x="409.2" y="138.3" width="1.0" height="1.0" fill="#555" opacity="0.7"/>
<rect x="413.2" y="149.3" width="1.0" height="1.0" fill="#555" opacity="0.7"/>
<rect x="406.1" y="143.4" width="1.0" height="1.0" fill="#555" opacity="0.7"/>
<rect x="405.1" y="141.3" width="1.0" height="1.0" fill="#555" opacity="0.7"/>
<rect x="410.0" y="142.4" width="1.0" height="1.0" fill="#555" opacity="0.7"/>
<rect x="403.0" y="135.6" width="1.0" height="1.0" fill="#555" opacity="0.7"/>
<rect x="401.5" y="139.1" width="1.0" height="1.0" fill="#555" opacity="0.7"/>
<rect x="404.6" y="130.1" width="1.0" height="1.0" fill="#555" opacity="0.7"/>
<rect x="410.0" y="144.0" width="1.0" height="1.0" fill="#555" opacity="0.7"/>
<rect x="406.2" y="146.2" width="1.0" height="1.0" fill="#555" opacity="0.7"/>
<rect x="410.7" y="143.6" width="1.0" height="1.0" fill="#555" opacity="0.7"/>
<rect x="405.7" y="129.5" width="1.0" height="1.0" fill="#555" opacity="0.7"/>
<rect x="409.7" y="145.6" width="1.0" height="1.0" fill="#555" opacity="0.7"/>
<rect x="405.9" y="134.6" width="1.0" height="1.0" fill="#555" opacity="0.7"/>
<rect x="407.9" y="135.5" width="1.0" height="1.0" fill="#555" opacity="0.7"/>
<rect x="408.0" y="143.5" width="1.0" height="1.0" fill="#555" opacity="0.7"/>
<rect x="413.3" y="146.6" width="1.0" height="1.0" fill="#555" opacity="0.7"/>
<rect x="408.7" y="144.0" width="1.0" height="1.0" fill="#555" opacity="0.7"/>
<rect x="412.9" y="144.4" width="1.0" height="1.0" fill="#555" opacity="0.7"/>
<rect x="403.7" y="134.6" width="1.0" height="1.0" fill="#555" opacity="0.7"/>
<rect x="403.6" y="134.2" width="1.0" height="1.0" fill="#555" opacity="0.7"/>
<rect x="407.6" y="141.7" width="1.0" height="1.0" fill="#555" opacity="0.7"/>
<rect x="408.5" y="141.7" width="1.0" height="1.0" fill="#555" opacity="0.7"/>
<rect x="406.8" y="141.2" width="1.0" height="1.0" fill="#555" opacity="0.7"/>
<rect x="411.1" y="146.2" width="1.0" height="1.0" fill="#555" opacity="0.7"/>
<rect x="413.2" y="144.8" width="1.0" height="1.0" fill="#555" opacity="0.7"/>
<rect x="407.1" y="145.7" width="1.0" height="1.0" fill="#555" opacity="0.7"/>
<rect x="408.7" y="143.0" width="1.0" height="1.0" fill="#555" opacity="0.7"/>
<rect x="406.8" y="143.1" width="1.0" height="1.0" fill="#555" opacity="0.7"/>
<rect x="406.6" y="136.5" width="1.0" height="1.0" fill="#555" opacity="0.7"/>
<rect x="407.8" y="139.4" width="1.0" height="1.0" fill="#555" opacity="0.7"/>
<rect x="410.9" y="142.4" width="1.0" height="1.0" fill="#555" opacity="0.7"/>
<rect x="408.4" y="140.7" width="1.0" height="1.0" fill="#555" opacity="0.7"/>
<rect x="409.2" y="140.0" width="1.0" height="1.0" fill="#555" opacity="0.7"/>
<rect x="411.9" y="139.9" width="1.0" height="1.0" fill="#555" opacity="0.7"/>
<rect x="406.7" y="137.5" width="1.0" height="1.0" fill="#555" opacity="0.7"/>
<rect x="410.3" y="143.2" width="1.0" height="1.0" fill="#555" opacity="0.7"/>
<rect x="409.7" y="141.5" width="1.0" height="1.0" fill="#555" opacity="0.7"/>
<rect x="405.5" y="135.1" width="1.0" height="1.0" fill="#555" opacity="0.7"/>
<rect x="406.8" y="138.2" width="1.0" height="1.0" fill="#555" opacity="0.7"/>
<rect x="409.0" y="143.0" width="1.0" height="1.0" fill="#555" opacity="0.7"/>
<rect x="411.4" y="143.7" width="1.0" height="1.0" fill="#555" opacity="0.7"/>
<rect x="416.3" y="133.8" width="1.0" height="1.0" fill="#aaa" opacity="0.7"/>
<rect x="420.3" y="139.4" width="1.0" height="1.0" fill="#aaa" opacity="0.7"/>
<rect x="429.7" y="138.7" width="1.0" height="1.0" fill="#aaa" opacity="0.7"/>
<rect x="428.8" y="145.5" width="1.0" height="1.0" fill="#aaa" opacity="0.7"/>
<rect x="414.8" y="142.8" width="1.0" height="1.0" fill="#aaa" opacity="0.7"/>
<rect x="425.7" y="143.4" width="1.0" height="1.0" fill="#aaa" opacity="0.7"/>
<rect x="420.0" y="141.8" width="1.0" height="1.0" fill="#aaa" opacity="0.7"/>
<rect x="417.6" y="137.7" width="1.0" height="1.0" fill="#aaa" opacity="0.7"/>
<rect x="309.5" y="184.1" width="1.0" height="1.0" fill="#222" opacity="0.7"/>
<rect x="309.2" y="183.3" width="1.0" height="1.0" fill="#222" opacity="0.7"/>
<rect x="309.6" y="181.6" width="1.0" height="1.0" fill="#222" opacity="0.7"/>
<rect x="309.8" y="183.0" width="1.0" height="1.0" fill="#222" opacity="0.7"/>
<rect x="308.6" y="182.9" width="1.0" height="1.0" fill="#222" opacity="0.7"/>
<rect x="308.6" y="181.4" width="1.0" height="1.0" fill="#222" opacity="0.7"/>
<rect x="309.8" y="182.1" width="1.0" height="1.0" fill="#222" opacity="0.7"/>
<rect x="308.2" y="180.7" width="1.0" height="1.0" fill="#222" opacity="0.7"/>
<rect x="309.5" y="182.5" width="1.0" height="1.0" fill="#222" opacity="0.7"/>
<rect x="308.9" y="182.5" width="1.0" height="1.0" fill="#222" opacity="0.7"/>
<rect x="307.5" y="182.7" width="1.0" height="1.0" fill="#222" opacity="0.7"/>
<rect x="310.0" y="182.6" width="1.0" height="1.0" fill="#222" opacity="0.7"/>
<rect x="308.7" y="182.4" width="1.0" height="1.0" fill="#222" opacity="0.7"/>
<rect x="309.7" y="183.4" width="1.0" height="1.0" fill="#222" opacity="0.7"/>
<rect x="309.9" y="182.6" width="1.0" height="1.0" fill="#222" opacity="0.7"/>
<rect x="308.6" y="183.2" width="1.0" height="1.0" fill="#222" opacity="0.7"/>
<rect x="311.0" y="181.8" width="1.0" height="1.0" fill="#222" opacity="0.7"/>
<rect x="310.3" y="182.6" width="1.0" height="1.0" fill="#222" opacity="0.7"/>
<rect x="309.4" y="181.0" width="1.0" height="1.0" fill="#222" opacity="0.7"/>
<rect x="311.8" y="180.4" width="1.0" height="1.0" fill="#222" opacity="0.7"/>
<rect x="309.9" y="181.9" width="1.0" height="1.0" fill="#222" opacity="0.7"/>
<rect x="311.0" y="181.9" width="1.0" height="1.0" fill="#222" opacity="0.7"/>
<rect x="309.6" y="182.9" width="1.0" height="1.0" fill="#222" opacity="0.7"/>
<rect x="310.1" y="181.8" width="1.0" height="1.0" fill="#222" opacity="0.7"/>
<rect x="310.4" y="182.7" width="1.0" height="1.0" fill="#222" opacity="0.7"/>
<rect x="322.0" y="181.4" width="1.0" height="1.0" fill="#888" opacity="0.7"/>
<rect x="317.8" y="181.5" width="1.0" height="1.0" fill="#888" opacity="0.7"/>
<rect x="314.7" y="182.3" width="1.0" height="1.0" fill="#888" opacity="0.7"/>
<rect x="319.6" y="183.7" width="1.0" height="1.0" fill="#888" opacity="0.7"/>
<rect x="316.7" y="182.5" width="1.0" height="1.0" fill="#888" opacity="0.7"/>
<rect x="322.6" y="181.9" width="1.0" height="1.0" fill="#888" opacity="0.7"/>
<rect x="318.3" y="182.2" width="1.0" height="1.0" fill="#888" opacity="0.7"/>
<rect x="315.2" y="180.8" width="1.0" height="1.0" fill="#888" opacity="0.7"/>
<rect x="322.5" y="182.2" width="1.0" height="1.0" fill="#888" opacity="0.7"/>
<rect x="317.7" y="180.5" width="1.0" height="1.0" fill="#888" opacity="0.7"/>
<rect x="318.5" y="183.4" width="1.0" height="1.0" fill="#888" opacity="0.7"/>
<rect x="313.4" y="180.9" width="1.0" height="1.0" fill="#888" opacity="0.7"/>
<rect x="322.4" y="183.7" width="1.0" height="1.0" fill="#888" opacity="0.7"/>
<rect x="324.2" y="181.3" width="1.0" height="1.0" fill="#888" opacity="0.7"/>
<rect x="320.4" y="181.1" width="1.0" height="1.0" fill="#888" opacity="0.7"/>
<rect x="362.7" y="186.8" width="1.0" height="1.0" fill="#000" opacity="0.7"/>
<rect x="362.3" y="192.5" width="1.0" height="1.0" fill="#000" opacity="0.7"/>
<rect x="362.4" y="187.2" width="1.0" height="1.0" fill="#000" opacity="0.7"/>
<rect x="362.1" y="188.9" width="1.0" height="1.0" fill="#000" opacity="0.7"/>
<rect x="361.3" y="188.7" width="1.0" height="1.0" fill="#000" opacity="0.7"/>
<rect x="362.8" y="193.3" width="1.0" height="1.0" fill="#000" opacity="0.7"/>
<rect x="359.3" y="184.0" width="1.0" height="1.0" fill="#000" opacity="0.7"/>
<rect x="360.4" y="191.0" width="1.0" height="1.0" fill="#000" opacity="0.7"/>
<rect x="365.2" y="188.7" width="1.0" height="1.0" fill="#000" opacity="0.7"/>
<rect x="362.2" y="191.8" width="1.0" height="1.0" fill="#000" opacity="0.7"/>
<rect x="358.8" y="187.4" width="1.0" height="1.0" fill="#000" opacity="0.7"/>
<rect x="358.0" y="188.5" width="1.0" height="1.0" fill="#000" opacity="0.7"/>
<rect x="361.3" y="186.4" width="1.0" height="1.0" fill="#000" opacity="0.7"/>
<rect x="362.4" y="186.0" width="1.0" height="1.0" fill="#000" opacity="0.7"/>
<rect x="363.4" y="188.0" width="1.0" height="1.0" fill="#000" opacity="0.7"/>
<rect x="362.5" y="196.6" width="1.0" height="1.0" fill="#000" opacity="0.7"/>
<rect x="361.4" y="191.1" width="1.0" height="1.0" fill="#000" opacity="0.7"/>
<rect x="360.9" y="192.2" width="1.0" height="1.0" fill="#000" opacity="0.7"/>
<rect x="363.2" y="188.5" width="1.0" height="1.0" fill="#000" opacity="0.7"/>
<rect x="363.3" y="193.4" width="1.0" height="1.0" fill="#000" opacity="0.7"/>
<rect x="363.8" y="188.0" width="1.0" height="1.0" fill="#000" opacity="0.7"/>
<rect x="361.9" y="191.7" width="1.0" height="1.0" fill="#000" opacity="0.7"/>
<rect x="360.1" y="186.0" width="1.0" height="1.0" fill="#000" opacity="0.7"/>
<rect x="362.6" y="189.9" width="1.0" height="1.0" fill="#000" opacity="0.7"/>
<rect x="364.4" y="193.9" width="1.0" height="1.0" fill="#000" opacity="0.7"/>
<rect x="362.4" y="189.5" width="1.0" height="1.0" fill="#000" opacity="0.7"/>
<rect x="360.3" y="187.4" width="1.0" height="1.0" fill="#000" opacity="0.7"/>
<rect x="362.3" y="187.2" width="1.0" height="1.0" fill="#000" opacity="0.7"/>
<rect x="362.1" y="190.0" width="1.0" height="1.0" fill="#000" opacity="0.7"/>
<rect x="360.8" y="186.1" width="1.0" height="1.0" fill="#000" opacity="0.7"/>
<rect x="359.7" y="191.9" width="1.0" height="1.0" fill="#000" opacity="0.7"/>
<rect x="360.6" y="182.3" width="1.0" height="1.0" fill="#000" opacity="0.7"/>
<rect x="363.0" y="187.3" width="1.0" height="1.0" fill="#000" opacity="0.7"/>
<rect x="363.2" y="186.8" width="1.0" height="1.0" fill="#000" opacity="0.7"/>
<rect x="364.7" y="190.4" width="1.0" height="1.0" fill="#000" opacity="0.7"/>
<rect x="362.2" y="188.4" width="1.0" height="1.0" fill="#000" opacity="0.7"/>
<rect x="361.7" y="190.7" width="1.0" height="1.0" fill="#000" opacity="0.7"/>
<rect x="364.6" y="186.6" width="1.0" height="1.0" fill="#000" opacity="0.7"/>
<rect x="360.6" y="190.0" width="1.0" height="1.0" fill="#000" opacity="0.7"/>
<rect x="363.4" y="183.0" width="1.0" height="1.0" fill="#000" opacity="0.7"/>
<rect x="361.1" y="184.7" width="1.0" height="1.0" fill="#000" opacity="0.7"/>
<rect x="362.7" y="189.7" width="1.0" height="1.0" fill="#000" opacity="0.7"/>
<rect x="361.1" y="184.2" width="1.0" height="1.0" fill="#000" opacity="0.7"/>
<rect x="362.9" y="181.1" width="1.0" height="1.0" fill="#000" opacity="0.7"/>
<rect x="362.8" y="187.5" width="1.0" height="1.0" fill="#000" opacity="0.7"/>
<rect x="364.5" y="191.3" width="1.0" height="1.0" fill="#000" opacity="0.7"/>
<rect x="361.3" y="187.1" width="1.0" height="1.0" fill="#000" opacity="0.7"/>
<rect x="361.6" y="185.6" width="1.0" height="1.0" fill="#000" opacity="0.7"/>
<rect x="362.1" y="191.2" width="1.0" height="1.0" fill="#000" opacity="0.7"/>
<rect x="360.1" y="187.2" width="1.0" height="1.0" fill="#000" opacity="0.7"/>
<rect x="363.9" y="190.5" width="1.0" height="1.0" fill="#000" opacity="0.7"/>
<rect x="361.0" y="185.3" width="1.0" height="1.0" fill="#000" opacity="0.7"/>
<rect x="360.9" y="182.6" width="1.0" height="1.0" fill="#000" opacity="0.7"/>
<rect x="363.5" y="188.2" width="1.0" height="1.0" fill="#000" opacity="0.7"/>
<rect x="361.1" y="183.2" width="1.0" height="1.0" fill="#000" opacity="0.7"/>
<rect x="361.5" y="186.3" width="1.0" height="1.0" fill="#000" opacity="0.7"/>
<rect x="364.2" y="186.5" width="1.0" height="1.0" fill="#000" opacity="0.7"/>
<rect x="362.1" y="191.6" width="1.0" height="1.0" fill="#000" opacity="0.7"/>
<rect x="362.9" y="187.4" width="1.0" height="1.0" fill="#000" opacity="0.7"/>
<rect x="359.2" y="192.7" width="1.0" height="1.0" fill="#000" opacity="0.7"/>
<rect x="362.8" y="186.5" width="1.0" height="1.0" fill="#000" opacity="0.7"/>
<rect x="361.9" y="184.8" width="1.0" height="1.0" fill="#000" opacity="0.7"/>
<rect x="360.9" y="183.0" width="1.0" height="1.0" fill="#000" opacity="0.7"/>
<rect x="362.6" y="189.7" width="1.0" height="1.0" fill="#000" opacity="0.7"/>
<rect x="362.2" y="190.6" width="1.0" height="1.0" fill="#000" opacity="0.7"/>
<rect x="362.7" y="188.4" width="1.0" height="1.0" fill="#000" opacity="0.7"/>
<rect x="360.9" y="190.0" width="1.0" height="1.0" fill="#000" opacity="0.7"/>
<rect x="363.5" y="190.1" width="1.0" height="1.0" fill="#000" opacity="0.7"/>
<rect x="363.6" y="186.4" width="1.0" height="1.0" fill="#000" opacity="0.7"/>
<rect x="360.7" y="192.2" width="1.0" height="1.0" fill="#000" opacity="0.7"/>
<rect x="361.3" y="188.8" width="1.0" height="1.0" fill="#000" opacity="0.7"/>
<rect x="361.8" y="188.1" width="1.0" height="1.0" fill="#000" opacity="0.7"/>
<rect x="361.7" y="186.2" width="1.0" height="1.0" fill="#000" opacity="0.7"/>
<rect x="359.7" y="194.4" width="1.0" height="1.0" fill="#000" opacity="0.7"/>
<rect x="362.3" y="181.6" width="1.0" height="1.0" fill="#000" opacity="0.7"/>
<rect x="360.8" y="184.2" width="1.0" height="1.0" fill="#000" opacity="0.7"/>
<rect x="361.1" y="179.5" width="1.0" height="1.0" fill="#000" opacity="0.7"/>
<rect x="362.7" y="193.5" width="1.0" height="1.0" fill="#000" opacity="0.7"/>
<rect x="361.7" y="190.5" width="1.0" height="1.0" fill="#000" opacity="0.7"/>
<rect x="362.8" y="183.8" width="1.0" height="1.0" fill="#000" opacity="0.7"/>
<rect x="363.6" y="182.4" width="1.0" height="1.0" fill="#000" opacity="0.7"/>
<rect x="361.3" y="186.8" width="1.0" height="1.0" fill="#000" opacity="0.7"/>
<rect x="363.6" y="188.4" width="1.0" height="1.0" fill="#000" opacity="0.7"/>
<rect x="361.8" y="185.3" width="1.0" height="1.0" fill="#000" opacity="0.7"/>
<rect x="362.1" y="188.1" width="1.0" height="1.0" fill="#000" opacity="0.7"/>
<rect x="362.9" y="192.6" width="1.0" height="1.0" fill="#000" opacity="0.7"/>
<rect x="362.9" y="188.1" width="1.0" height="1.0" fill="#000" opacity="0.7"/>
<rect x="361.8" y="193.3" width="1.0" height="1.0" fill="#000" opacity="0.7"/>
<rect x="362.3" y="187.9" width="1.0" height="1.0" fill="#000" opacity="0.7"/>
<rect x="364.3" y="193.2" width="1.0" height="1.0" fill="#000" opacity="0.7"/>
<rect x="362.7" y="187.6" width="1.0" height="1.0" fill="#000" opacity="0.7"/>
<rect x="361.2" y="191.6" width="1.0" height="1.0" fill="#000" opacity="0.7"/>
<rect x="361.4" y="191.2" width="1.0" height="1.0" fill="#000" opacity="0.7"/>
<rect x="361.0" y="188.3" width="1.0" height="1.0" fill="#000" opacity="0.7"/>
<rect x="362.5" y="188.5" width="1.0" height="1.0" fill="#000" opacity="0.7"/>
<rect x="362.3" y="189.3" width="1.0" height="1.0" fill="#000" opacity="0.7"/>
<rect x="360.6" y="184.3" width="1.0" height="1.0" fill="#000" opacity="0.7"/>
<rect x="361.8" y="194.0" width="1.0" height="1.0" fill="#000" opacity="0.7"/>
<rect x="361.8" y="184.9" width="1.0" height="1.0" fill="#000" opacity="0.7"/>
<rect x="361.2" y="188.1" width="1.0" height="1.0" fill="#000" opacity="0.7"/>
<rect x="363.5" y="186.1" width="1.0" height="1.0" fill="#000" opacity="0.7"/>
<rect x="362.7" y="188.6" width="1.0" height="1.0" fill="#000" opacity="0.7"/>
<rect x="361.5" y="184.9" width="1.0" height="1.0" fill="#000" opacity="0.7"/>
<rect x="361.8" y="185.6" width="1.0" height="1.0" fill="#000" opacity="0.7"/>
<rect x="362.7" y="182.1" width="1.0" height="1.0" fill="#000" opacity="0.7"/>
<rect x="363.4" y="190.5" width="1.0" height="1.0" fill="#000" opacity="0.7"/>
<rect x="362.7" y="193.0" width="1.0" height="1.0" fill="#000" opacity="0.7"/>
<rect x="362.8" y="182.3" width="1.0" height="1.0" fill="#000" opacity="0.7"/>
<rect x="362.1" y="189.5" width="1.0" height="1.0" fill="#000" opacity="0.7"/>
<rect x="361.1" y="184.2" width="1.0" height="1.0" fill="#000" opacity="0.7"/>
<rect x="362.5" y="189.7" width="1.0" height="1.0" fill="#000" opacity="0.7"/>
<rect x="361.5" y="187.2" width="1.0" height="1.0" fill="#000" opacity="0.7"/>
<rect x="361.4" y="186.1" width="1.0" height="1.0" fill="#000" opacity="0.7"/>
<rect x="361.9" y="191.6" width="1.0" height="1.0" fill="#000" opacity="0.7"/>
<rect x="360.0" y="186.9" width="1.0" height="1.0" fill="#000" opacity="0.7"/>
<rect x="364.0" y="189.1" width="1.0" height="1.0" fill="#000" opacity="0.7"/>
<rect x="362.2" y="190.8" width="1.0" height="1.0" fill="#000" opacity="0.7"/>
<rect x="360.7" y="184.0" width="1.0" height="1.0" fill="#000" opacity="0.7"/>
<rect x="359.9" y="183.2" width="1.0" height="1.0" fill="#000" opacity="0.7"/>
<rect x="362.3" y="190.8" width="1.0" height="1.0" fill="#000" opacity="0.7"/>
<rect x="361.5" y="185.7" width="1.0" height="1.0" fill="#000" opacity="0.7"/>
<rect x="362.5" y="190.0" width="1.0" height="1.0" fill="#000" opacity="0.7"/>
<rect x="362.3" y="181.7" width="1.0" height="1.0" fill="#000" opacity="0.7"/>
<rect x="361.3" y="179.6" width="1.0" height="1.0" fill="#000" opacity="0.7"/>
<rect x="362.3" y="185.2" width="1.0" height="1.0" fill="#000" opacity="0.7"/>
<rect x="361.2" y="193.0" width="1.0" height="1.0" fill="#000" opacity="0.7"/>
<rect x="363.7" y="189.6" width="1.0" height="1.0" fill="#000" opacity="0.7"/>
<rect x="362.3" y="188.6" width="1.0" height="1.0" fill="#000" opacity="0.7"/>
<rect x="361.3" y="187.8" width="1.0" height="1.0" fill="#000" opacity="0.7"/>
<rect x="364.4" y="185.1" width="1.0" height="1.0" fill="#000" opacity="0.7"/>
<rect x="361.2" y="188.5" width="1.0" height="1.0" fill="#000" opacity="0.7"/>
<rect x="363.1" y="190.8" width="1.0" height="1.0" fill="#000" opacity="0.7"/>
<rect x="360.8" y="187.6" width="1.0" height="1.0" fill="#000" opacity="0.7"/>
<rect x="361.7" y="183.9" width="1.0" height="1.0" fill="#000" opacity="0.7"/>
<rect x="362.1" y="186.4" width="1.0" height="1.0" fill="#000" opacity="0.7"/>
<rect x="363.2" y="189.4" width="1.0" height="1.0" fill="#000" opacity="0.7"/>
<rect x="361.0" y="188.3" width="1.0" height="1.0" fill="#000" opacity="0.7"/>
<rect x="361.5" y="185.9" width="1.0" height="1.0" fill="#000" opacity="0.7"/>
<rect x="361.4" y="191.5" width="1.0" height="1.0" fill="#000" opacity="0.7"/>
<rect x="361.5" y="182.3" width="1.0" height="1.0" fill="#000" opacity="0.7"/>
<rect x="361.0" y="190.7" width="1.0" height="1.0" fill="#000" opacity="0.7"/>
<rect x="364.7" y="184.5" width="1.0" height="1.0" fill="#000" opacity="0.7"/>
<rect x="361.6" y="186.9" width="1.0" height="1.0" fill="#000" opacity="0.7"/>
<rect x="360.2" y="189.3" width="1.0" height="1.0" fill="#000" opacity="0.7"/>
<rect x="361.9" y="188.9" width="1.0" height="1.0" fill="#000" opacity="0.7"/>
<rect x="364.8" y="187.1" width="1.0" height="1.0" fill="#000" opacity="0.7"/>
<rect x="363.0" y="190.8" width="1.0" height="1.0" fill="#000" opacity="0.7"/>
<rect x="361.2" y="186.0" width="1.0" height="1.0" fill="#000" opacity="0.7"/>
<rect x="364.0" y="190.4" width="1.0" height="1.0" fill="#000" opacity="0.7"/>
<rect x="362.2" y="184.4" width="1.0" height="1.0" fill="#000" opacity="0.7"/>
<rect x="363.1" y="189.7" width="1.0" height="1.0" fill="#000" opacity="0.7"/>
<rect x="364.8" y="192.9" width="1.0" height="1.0" fill="#000" opacity="0.7"/>
<rect x="363.0" y="188.9" width="1.0" height="1.0" fill="#000" opacity="0.7"/>
<rect x="362.1" y="186.2" width="1.0" height="1.0" fill="#000" opacity="0.7"/>
<rect x="362.4" y="188.8" width="1.0" height="1.0" fill="#000" opacity="0.7"/>
<rect x="362.8" y="191.6" width="1.0" height="1.0" fill="#000" opacity="0.7"/>
<rect x="362.4" y="186.2" width="1.0" height="1.0" fill="#000" opacity="0.7"/>
<rect x="363.0" y="193.1" width="1.0" height="1.0" fill="#000" opacity="0.7"/>
<rect x="360.9" y="189.4" width="1.0" height="1.0" fill="#000" opacity="0.7"/>
<rect x="362.7" y="189.8" width="1.0" height="1.0" fill="#000" opacity="0.7"/>
<rect x="362.6" y="187.7" width="1.0" height="1.0" fill="#000" opacity="0.7"/>
<rect x="361.9" y="193.6" width="1.0" height="1.0" fill="#000" opacity="0.7"/>
<rect x="364.2" y="183.4" width="1.0" height="1.0" fill="#000" opacity="0.7"/>
<rect x="358.8" y="189.4" width="1.0" height="1.0" fill="#000" opacity="0.7"/>
<rect x="361.1" y="186.3" width="1.0" height="1.0" fill="#000" opacity="0.7"/>
<rect x="360.0" y="189.2" width="1.0" height="1.0" fill="#000" opacity="0.7"/>
<rect x="361.9" y="186.2" width="1.0" height="1.0" fill="#000" opacity="0.7"/>
<rect x="363.1" y="196.0" width="1.0" height="1.0" fill="#000" opacity="0.7"/>
<rect x="363.9" y="191.9" width="1.0" height="1.0" fill="#000" opacity="0.7"/>
<rect x="361.5" y="190.2" width="1.0" height="1.0" fill="#000" opacity="0.7"/>
<rect x="362.0" y="191.8" width="1.0" height="1.0" fill="#000" opacity="0.7"/>
<rect x="362.7" y="187.9" width="1.0" height="1.0" fill="#000" opacity="0.7"/>
<rect x="362.7" y="185.6" width="1.0" height="1.0" fill="#000" opacity="0.7"/>
<rect x="363.0" y="193.0" width="1.0" height="1.0" fill="#000" opacity="0.7"/>
<rect x="361.5" y="189.8" width="1.0" height="1.0" fill="#000" opacity="0.7"/>
<rect x="359.9" y="191.1" width="1.0" height="1.0" fill="#000" opacity="0.7"/>
<rect x="363.1" y="184.6" width="1.0" height="1.0" fill="#000" opacity="0.7"/>
<rect x="364.2" y="188.4" width="1.0" height="1.0" fill="#000" opacity="0.7"/>
<rect x="359.8" y="183.5" width="1.0" height="1.0" fill="#000" opacity="0.7"/>
<rect x="363.1" y="187.1" width="1.0" height="1.0" fill="#000" opacity="0.7"/>
<rect x="363.4" y="182.9" width="1.0" height="1.0" fill="#000" opacity="0.7"/>
<rect x="361.9" y="191.2" width="1.0" height="1.0" fill="#000" opacity="0.7"/>
<rect x="361.1" y="190.2" width="1.0" height="1.0" fill="#000" opacity="0.7"/>
<rect x="361.5" y="189.1" width="1.0" height="1.0" fill="#000" opacity="0.7"/>
<rect x="362.4" y="195.4" width="1.0" height="1.0" fill="#000" opacity="0.7"/>
<rect x="360.4" y="190.6" width="1.0" height="1.0" fill="#000" opacity="0.7"/>
<rect x="363.7" y="184.3" width="1.0" height="1.0" fill="#000" opacity="0.7"/>
<rect x="362.1" y="195.6" width="1.0" height="1.0" fill="#000" opacity="0.7"/>
<rect x="363.3" y="178.2" width="1.0" height="1.0" fill="#000" opacity="0.7"/>
<rect x="361.7" y="182.4" width="1.0" height="1.0" fill="#000" opacity="0.7"/>
<rect x="362.4" y="185.6" width="1.0" height="1.0" fill="#000" opacity="0.7"/>
<rect x="361.3" y="185.2" width="1.0" height="1.0" fill="#000" opacity="0.7"/>
<rect x="362.4" y="186.5" width="1.0" height="1.0" fill="#000" opacity="0.7"/>
<rect x="360.9" y="187.3" width="1.0" height="1.0" fill="#000" opacity="0.7"/>
<rect x="362.5" y="185.2" width="1.0" height="1.0" fill="#000" opacity="0.7"/>
<rect x="363.4" y="182.5" width="1.0" height="1.0" fill="#000" opacity="0.7"/>
<rect x="362.5" y="186.7" width="1.0" height="1.0" fill="#000" opacity="0.7"/>
<rect x="364.0" y="185.9" width="1.0" height="1.0" fill="#000" opacity="0.7"/>
<rect x="361.2" y="183.6" width="1.0" height="1.0" fill="#000" opacity="0.7"/>
<rect x="364.5" y="190.0" width="1.0" height="1.0" fill="#000" opacity="0.7"/>
<rect x="360.6" y="186.9" width="1.0" height="1.0" fill="#000" opacity="0.7"/>
<rect x="360.8" y="193.0" width="1.0" height="1.0" fill="#000" opacity="0.7"/>
<rect x="362.5" y="181.3" width="1.0" height="1.0" fill="#000" opacity="0.7"/>
<rect x="362.3" y="191.0" width="1.0" height="1.0" fill="#000" opacity="0.7"/>
<rect x="362.0" y="189.6" width="1.0" height="1.0" fill="#000" opacity="0.7"/>
<rect x="361.9" y="188.7" width="1.0" height="1.0" fill="#000" opacity="0.7"/>
<rect x="362.3" y="185.7" width="1.0" height="1.0" fill="#000" opacity="0.7"/>
<rect x="362.4" y="188.5" width="1.0" height="1.0" fill="#000" opacity="0.7"/>
<rect x="362.0" y="185.7" width="1.0" height="1.0" fill="#000" opacity="0.7"/>
<rect x="360.7" y="188.8" width="1.0" height="1.0" fill="#000" opacity="0.7"/>
<rect x="363.0" y="180.0" width="1.0" height="1.0" fill="#000" opacity="0.7"/>
<rect x="361.3" y="192.5" width="1.0" height="1.0" fill="#000" opacity="0.7"/>
<rect x="363.2" y="185.6" width="1.0" height="1.0" fill="#000" opacity="0.7"/>
<rect x="363.7" y="184.7" width="1.0" height="1.0" fill="#000" opacity="0.7"/>
<rect x="361.0" y="194.4" width="1.0" height="1.0" fill="#000" opacity="0.7"/>
<rect x="361.4" y="187.3" width="1.0" height="1.0" fill="#000" opacity="0.7"/>
<rect x="359.9" y="184.7" width="1.0" height="1.0" fill="#000" opacity="0.7"/>
<rect x="360.5" y="187.5" width="1.0" height="1.0" fill="#000" opacity="0.7"/>
<rect x="359.7" y="191.5" width="1.0" height="1.0" fill="#000" opacity="0.7"/>
<rect x="361.6" y="186.0" width="1.0" height="1.0" fill="#000" opacity="0.7"/>
<rect x="367.5" y="190.4" width="1.0" height="1.0" fill="#555" opacity="0.7"/>
<rect x="376.0" y="188.2" width="1.0" height="1.0" fill="#555" opacity="0.7"/>
<rect x="376.3" y="192.1" width="1.0" height="1.0" fill="#555" opacity="0.7"/>
<rect x="375.2" y="189.6" width="1.0" height="1.0" fill="#555" opacity="0.7"/>
<rect x="364.2" y="190.3" width="1.0" height="1.0" fill="#555" opacity="0.7"/>
<rect x="368.4" y="189.4" width="1.0" height="1.0" fill="#555" opacity="0.7"/>
<rect x="362.7" y="188.5" width="1.0" height="1.0" fill="#555" opacity="0.7"/>
<rect x="370.9" y="187.2" width="1.0" height="1.0" fill="#555" opacity="0.7"/>
<rect x="371.1" y="192.3" width="1.0" height="1.0" fill="#555" opacity="0.7"/>
<rect x="370.9" y="187.7" width="1.0" height="1.0" fill="#555" opacity="0.7"/>
<rect x="379.3" y="184.8" width="1.0" height="1.0" fill="#555" opacity="0.7"/>
<rect x="366.4" y="189.8" width="1.0" height="1.0" fill="#555" opacity="0.7"/>
<rect x="367.7" y="184.5" width="1.0" height="1.0" fill="#555" opacity="0.7"/>
<rect x="371.0" y="190.6" width="1.0" height="1.0" fill="#555" opacity="0.7"/>
<rect x="366.9" y="191.9" width="1.0" height="1.0" fill="#555" opacity="0.7"/>
<rect x="371.9" y="191.3" width="1.0" height="1.0" fill="#555" opacity="0.7"/>
<rect x="364.1" y="189.0" width="1.0" height="1.0" fill="#555" opacity="0.7"/>
<rect x="376.2" y="192.9" width="1.0" height="1.0" fill="#555" opacity="0.7"/>
<rect x="375.1" y="189.0" width="1.0" height="1.0" fill="#555" opacity="0.7"/>
<rect x="370.7" y="187.8" width="1.0" height="1.0" fill="#555" opacity="0.7"/>
<rect x="374.3" y="187.6" width="1.0" height="1.0" fill="#555" opacity="0.7"/>
<rect x="370.5" y="185.0" width="1.0" height="1.0" fill="#555" opacity="0.7"/>
<rect x="364.1" y="192.5" width="1.0" height="1.0" fill="#555" opacity="0.7"/>
<rect x="370.2" y="189.4" width="1.0" height="1.0" fill="#555" opacity="0.7"/>
<rect x="361.4" y="188.9" width="1.0" height="1.0" fill="#555" opacity="0.7"/>
<rect x="378.1" y="186.1" width="1.0" height="1.0" fill="#555" opacity="0.7"/>
<rect x="360.7" y="188.7" width="1.0" height="1.0" fill="#555" opacity="0.7"/>
<rect x="367.9" y="188.6" width="1.0" height="1.0" fill="#555" opacity="0.7"/>
<rect x="365.1" y="186.4" width="1.0" height="1.0" fill="#555" opacity="0.7"/>
<rect x="365.2" y="190.3" width="1.0" height="1.0" fill="#555" opacity="0.7"/>
<rect x="369.8" y="190.6" width="1.0" height="1.0" fill="#555" opacity="0.7"/>
<rect x="365.8" y="190.2" width="1.0" height="1.0" fill="#555" opacity="0.7"/>
<rect x="368.3" y="189.2" width="1.0" height="1.0" fill="#555" opacity="0.7"/>
<rect x="373.6" y="189.1" width="1.0" height="1.0" fill="#555" opacity="0.7"/>
<rect x="368.6" y="185.7" width="1.0" height="1.0" fill="#555" opacity="0.7"/>
<rect x="370.2" y="190.5" width="1.0" height="1.0" fill="#555" opacity="0.7"/>
<rect x="367.5" y="188.9" width="1.0" height="1.0" fill="#555" opacity="0.7"/>
<rect x="363.1" y="186.4" width="1.0" height="1.0" fill="#555" opacity="0.7"/>
<rect x="371.6" y="191.5" width="1.0" height="1.0" fill="#555" opacity="0.7"/>
<rect x="368.8" y="185.7" width="1.0" height="1.0" fill="#555" opacity="0.7"/>
<rect x="404.8" y="202.2" width="1.0" height="1.0" fill="#000" opacity="0.7"/>
<rect x="405.0" y="209.5" width="1.0" height="1.0" fill="#000" opacity="0.7"/>
<rect x="406.1" y="206.1" width="1.0" height="1.0" fill="#000" opacity="0.7"/>
<rect x="407.5" y="206.8" width="1.0" height="1.0" fill="#000" opacity="0.7"/>
<rect x="406.2" y="206.9" width="1.0" height="1.0" fill="#000" opacity="0.7"/>
<rect x="406.4" y="203.7" width="1.0" height="1.0" fill="#000" opacity="0.7"/>
<rect x="406.9" y="208.9" width="1.0" height="1.0" fill="#000" opacity="0.7"/>
<rect x="401.0" y="197.0" width="1.0" height="1.0" fill="#000" opacity="0.7"/>
<rect x="403.7" y="207.7" width="1.0" height="1.0" fill="#000" opacity="0.7"/>
<rect x="405.5" y="207.4" width="1.0" height="1.0" fill="#000" opacity="0.7"/>
<rect x="406.6" y="208.7" width="1.0" height="1.0" fill="#000" opacity="0.7"/>
<rect x="404.2" y="203.8" width="1.0" height="1.0" fill="#000" opacity="0.7"/>
<rect x="406.2" y="207.8" width="1.0" height="1.0" fill="#000" opacity="0.7"/>
<rect x="406.6" y="207.6" width="1.0" height="1.0" fill="#000" opacity="0.7"/>
<rect x="404.5" y="207.5" width="1.0" height="1.0" fill="#000" opacity="0.7"/>
<rect x="406.4" y="208.9" width="1.0" height="1.0" fill="#000" opacity="0.7"/>
<rect x="400.5" y="204.2" width="1.0" height="1.0" fill="#000" opacity="0.7"/>
<rect x="400.7" y="202.7" width="1.0" height="1.0" fill="#000" opacity="0.7"/>
<rect x="404.2" y="205.2" width="1.0" height="1.0" fill="#000" opacity="0.7"/>
<rect x="404.6" y="204.6" width="1.0" height="1.0" fill="#000" opacity="0.7"/>
<rect x="405.9" y="207.0" width="1.0" height="1.0" fill="#000" opacity="0.7"/>
<rect x="403.9" y="199.6" width="1.0" height="1.0" fill="#000" opacity="0.7"/>
<rect x="404.0" y="205.9" width="1.0" height="1.0" fill="#000" opacity="0.7"/>
<rect x="403.8" y="205.6" width="1.0" height="1.0" fill="#000" opacity="0.7"/>
<rect x="404.8" y="203.5" width="1.0" height="1.0" fill="#000" opacity="0.7"/>
<rect x="407.8" y="211.2" width="1.0" height="1.0" fill="#000" opacity="0.7"/>
<rect x="405.3" y="205.7" width="1.0" height="1.0" fill="#000" opacity="0.7"/>
<rect x="407.4" y="204.8" width="1.0" height="1.0" fill="#000" opacity="0.7"/>
<rect x="403.8" y="207.0" width="1.0" height="1.0" fill="#000" opacity="0.7"/>
<rect x="407.3" y="206.4" width="1.0" height="1.0" fill="#000" opacity="0.7"/>
<rect x="404.0" y="205.5" width="1.0" height="1.0" fill="#000" opacity="0.7"/>
<rect x="402.7" y="202.8" width="1.0" height="1.0" fill="#000" opacity="0.7"/>
<rect x="405.0" y="200.6" width="1.0" height="1.0" fill="#000" opacity="0.7"/>
<rect x="406.7" y="208.5" width="1.0" height="1.0" fill="#000" opacity="0.7"/>
<rect x="407.6" y="204.7" width="1.0" height="1.0" fill="#000" opacity="0.7"/>
<rect x="403.0" y="202.3" width="1.0" height="1.0" fill="#000" opacity="0.7"/>
<rect x="402.9" y="208.2" width="1.0" height="1.0" fill="#000" opacity="0.7"/>
<rect x="403.6" y="203.8" width="1.0" height="1.0" fill="#000" opacity="0.7"/>
<rect x="405.9" y="207.3" width="1.0" height="1.0" fill="#000" opacity="0.7"/>
<rect x="408.4" y="206.0" width="1.0" height="1.0" fill="#000" opacity="0.7"/>
<rect x="407.2" y="207.7" width="1.0" height="1.0" fill="#000" opacity="0.7"/>
<rect x="403.2" y="204.5" width="1.0" height="1.0" fill="#000" opacity="0.7"/>
<rect x="402.7" y="207.2" width="1.0" height="1.0" fill="#000" opacity="0.7"/>
<rect x="404.1" y="206.9" width="1.0" height="1.0" fill="#000" opacity="0.7"/>
<rect x="408.1" y="206.7" width="1.0" height="1.0" fill="#000" opacity="0.7"/>
<rect x="403.7" y="204.9" width="1.0" height="1.0" fill="#000" opacity="0.7"/>
<rect x="403.4" y="206.2" width="1.0" height="1.0" fill="#000" opacity="0.7"/>
<rect x="405.8" y="204.7" width="1.0" height="1.0" fill="#000" opacity="0.7"/>
<rect x="404.1" y="206.4" width="1.0" height="1.0" fill="#000" opacity="0.7"/>
<rect x="402.6" y="207.2" width="1.0" height="1.0" fill="#000" opacity="0.7"/>
<rect x="403.9" y="204.4" width="1.0" height="1.0" fill="#000" opacity="0.7"/>
<rect x="403.7" y="207.9" width="1.0" height="1.0" fill="#000" opacity="0.7"/>
<rect x="407.1" y="210.0" width="1.0" height="1.0" fill="#000" opacity="0.7"/>
<rect x="406.8" y="207.2" width="1.0" height="1.0" fill="#000" opacity="0.7"/>
<rect x="408.9" y="210.0" width="1.0" height="1.0" fill="#000" opacity="0.7"/>
<rect x="406.4" y="207.9" width="1.0" height="1.0" fill="#000" opacity="0.7"/>
<rect x="407.0" y="207.7" width="1.0" height="1.0" fill="#000" opacity="0.7"/>
<rect x="405.2" y="202.4" width="1.0" height="1.0" fill="#000" opacity="0.7"/>
<rect x="409.6" y="206.5" width="1.0" height="1.0" fill="#000" opacity="0.7"/>
<rect x="401.2" y="201.2" width="1.0" height="1.0" fill="#000" opacity="0.7"/>
<rect x="409.4" y="211.5" width="1.0" height="1.0" fill="#000" opacity="0.7"/>
<rect x="404.3" y="205.6" width="1.0" height="1.0" fill="#000" opacity="0.7"/>
<rect x="405.5" y="201.8" width="1.0" height="1.0" fill="#000" opacity="0.7"/>
<rect x="404.8" y="206.1" width="1.0" height="1.0" fill="#000" opacity="0.7"/>
<rect x="407.8" y="205.3" width="1.0" height="1.0" fill="#000" opacity="0.7"/>
<rect x="401.0" y="199.2" width="1.0" height="1.0" fill="#000" opacity="0.7"/>
<rect x="406.2" y="206.7" width="1.0" height="1.0" fill="#000" opacity="0.7"/>
<rect x="405.8" y="206.5" width="1.0" height="1.0" fill="#000" opacity="0.7"/>
<rect x="404.8" y="202.6" width="1.0" height="1.0" fill="#000" opacity="0.7"/>
<rect x="406.4" y="207.5" width="1.0" height="1.0" fill="#000" opacity="0.7"/>
<rect x="406.7" y="209.5" width="1.0" height="1.0" fill="#000" opacity="0.7"/>
<rect x="403.0" y="199.2" width="1.0" height="1.0" fill="#000" opacity="0.7"/>
<rect x="401.9" y="207.7" width="1.0" height="1.0" fill="#000" opacity="0.7"/>
<rect x="403.7" y="205.4" width="1.0" height="1.0" fill="#000" opacity="0.7"/>
<rect x="405.5" y="207.5" width="1.0" height="1.0" fill="#000" opacity="0.7"/>
<rect x="411.9" y="209.9" width="1.0" height="1.0" fill="#000" opacity="0.7"/>
<rect x="405.2" y="204.5" width="1.0" height="1.0" fill="#000" opacity="0.7"/>
<rect x="406.0" y="207.5" width="1.0" height="1.0" fill="#000" opacity="0.7"/>
<rect x="403.6" y="207.2" width="1.0" height="1.0" fill="#000" opacity="0.7"/>
<rect x="407.8" y="208.7" width="1.0" height="1.0" fill="#000" opacity="0.7"/>
<rect x="405.3" y="205.3" width="1.0" height="1.0" fill="#000" opacity="0.7"/>
<rect x="402.2" y="204.8" width="1.0" height="1.0" fill="#000" opacity="0.7"/>
<rect x="403.6" y="203.4" width="1.0" height="1.0" fill="#000" opacity="0.7"/>
<rect x="407.5" y="205.6" width="1.0" height="1.0" fill="#000" opacity="0.7"/>
<rect x="404.5" y="207.0" width="1.0" height="1.0" fill="#000" opacity="0.7"/>
<rect x="409.2" y="207.5" width="1.0" height="1.0" fill="#000" opacity="0.7"/>
<rect x="407.7" y="206.4" width="1.0" height="1.0" fill="#000" opacity="0.7"/>
<rect x="406.3" y="207.6" width="1.0" height="1.0" fill="#000" opacity="0.7"/>
<rect x="403.2" y="206.4" width="1.0" height="1.0" fill="#000" opacity="0.7"/>
<rect x="409.1" y="208.9" width="1.0" height="1.0" fill="#000" opacity="0.7"/>
<rect x="406.0" y="204.0" width="1.0" height="1.0" fill="#000" opacity="0.7"/>
<rect x="409.1" y="208.9" width="1.0" height="1.0" fill="#000" opacity="0.7"/>
<rect x="402.9" y="205.6" width="1.0" height="1.0" fill="#000" opacity="0.7"/>
<rect x="402.6" y="202.3" width="1.0" height="1.0" fill="#000" opacity="0.7"/>
<rect x="401.2" y="205.5" width="1.0" height="1.0" fill="#000" opacity="0.7"/>
<rect x="409.9" y="208.1" width="1.0" height="1.0" fill="#000" opacity="0.7"/>
<rect x="404.2" y="203.8" width="1.0" height="1.0" fill="#000" opacity="0.7"/>
<rect x="404.4" y="206.3" width="1.0" height="1.0" fill="#000" opacity="0.7"/>
<rect x="408.4" y="206.2" width="1.0" height="1.0" fill="#000" opacity="0.7"/>
<rect x="406.4" y="202.9" width="1.0" height="1.0" fill="#000" opacity="0.7"/>
<rect x="408.5" y="208.2" width="1.0" height="1.0" fill="#000" opacity="0.7"/>
<rect x="404.1" y="208.1" width="1.0" height="1.0" fill="#000" opacity="0.7"/>
<rect x="405.3" y="208.7" width="1.0" height="1.0" fill="#000" opacity="0.7"/>
<rect x="407.6" y="211.1" width="1.0" height="1.0" fill="#000" opacity="0.7"/>
<rect x="403.9" y="204.9" width="1.0" height="1.0" fill="#000" opacity="0.7"/>
<rect x="406.2" y="206.2" width="1.0" height="1.0" fill="#000" opacity="0.7"/>
<rect x="408.5" y="206.9" width="1.0" height="1.0" fill="#000" opacity="0.7"/>
<rect x="407.5" y="210.4" width="1.0" height="1.0" fill="#000" opacity="0.7"/>
<rect x="401.6" y="200.9" width="1.0" height="1.0" fill="#000" opacity="0.7"/>
<rect x="403.7" y="203.5" width="1.0" height="1.0" fill="#000" opacity="0.7"/>
<rect x="406.3" y="206.2" width="1.0" height="1.0" fill="#000" opacity="0.7"/>
<rect x="405.7" y="205.2" width="1.0" height="1.0" fill="#000" opacity="0.7"/>
<rect x="405.3" y="206.9" width="1.0" height="1.0" fill="#000" opacity="0.7"/>
<rect x="407.0" y="205.5" width="1.0" height="1.0" fill="#000" opacity="0.7"/>
<rect x="405.3" y="204.2" width="1.0" height="1.0" fill="#000" opacity="0.7"/>
<rect x="405.1" y="202.7" width="1.0" height="1.0" fill="#000" opacity="0.7"/>
<rect x="407.4" y="208.9" width="1.0" height="1.0" fill="#000" opacity="0.7"/>
<rect x="405.3" y="204.4" width="1.0" height="1.0" fill="#000" opacity="0.7"/>
<rect x="404.6" y="203.9" width="1.0" height="1.0" fill="#000" opacity="0.7"/>
<rect x="402.4" y="207.0" width="1.0" height="1.0" fill="#000" opacity="0.7"/>
<rect x="412.1" y="208.6" width="1.0" height="1.0" fill="#000" opacity="0.7"/>
<rect x="403.2" y="205.4" width="1.0" height="1.0" fill="#000" opacity="0.7"/>
<rect x="406.7" y="203.7" width="1.0" height="1.0" fill="#000" opacity="0.7"/>
<rect x="401.7" y="204.1" width="1.0" height="1.0" fill="#000" opacity="0.7"/>
<rect x="401.5" y="205.9" width="1.0" height="1.0" fill="#000" opacity="0.7"/>
<rect x="404.5" y="205.4" width="1.0" height="1.0" fill="#000" opacity="0.7"/>
<rect x="405.5" y="204.8" width="1.0" height="1.0" fill="#000" opacity="0.7"/>
<rect x="405.2" y="205.2" width="1.0" height="1.0" fill="#000" opacity="0.7"/>
<rect x="408.0" y="207.8" width="1.0" height="1.0" fill="#000" opacity="0.7"/>
<rect x="405.4" y="204.8" width="1.0" height="1.0" fill="#000" opacity="0.7"/>
<rect x="404.2" y="203.5" width="1.0" height="1.0" fill="#000" opacity="0.7"/>
<rect x="405.5" y="209.8" width="1.0" height="1.0" fill="#000" opacity="0.7"/>
<rect x="407.7" y="208.2" width="1.0" height="1.0" fill="#000" opacity="0.7"/>
<rect x="408.8" y="210.7" width="1.0" height="1.0" fill="#000" opacity="0.7"/>
<rect x="405.9" y="206.0" width="1.0" height="1.0" fill="#000" opacity="0.7"/>
<rect x="403.3" y="204.8" width="1.0" height="1.0" fill="#000" opacity="0.7"/>
<rect x="404.9" y="202.2" width="1.0" height="1.0" fill="#000" opacity="0.7"/>
<rect x="402.9" y="208.0" width="1.0" height="1.0" fill="#000" opacity="0.7"/>
<rect x="405.9" y="207.4" width="1.0" height="1.0" fill="#000" opacity="0.7"/>
<rect x="405.9" y="205.3" width="1.0" height="1.0" fill="#000" opacity="0.7"/>
<rect x="406.4" y="209.0" width="1.0" height="1.0" fill="#000" opacity="0.7"/>
<rect x="404.9" y="206.6" width="1.0" height="1.0" fill="#000" opacity="0.7"/>
<rect x="407.6" y="206.6" width="1.0" height="1.0" fill="#000" opacity="0.7"/>
<rect x="405.8" y="204.7" width="1.0" height="1.0" fill="#000" opacity="0.7"/>
<rect x="406.7" y="206.2" width="1.0" height="1.0" fill="#000" opacity="0.7"/>
<rect x="407.8" y="206.2" width="1.0" height="1.0" fill="#000" opacity="0.7"/>
<rect x="408.9" y="208.0" width="1.0" height="1.0" fill="#000" opacity="0.7"/>
<rect x="403.8" y="202.8" width="1.0" height="1.0" fill="#000" opacity="0.7"/>
<rect x="406.8" y="205.3" width="1.0" height="1.0" fill="#000" opacity="0.7"/>
<rect x="409.1" y="211.5" width="1.0" height="1.0" fill="#000" opacity="0.7"/>
<rect x="409.8" y="198.1" width="1.0" height="1.0" fill="#555" opacity="0.7"/>
<rect x="407.9" y="198.6" width="1.0" height="1.0" fill="#555" opacity="0.7"/>
<rect x="401.7" y="196.7" width="1.0" height="1.0" fill="#555" opacity="0.7"/>
<rect x="415.7" y="206.2" width="1.0" height="1.0" fill="#555" opacity="0.7"/>
<rect x="410.8" y="207.7" width="1.0" height="1.0" fill="#555" opacity="0.7"/>
<rect x="404.6" y="196.9" width="1.0" height="1.0" fill="#555" opacity="0.7"/>
<rect x="408.9" y="203.4" width="1.0" height="1.0" fill="#555" opacity="0.7"/>
<rect x="404.0" y="198.1" width="1.0" height="1.0" fill="#555" opacity="0.7"/>
<rect x="407.6" y="203.7" width="1.0" height="1.0" fill="#555" opacity="0.7"/>
<rect x="402.4" y="194.2" width="1.0" height="1.0" fill="#555" opacity="0.7"/>
<rect x="406.2" y="198.4" width="1.0" height="1.0" fill="#555" opacity="0.7"/>
<rect x="410.5" y="201.3" width="1.0" height="1.0" fill="#555" opacity="0.7"/>
<rect x="417.6" y="207.4" width="1.0" height="1.0" fill="#555" opacity="0.7"/>
<rect x="410.9" y="206.9" width="1.0" height="1.0" fill="#555" opacity="0.7"/>
<rect x="411.4" y="203.4" width="1.0" height="1.0" fill="#555" opacity="0.7"/>
<rect x="405.1" y="197.6" width="1.0" height="1.0" fill="#555" opacity="0.7"/>
<rect x="410.3" y="203.5" width="1.0" height="1.0" fill="#555" opacity="0.7"/>
<rect x="410.0" y="204.7" width="1.0" height="1.0" fill="#555" opacity="0.7"/>
<rect x="404.9" y="195.2" width="1.0" height="1.0" fill="#555" opacity="0.7"/>
<rect x="413.0" y="204.0" width="1.0" height="1.0" fill="#555" opacity="0.7"/>
<rect x="402.5" y="202.0" width="1.0" height="1.0" fill="#555" opacity="0.7"/>
<rect x="405.1" y="195.4" width="1.0" height="1.0" fill="#555" opacity="0.7"/>
<rect x="411.4" y="200.4" width="1.0" height="1.0" fill="#555" opacity="0.7"/>
<rect x="405.0" y="201.6" width="1.0" height="1.0" fill="#555" opacity="0.7"/>
<rect x="405.1" y="206.5" width="1.0" height="1.0" fill="#555" opacity="0.7"/>
<rect x="408.3" y="209.9" width="1.0" height="1.0" fill="#555" opacity="0.7"/>
<rect x="408.5" y="201.6" width="1.0" height="1.0" fill="#555" opacity="0.7"/>
<rect x="405.8" y="198.3" width="1.0" height="1.0" fill="#555" opacity="0.7"/>
<rect x="406.2" y="199.3" width="1.0" height="1.0" fill="#555" opacity="0.7"/>
<rect x="410.7" y="199.3" width="1.0" height="1.0" fill="#555" opacity="0.7"/>
<rect x="404.8" y="191.4" width="1.0" height="1.0" fill="#555" opacity="0.7"/>
<rect x="413.3" y="205.5" width="1.0" height="1.0" fill="#555" opacity="0.7"/>
<rect x="408.0" y="200.8" width="1.0" height="1.0" fill="#555" opacity="0.7"/>
<rect x="411.5" y="205.2" width="1.0" height="1.0" fill="#555" opacity="0.7"/>
<rect x="411.0" y="203.1" width="1.0" height="1.0" fill="#555" opacity="0.7"/>
<rect x="407.6" y="200.4" width="1.0" height="1.0" fill="#555" opacity="0.7"/>
<rect x="401.5" y="198.6" width="1.0" height="1.0" fill="#555" opacity="0.7"/>
<rect x="402.5" y="192.8" width="1.0" height="1.0" fill="#555" opacity="0.7"/>
<rect x="410.3" y="203.3" width="1.0" height="1.0" fill="#555" opacity="0.7"/>
<rect x="410.8" y="209.0" width="1.0" height="1.0" fill="#555" opacity="0.7"/>
<rect x="414.5" y="211.3" width="1.0" height="1.0" fill="#555" opacity="0.7"/>
<rect x="407.2" y="206.9" width="1.0" height="1.0" fill="#555" opacity="0.7"/>
<rect x="404.9" y="198.0" width="1.0" height="1.0" fill="#555" opacity="0.7"/>
<rect x="411.5" y="203.5" width="1.0" height="1.0" fill="#555" opacity="0.7"/>
<rect x="407.6" y="199.5" width="1.0" height="1.0" fill="#555" opacity="0.7"/>
<rect x="412.8" y="197.4" width="1.0" height="1.0" fill="#555" opacity="0.7"/>
<rect x="412.5" y="208.4" width="1.0" height="1.0" fill="#555" opacity="0.7"/>
<rect x="407.7" y="202.6" width="1.0" height="1.0" fill="#555" opacity="0.7"/>
<rect x="404.6" y="201.5" width="1.0" height="1.0" fill="#555" opacity="0.7"/>
<rect x="418.7" y="207.7" width="1.0" height="1.0" fill="#555" opacity="0.7"/>
<rect x="412.9" y="205.2" width="1.0" height="1.0" fill="#555" opacity="0.7"/>
<rect x="406.8" y="198.4" width="1.0" height="1.0" fill="#555" opacity="0.7"/>
<rect x="407.3" y="196.4" width="1.0" height="1.0" fill="#555" opacity="0.7"/>
<rect x="403.2" y="202.1" width="1.0" height="1.0" fill="#555" opacity="0.7"/>
<rect x="407.9" y="202.7" width="1.0" height="1.0" fill="#555" opacity="0.7"/>
<rect x="409.1" y="203.5" width="1.0" height="1.0" fill="#555" opacity="0.7"/>
<rect x="402.7" y="193.1" width="1.0" height="1.0" fill="#555" opacity="0.7"/>
<rect x="410.2" y="206.2" width="1.0" height="1.0" fill="#555" opacity="0.7"/>
<rect x="404.0" y="195.5" width="1.0" height="1.0" fill="#555" opacity="0.7"/>
<rect x="404.3" y="199.7" width="1.0" height="1.0" fill="#555" opacity="0.7"/>
<rect x="318.1" y="238.1" width="1.0" height="1.0" fill="#777" opacity="0.7"/>
<rect x="312.1" y="239.0" width="1.0" height="1.0" fill="#777" opacity="0.7"/>
<rect x="316.2" y="235.8" width="1.0" height="1.0" fill="#777" opacity="0.7"/>
<rect x="318.0" y="236.0" width="1.0" height="1.0" fill="#777" opacity="0.7"/>
<rect x="321.7" y="239.9" width="1.0" height="1.0" fill="#777" opacity="0.7"/>
<rect x="311.9" y="239.8" width="1.0" height="1.0" fill="#777" opacity="0.7"/>
<rect x="316.4" y="235.9" width="1.0" height="1.0" fill="#777" opacity="0.7"/>
<rect x="310.5" y="233.0" width="1.0" height="1.0" fill="#777" opacity="0.7"/>
<rect x="309.2" y="239.0" width="1.0" height="1.0" fill="#777" opacity="0.7"/>
<rect x="323.2" y="236.1" width="1.0" height="1.0" fill="#777" opacity="0.7"/>
<rect x="317.0" y="239.0" width="1.0" height="1.0" fill="#777" opacity="0.7"/>
<rect x="320.7" y="239.3" width="1.0" height="1.0" fill="#777" opacity="0.7"/>
<rect x="323.4" y="240.3" width="1.0" height="1.0" fill="#777" opacity="0.7"/>
<rect x="311.4" y="239.2" width="1.0" height="1.0" fill="#777" opacity="0.7"/>
<rect x="301.9" y="237.5" width="1.0" height="1.0" fill="#777" opacity="0.7"/>
<rect x="316.1" y="239.7" width="1.0" height="1.0" fill="#777" opacity="0.7"/>
<rect x="314.2" y="240.5" width="1.0" height="1.0" fill="#777" opacity="0.7"/>
<rect x="323.9" y="235.5" width="1.0" height="1.0" fill="#777" opacity="0.7"/>
<rect x="312.7" y="238.8" width="1.0" height="1.0" fill="#777" opacity="0.7"/>
<rect x="318.9" y="238.4" width="1.0" height="1.0" fill="#777" opacity="0.7"/>
<rect x="321.0" y="234.5" width="1.0" height="1.0" fill="#777" opacity="0.7"/>
<rect x="320.7" y="241.5" width="1.0" height="1.0" fill="#777" opacity="0.7"/>
<rect x="322.7" y="239.3" width="1.0" height="1.0" fill="#777" opacity="0.7"/>
<rect x="314.6" y="239.2" width="1.0" height="1.0" fill="#777" opacity="0.7"/>
<rect x="315.6" y="233.2" width="1.0" height="1.0" fill="#777" opacity="0.7"/>
<rect x="312.4" y="237.9" width="1.0" height="1.0" fill="#777" opacity="0.7"/>
<rect x="312.9" y="235.2" width="1.0" height="1.0" fill="#777" opacity="0.7"/>
<rect x="314.6" y="236.9" width="1.0" height="1.0" fill="#777" opacity="0.7"/>
<rect x="316.4" y="237.9" width="1.0" height="1.0" fill="#777" opacity="0.7"/>
<rect x="317.0" y="241.0" width="1.0" height="1.0" fill="#777" opacity="0.7"/>
<rect x="316.8" y="239.2" width="1.0" height="1.0" fill="#777" opacity="0.7"/>
<rect x="308.7" y="229.2" width="1.0" height="1.0" fill="#777" opacity="0.7"/>
<rect x="313.6" y="240.0" width="1.0" height="1.0" fill="#777" opacity="0.7"/>
<rect x="314.0" y="236.1" width="1.0" height="1.0" fill="#777" opacity="0.7"/>
<rect x="308.6" y="240.7" width="1.0" height="1.0" fill="#777" opacity="0.7"/>
<rect x="312.8" y="238.7" width="1.0" height="1.0" fill="#777" opacity="0.7"/>
<rect x="322.8" y="239.6" width="1.0" height="1.0" fill="#777" opacity="0.7"/>
<rect x="329.5" y="237.6" width="1.0" height="1.0" fill="#777" opacity="0.7"/>
<rect x="321.7" y="240.1" width="1.0" height="1.0" fill="#777" opacity="0.7"/>
<rect x="312.1" y="238.1" width="1.0" height="1.0" fill="#777" opacity="0.7"/>
<rect x="312.6" y="234.9" width="1.0" height="1.0" fill="#777" opacity="0.7"/>
<rect x="317.8" y="235.7" width="1.0" height="1.0" fill="#777" opacity="0.7"/>
<rect x="326.1" y="235.8" width="1.0" height="1.0" fill="#777" opacity="0.7"/>
<rect x="312.7" y="238.3" width="1.0" height="1.0" fill="#777" opacity="0.7"/>
<rect x="312.9" y="238.2" width="1.0" height="1.0" fill="#777" opacity="0.7"/>
<rect x="360.2" y="243.2" width="1.0" height="1.0" fill="#111" opacity="0.7"/>
<rect x="354.8" y="243.6" width="1.0" height="1.0" fill="#111" opacity="0.7"/>
<rect x="366.6" y="249.5" width="1.0" height="1.0" fill="#111" opacity="0.7"/>
<rect x="362.5" y="246.4" width="1.0" height="1.0" fill="#111" opacity="0.7"/>
<rect x="361.6" y="249.0" width="1.0" height="1.0" fill="#111" opacity="0.7"/>
<rect x="357.8" y="245.3" width="1.0" height="1.0" fill="#111" opacity="0.7"/>
<rect x="359.3" y="252.3" width="1.0" height="1.0" fill="#111" opacity="0.7"/>
<rect x="358.8" y="252.0" width="1.0" height="1.0" fill="#111" opacity="0.7"/>
<rect x="360.6" y="257.3" width="1.0" height="1.0" fill="#111" opacity="0.7"/>
<rect x="361.8" y="248.1" width="1.0" height="1.0" fill="#111" opacity="0.7"/>
<rect x="366.1" y="251.0" width="1.0" height="1.0" fill="#111" opacity="0.7"/>
<rect x="364.8" y="244.4" width="1.0" height="1.0" fill="#111" opacity="0.7"/>
<rect x="365.4" y="253.7" width="1.0" height="1.0" fill="#111" opacity="0.7"/>
<rect x="361.7" y="246.4" width="1.0" height="1.0" fill="#111" opacity="0.7"/>
<rect x="358.7" y="251.5" width="1.0" height="1.0" fill="#111" opacity="0.7"/>
<rect x="362.9" y="248.0" width="1.0" height="1.0" fill="#111" opacity="0.7"/>
<rect x="358.3" y="253.5" width="1.0" height="1.0" fill="#111" opacity="0.7"/>
<rect x="364.6" y="247.9" width="1.0" height="1.0" fill="#111" opacity="0.7"/>
<rect x="366.4" y="244.8" width="1.0" height="1.0" fill="#111" opacity="0.7"/>
<rect x="364.6" y="244.6" width="1.0" height="1.0" fill="#111" opacity="0.7"/>
<rect x="366.2" y="247.1" width="1.0" height="1.0" fill="#111" opacity="0.7"/>
<rect x="365.7" y="246.6" width="1.0" height="1.0" fill="#111" opacity="0.7"/>
<rect x="363.2" y="251.9" width="1.0" height="1.0" fill="#111" opacity="0.7"/>
<rect x="359.3" y="248.3" width="1.0" height="1.0" fill="#111" opacity="0.7"/>
<rect x="359.5" y="250.9" width="1.0" height="1.0" fill="#111" opacity="0.7"/>
<rect x="360.2" y="246.7" width="1.0" height="1.0" fill="#111" opacity="0.7"/>
<rect x="361.4" y="252.0" width="1.0" height="1.0" fill="#111" opacity="0.7"/>
<rect x="358.9" y="247.9" width="1.0" height="1.0" fill="#111" opacity="0.7"/>
<rect x="361.0" y="246.1" width="1.0" height="1.0" fill="#111" opacity="0.7"/>
<rect x="359.6" y="247.5" width="1.0" height="1.0" fill="#111" opacity="0.7"/>
<rect x="362.6" y="242.7" width="1.0" height="1.0" fill="#111" opacity="0.7"/>
<rect x="362.7" y="244.0" width="1.0" height="1.0" fill="#111" opacity="0.7"/>
<rect x="362.0" y="255.8" width="1.0" height="1.0" fill="#111" opacity="0.7"/>
<rect x="359.1" y="247.8" width="1.0" height="1.0" fill="#111" opacity="0.7"/>
<rect x="361.2" y="251.3" width="1.0" height="1.0" fill="#111" opacity="0.7"/>
<rect x="360.6" y="241.9" width="1.0" height="1.0" fill="#111" opacity="0.7"/>
<rect x="357.2" y="248.6" width="1.0" height="1.0" fill="#111" opacity="0.7"/>
<rect x="362.8" y="251.6" width="1.0" height="1.0" fill="#111" opacity="0.7"/>
<rect x="360.4" y="250.3" width="1.0" height="1.0" fill="#111" opacity="0.7"/>
<rect x="358.8" y="252.4" width="1.0" height="1.0" fill="#111" opacity="0.7"/>
<rect x="361.8" y="245.7" width="1.0" height="1.0" fill="#111" opacity="0.7"/>
<rect x="362.5" y="253.9" width="1.0" height="1.0" fill="#111" opacity="0.7"/>
<rect x="359.5" y="243.8" width="1.0" height="1.0" fill="#111" opacity="0.7"/>
<rect x="359.0" y="244.1" width="1.0" height="1.0" fill="#111" opacity="0.7"/>
<rect x="361.8" y="249.2" width="1.0" height="1.0" fill="#111" opacity="0.7"/>
<rect x="361.5" y="248.7" width="1.0" height="1.0" fill="#111" opacity="0.7"/>
<rect x="365.6" y="247.0" width="1.0" height="1.0" fill="#111" opacity="0.7"/>
<rect x="358.2" y="240.2" width="1.0" height="1.0" fill="#111" opacity="0.7"/>
<rect x="362.7" y="245.7" width="1.0" height="1.0" fill="#111" opacity="0.7"/>
<rect x="361.3" y="249.4" width="1.0" height="1.0" fill="#111" opacity="0.7"/>
<rect x="363.4" y="242.7" width="1.0" height="1.0" fill="#111" opacity="0.7"/>
<rect x="359.1" y="248.3" width="1.0" height="1.0" fill="#111" opacity="0.7"/>
<rect x="361.6" y="251.9" width="1.0" height="1.0" fill="#111" opacity="0.7"/>
<rect x="360.5" y="241.0" width="1.0" height="1.0" fill="#111" opacity="0.7"/>
<rect x="365.5" y="242.4" width="1.0" height="1.0" fill="#111" opacity="0.7"/>
<rect x="359.1" y="249.3" width="1.0" height="1.0" fill="#111" opacity="0.7"/>
<rect x="358.8" y="256.5" width="1.0" height="1.0" fill="#111" opacity="0.7"/>
<rect x="362.7" y="249.8" width="1.0" height="1.0" fill="#111" opacity="0.7"/>
<rect x="360.7" y="255.5" width="1.0" height="1.0" fill="#111" opacity="0.7"/>
<rect x="363.6" y="245.6" width="1.0" height="1.0" fill="#111" opacity="0.7"/>
<rect x="365.8" y="242.3" width="1.0" height="1.0" fill="#111" opacity="0.7"/>
<rect x="360.2" y="249.0" width="1.0" height="1.0" fill="#111" opacity="0.7"/>
<rect x="362.4" y="244.7" width="1.0" height="1.0" fill="#111" opacity="0.7"/>
<rect x="366.7" y="253.0" width="1.0" height="1.0" fill="#111" opacity="0.7"/>
<rect x="359.2" y="249.3" width="1.0" height="1.0" fill="#111" opacity="0.7"/>
<rect x="360.1" y="246.5" width="1.0" height="1.0" fill="#111" opacity="0.7"/>
<rect x="365.0" y="248.4" width="1.0" height="1.0" fill="#111" opacity="0.7"/>
<rect x="361.7" y="248.3" width="1.0" height="1.0" fill="#111" opacity="0.7"/>
<rect x="358.5" y="252.2" width="1.0" height="1.0" fill="#111" opacity="0.7"/>
<rect x="359.7" y="252.4" width="1.0" height="1.0" fill="#111" opacity="0.7"/>
<rect x="360.6" y="246.5" width="1.0" height="1.0" fill="#111" opacity="0.7"/>
<rect x="366.5" y="248.7" width="1.0" height="1.0" fill="#111" opacity="0.7"/>
<rect x="360.1" y="246.2" width="1.0" height="1.0" fill="#111" opacity="0.7"/>
<rect x="363.8" y="254.4" width="1.0" height="1.0" fill="#111" opacity="0.7"/>
<rect x="363.8" y="246.7" width="1.0" height="1.0" fill="#111" opacity="0.7"/>
<rect x="358.6" y="245.7" width="1.0" height="1.0" fill="#111" opacity="0.7"/>
<rect x="361.6" y="248.8" width="1.0" height="1.0" fill="#111" opacity="0.7"/>
<rect x="360.0" y="252.4" width="1.0" height="1.0" fill="#111" opacity="0.7"/>
<rect x="359.1" y="245.6" width="1.0" height="1.0" fill="#111" opacity="0.7"/>
<rect x="363.5" y="249.6" width="1.0" height="1.0" fill="#111" opacity="0.7"/>
<rect x="360.8" y="251.3" width="1.0" height="1.0" fill="#111" opacity="0.7"/>
<rect x="357.8" y="253.6" width="1.0" height="1.0" fill="#111" opacity="0.7"/>
<rect x="368.6" y="254.6" width="1.0" height="1.0" fill="#111" opacity="0.7"/>
<rect x="362.4" y="254.7" width="1.0" height="1.0" fill="#111" opacity="0.7"/>
<rect x="362.2" y="252.5" width="1.0" height="1.0" fill="#111" opacity="0.7"/>
<rect x="361.4" y="248.7" width="1.0" height="1.0" fill="#111" opacity="0.7"/>
<rect x="363.6" y="242.1" width="1.0" height="1.0" fill="#111" opacity="0.7"/>
<rect x="361.4" y="253.8" width="1.0" height="1.0" fill="#111" opacity="0.7"/>
<rect x="353.2" y="249.3" width="1.0" height="1.0" fill="#111" opacity="0.7"/>
<rect x="364.8" y="249.1" width="1.0" height="1.0" fill="#111" opacity="0.7"/>
<rect x="362.6" y="252.7" width="1.0" height="1.0" fill="#111" opacity="0.7"/>
<rect x="363.0" y="241.6" width="1.0" height="1.0" fill="#111" opacity="0.7"/>
<rect x="359.2" y="247.0" width="1.0" height="1.0" fill="#111" opacity="0.7"/>
<rect x="362.4" y="246.5" width="1.0" height="1.0" fill="#111" opacity="0.7"/>
<rect x="361.7" y="253.7" width="1.0" height="1.0" fill="#111" opacity="0.7"/>
<rect x="353.2" y="251.9" width="1.0" height="1.0" fill="#111" opacity="0.7"/>
<rect x="364.8" y="250.0" width="1.0" height="1.0" fill="#111" opacity="0.7"/>
<rect x="362.0" y="248.2" width="1.0" height="1.0" fill="#111" opacity="0.7"/>
<rect x="363.1" y="248.8" width="1.0" height="1.0" fill="#111" opacity="0.7"/>
<rect x="359.8" y="250.7" width="1.0" height="1.0" fill="#111" opacity="0.7"/>
<rect x="359.5" y="247.9" width="1.0" height="1.0" fill="#111" opacity="0.7"/>
<rect x="360.9" y="244.1" width="1.0" height="1.0" fill="#111" opacity="0.7"/>
<rect x="363.8" y="247.8" width="1.0" height="1.0" fill="#111" opacity="0.7"/>
<rect x="358.5" y="247.7" width="1.0" height="1.0" fill="#111" opacity="0.7"/>
<rect x="357.9" y="252.9" width="1.0" height="1.0" fill="#111" opacity="0.7"/>
<rect x="363.5" y="254.7" width="1.0" height="1.0" fill="#111" opacity="0.7"/>
<rect x="360.3" y="250.4" width="1.0" height="1.0" fill="#111" opacity="0.7"/>
<rect x="359.1" y="245.1" width="1.0" height="1.0" fill="#111" opacity="0.7"/>
<rect x="361.7" y="249.4" width="1.0" height="1.0" fill="#111" opacity="0.7"/>
<rect x="364.8" y="247.1" width="1.0" height="1.0" fill="#111" opacity="0.7"/>
<rect x="365.3" y="251.3" width="1.0" height="1.0" fill="#111" opacity="0.7"/>
<rect x="359.4" y="247.4" width="1.0" height="1.0" fill="#111" opacity="0.7"/>
<rect x="359.3" y="253.8" width="1.0" height="1.0" fill="#111" opacity="0.7"/>
<rect x="360.4" y="251.0" width="1.0" height="1.0" fill="#111" opacity="0.7"/>
<rect x="364.7" y="247.1" width="1.0" height="1.0" fill="#111" opacity="0.7"/>
<rect x="360.5" y="249.2" width="1.0" height="1.0" fill="#111" opacity="0.7"/>
<rect x="359.7" y="243.7" width="1.0" height="1.0" fill="#111" opacity="0.7"/>
<rect x="359.1" y="249.1" width="1.0" height="1.0" fill="#111" opacity="0.7"/>
<rect x="362.6" y="254.0" width="1.0" height="1.0" fill="#111" opacity="0.7"/>
<rect x="356.5" y="249.7" width="1.0" height="1.0" fill="#111" opacity="0.7"/>
<rect x="358.6" y="251.9" width="1.0" height="1.0" fill="#111" opacity="0.7"/>
<rect x="364.1" y="248.4" width="1.0" height="1.0" fill="#111" opacity="0.7"/>
<rect x="366.4" y="246.7" width="1.0" height="1.0" fill="#111" opacity="0.7"/>
<rect x="360.4" y="244.4" width="1.0" height="1.0" fill="#111" opacity="0.7"/>
<rect x="360.0" y="248.4" width="1.0" height="1.0" fill="#111" opacity="0.7"/>
<rect x="364.0" y="252.3" width="1.0" height="1.0" fill="#111" opacity="0.7"/>
<rect x="361.2" y="245.5" width="1.0" height="1.0" fill="#111" opacity="0.7"/>
<rect x="361.0" y="246.5" width="1.0" height="1.0" fill="#111" opacity="0.7"/>
<rect x="360.6" y="246.6" width="1.0" height="1.0" fill="#111" opacity="0.7"/>
<rect x="359.4" y="247.8" width="1.0" height="1.0" fill="#111" opacity="0.7"/>
<rect x="360.5" y="247.4" width="1.0" height="1.0" fill="#111" opacity="0.7"/>
<rect x="357.9" y="248.5" width="1.0" height="1.0" fill="#111" opacity="0.7"/>
<rect x="363.7" y="250.2" width="1.0" height="1.0" fill="#111" opacity="0.7"/>
<rect x="360.4" y="244.1" width="1.0" height="1.0" fill="#111" opacity="0.7"/>
<rect x="358.1" y="244.0" width="1.0" height="1.0" fill="#111" opacity="0.7"/>
<rect x="360.1" y="247.0" width="1.0" height="1.0" fill="#111" opacity="0.7"/>
<rect x="356.7" y="250.3" width="1.0" height="1.0" fill="#111" opacity="0.7"/>
<rect x="357.4" y="245.7" width="1.0" height="1.0" fill="#111" opacity="0.7"/>
<rect x="359.9" y="250.8" width="1.0" height="1.0" fill="#111" opacity="0.7"/>
<rect x="367.5" y="246.8" width="1.0" height="1.0" fill="#111" opacity="0.7"/>
<rect x="361.2" y="246.7" width="1.0" height="1.0" fill="#111" opacity="0.7"/>
<rect x="361.4" y="247.4" width="1.0" height="1.0" fill="#111" opacity="0.7"/>
<rect x="369.3" y="244.3" width="1.0" height="1.0" fill="#111" opacity="0.7"/>
<rect x="361.7" y="245.3" width="1.0" height="1.0" fill="#111" opacity="0.7"/>
<rect x="363.1" y="246.2" width="1.0" height="1.0" fill="#111" opacity="0.7"/>
<rect x="363.7" y="244.4" width="1.0" height="1.0" fill="#111" opacity="0.7"/>
<rect x="368.3" y="248.7" width="1.0" height="1.0" fill="#111" opacity="0.7"/>
<rect x="356.7" y="250.4" width="1.0" height="1.0" fill="#111" opacity="0.7"/>
<rect x="360.6" y="244.1" width="1.0" height="1.0" fill="#111" opacity="0.7"/>
<rect x="363.3" y="246.3" width="1.0" height="1.0" fill="#111" opacity="0.7"/>
<rect x="378.3" y="248.1" width="1.0" height="1.0" fill="#000" opacity="0.7"/>
<rect x="378.9" y="250.5" width="1.0" height="1.0" fill="#000" opacity="0.7"/>
<rect x="377.1" y="250.5" width="1.0" height="1.0" fill="#000" opacity="0.7"/>
<rect x="374.8" y="248.8" width="1.0" height="1.0" fill="#000" opacity="0.7"/>
<rect x="377.4" y="252.5" width="1.0" height="1.0" fill="#000" opacity="0.7"/>
<rect x="374.7" y="257.7" width="1.0" height="1.0" fill="#000" opacity="0.7"/>
<rect x="381.4" y="246.0" width="1.0" height="1.0" fill="#000" opacity="0.7"/>
<rect x="379.4" y="249.8" width="1.0" height="1.0" fill="#000" opacity="0.7"/>
<rect x="376.7" y="247.3" width="1.0" height="1.0" fill="#000" opacity="0.7"/>
<rect x="381.2" y="247.2" width="1.0" height="1.0" fill="#000" opacity="0.7"/>
<rect x="375.7" y="247.5" width="1.0" height="1.0" fill="#000" opacity="0.7"/>
<rect x="382.1" y="254.3" width="1.0" height="1.0" fill="#000" opacity="0.7"/>
<rect x="371.8" y="248.4" width="1.0" height="1.0" fill="#000" opacity="0.7"/>
<rect x="377.2" y="248.5" width="1.0" height="1.0" fill="#000" opacity="0.7"/>
<rect x="374.9" y="246.3" width="1.0" height="1.0" fill="#000" opacity="0.7"/>
<rect x="376.8" y="246.2" width="1.0" height="1.0" fill="#000" opacity="0.7"/>
<rect x="378.6" y="258.3" width="1.0" height="1.0" fill="#000" opacity="0.7"/>
<rect x="375.0" y="255.7" width="1.0" height="1.0" fill="#000" opacity="0.7"/>
<rect x="377.2" y="247.7" width="1.0" height="1.0" fill="#000" opacity="0.7"/>
<rect x="374.9" y="246.7" width="1.0" height="1.0" fill="#000" opacity="0.7"/>
<rect x="376.4" y="252.4" width="1.0" height="1.0" fill="#000" opacity="0.7"/>
<rect x="378.9" y="249.0" width="1.0" height="1.0" fill="#000" opacity="0.7"/>
<rect x="372.2" y="249.7" width="1.0" height="1.0" fill="#000" opacity="0.7"/>
<rect x="381.3" y="251.0" width="1.0" height="1.0" fill="#000" opacity="0.7"/>
<rect x="375.8" y="242.9" width="1.0" height="1.0" fill="#000" opacity="0.7"/>
<rect x="374.6" y="251.9" width="1.0" height="1.0" fill="#000" opacity="0.7"/>
<rect x="373.0" y="254.6" width="1.0" height="1.0" fill="#000" opacity="0.7"/>
<rect x="374.2" y="247.0" width="1.0" height="1.0" fill="#000" opacity="0.7"/>
<rect x="374.2" y="249.7" width="1.0" height="1.0" fill="#000" opacity="0.7"/>
<rect x="379.2" y="248.1" width="1.0" height="1.0" fill="#000" opacity="0.7"/>
<rect x="370.4" y="249.7" width="1.0" height="1.0" fill="#000" opacity="0.7"/>
<rect x="377.6" y="255.3" width="1.0" height="1.0" fill="#000" opacity="0.7"/>
<rect x="372.5" y="255.1" width="1.0" height="1.0" fill="#000" opacity="0.7"/>
<rect x="378.1" y="251.6" width="1.0" height="1.0" fill="#000" opacity="0.7"/>
<rect x="373.6" y="247.0" width="1.0" height="1.0" fill="#000" opacity="0.7"/>
<rect x="373.0" y="253.2" width="1.0" height="1.0" fill="#000" opacity="0.7"/>
<rect x="376.7" y="253.7" width="1.0" height="1.0" fill="#000" opacity="0.7"/>
<rect x="381.7" y="250.1" width="1.0" height="1.0" fill="#000" opacity="0.7"/>
<rect x="375.9" y="256.6" width="1.0" height="1.0" fill="#000" opacity="0.7"/>
<rect x="371.9" y="248.5" width="1.0" height="1.0" fill="#000" opacity="0.7"/>
<rect x="374.8" y="248.7" width="1.0" height="1.0" fill="#000" opacity="0.7"/>
<rect x="376.5" y="247.1" width="1.0" height="1.0" fill="#000" opacity="0.7"/>
<rect x="379.7" y="245.3" width="1.0" height="1.0" fill="#000" opacity="0.7"/>
<rect x="373.4" y="244.2" width="1.0" height="1.0" fill="#000" opacity="0.7"/>
<rect x="371.6" y="252.0" width="1.0" height="1.0" fill="#000" opacity="0.7"/>
<rect x="378.0" y="249.3" width="1.0" height="1.0" fill="#000" opacity="0.7"/>
<rect x="378.7" y="252.1" width="1.0" height="1.0" fill="#000" opacity="0.7"/>
<rect x="374.2" y="249.9" width="1.0" height="1.0" fill="#000" opacity="0.7"/>
<rect x="377.2" y="256.9" width="1.0" height="1.0" fill="#000" opacity="0.7"/>
<rect x="374.6" y="251.3" width="1.0" height="1.0" fill="#000" opacity="0.7"/>
<rect x="377.7" y="254.2" width="1.0" height="1.0" fill="#000" opacity="0.7"/>
<rect x="377.3" y="253.7" width="1.0" height="1.0" fill="#000" opacity="0.7"/>
<rect x="372.7" y="249.1" width="1.0" height="1.0" fill="#000" opacity="0.7"/>
<rect x="369.9" y="249.8" width="1.0" height="1.0" fill="#000" opacity="0.7"/>
<rect x="383.3" y="250.8" width="1.0" height="1.0" fill="#000" opacity="0.7"/>
<rect x="376.3" y="250.9" width="1.0" height="1.0" fill="#000" opacity="0.7"/>
<rect x="376.5" y="245.5" width="1.0" height="1.0" fill="#000" opacity="0.7"/>
<rect x="373.8" y="249.4" width="1.0" height="1.0" fill="#000" opacity="0.7"/>
<rect x="376.5" y="247.1" width="1.0" height="1.0" fill="#000" opacity="0.7"/>
<rect x="375.7" y="247.5" width="1.0" height="1.0" fill="#000" opacity="0.7"/>
<rect x="371.9" y="247.8" width="1.0" height="1.0" fill="#000" opacity="0.7"/>
<rect x="373.5" y="252.9" width="1.0" height="1.0" fill="#000" opacity="0.7"/>
<rect x="380.2" y="252.0" width="1.0" height="1.0" fill="#000" opacity="0.7"/>
<rect x="375.3" y="248.1" width="1.0" height="1.0" fill="#000" opacity="0.7"/>
<rect x="371.1" y="248.2" width="1.0" height="1.0" fill="#000" opacity="0.7"/>
<rect x="380.9" y="254.0" width="1.0" height="1.0" fill="#000" opacity="0.7"/>
<rect x="376.7" y="249.2" width="1.0" height="1.0" fill="#000" opacity="0.7"/>
<rect x="376.0" y="251.5" width="1.0" height="1.0" fill="#000" opacity="0.7"/>
<rect x="376.0" y="251.5" width="1.0" height="1.0" fill="#000" opacity="0.7"/>
<rect x="373.6" y="250.2" width="1.0" height="1.0" fill="#000" opacity="0.7"/>
<rect x="374.9" y="253.7" width="1.0" height="1.0" fill="#000" opacity="0.7"/>
<rect x="372.1" y="254.5" width="1.0" height="1.0" fill="#000" opacity="0.7"/>
<rect x="375.7" y="248.3" width="1.0" height="1.0" fill="#000" opacity="0.7"/>
<rect x="376.1" y="250.4" width="1.0" height="1.0" fill="#000" opacity="0.7"/>
<rect x="375.3" y="251.5" width="1.0" height="1.0" fill="#000" opacity="0.7"/>
<rect x="374.2" y="244.2" width="1.0" height="1.0" fill="#000" opacity="0.7"/>
<rect x="378.2" y="249.9" width="1.0" height="1.0" fill="#000" opacity="0.7"/>
<rect x="381.2" y="251.3" width="1.0" height="1.0" fill="#000" opacity="0.7"/>
<rect x="369.7" y="254.3" width="1.0" height="1.0" fill="#000" opacity="0.7"/>
<rect x="373.8" y="251.9" width="1.0" height="1.0" fill="#000" opacity="0.7"/>
<rect x="383.0" y="253.8" width="1.0" height="1.0" fill="#000" opacity="0.7"/>
<rect x="372.6" y="249.7" width="1.0" height="1.0" fill="#000" opacity="0.7"/>
<rect x="370.9" y="252.3" width="1.0" height="1.0" fill="#000" opacity="0.7"/>
<rect x="377.8" y="246.5" width="1.0" height="1.0" fill="#000" opacity="0.7"/>
<rect x="377.4" y="253.2" width="1.0" height="1.0" fill="#000" opacity="0.7"/>
<rect x="378.5" y="247.7" width="1.0" height="1.0" fill="#000" opacity="0.7"/>
<rect x="373.8" y="246.2" width="1.0" height="1.0" fill="#000" opacity="0.7"/>
<rect x="371.9" y="251.1" width="1.0" height="1.0" fill="#000" opacity="0.7"/>
<rect x="376.1" y="254.5" width="1.0" height="1.0" fill="#000" opacity="0.7"/>
<rect x="376.9" y="248.9" width="1.0" height="1.0" fill="#000" opacity="0.7"/>
<rect x="371.5" y="255.3" width="1.0" height="1.0" fill="#000" opacity="0.7"/>
<rect x="376.5" y="249.9" width="1.0" height="1.0" fill="#000" opacity="0.7"/>
<rect x="372.8" y="246.5" width="1.0" height="1.0" fill="#000" opacity="0.7"/>
<rect x="378.0" y="246.7" width="1.0" height="1.0" fill="#000" opacity="0.7"/>
<rect x="377.8" y="252.2" width="1.0" height="1.0" fill="#000" opacity="0.7"/>
<rect x="374.8" y="244.5" width="1.0" height="1.0" fill="#000" opacity="0.7"/>
<rect x="377.3" y="254.8" width="1.0" height="1.0" fill="#000" opacity="0.7"/>
<rect x="373.4" y="245.7" width="1.0" height="1.0" fill="#000" opacity="0.7"/>
<rect x="379.4" y="250.5" width="1.0" height="1.0" fill="#000" opacity="0.7"/>
<rect x="374.0" y="254.2" width="1.0" height="1.0" fill="#000" opacity="0.7"/>
<rect x="375.1" y="251.6" width="1.0" height="1.0" fill="#000" opacity="0.7"/>
<rect x="374.7" y="247.5" width="1.0" height="1.0" fill="#000" opacity="0.7"/>
<rect x="376.7" y="247.1" width="1.0" height="1.0" fill="#000" opacity="0.7"/>
<rect x="370.4" y="248.2" width="1.0" height="1.0" fill="#000" opacity="0.7"/>
<rect x="379.9" y="253.8" width="1.0" height="1.0" fill="#000" opacity="0.7"/>
<rect x="382.8" y="253.4" width="1.0" height="1.0" fill="#000" opacity="0.7"/>
<rect x="381.1" y="250.9" width="1.0" height="1.0" fill="#000" opacity="0.7"/>
<rect x="374.6" y="251.6" width="1.0" height="1.0" fill="#000" opacity="0.7"/>
<rect x="373.0" y="252.5" width="1.0" height="1.0" fill="#000" opacity="0.7"/>
<rect x="374.6" y="250.9" width="1.0" height="1.0" fill="#000" opacity="0.7"/>
<rect x="373.3" y="249.6" width="1.0" height="1.0" fill="#000" opacity="0.7"/>
<rect x="379.1" y="249.3" width="1.0" height="1.0" fill="#000" opacity="0.7"/>
<rect x="373.9" y="251.0" width="1.0" height="1.0" fill="#000" opacity="0.7"/>
<rect x="378.8" y="249.4" width="1.0" height="1.0" fill="#000" opacity="0.7"/>
<rect x="372.3" y="244.7" width="1.0" height="1.0" fill="#000" opacity="0.7"/>
<rect x="371.8" y="253.7" width="1.0" height="1.0" fill="#000" opacity="0.7"/>
<rect x="375.7" y="251.7" width="1.0" height="1.0" fill="#000" opacity="0.7"/>
<rect x="379.4" y="251.0" width="1.0" height="1.0" fill="#000" opacity="0.7"/>
<rect x="377.5" y="248.3" width="1.0" height="1.0" fill="#000" opacity="0.7"/>
<rect x="370.9" y="252.2" width="1.0" height="1.0" fill="#000" opacity="0.7"/>
<rect x="375.7" y="252.0" width="1.0" height="1.0" fill="#000" opacity="0.7"/>
<rect x="372.7" y="249.6" width="1.0" height="1.0" fill="#000" opacity="0.7"/>
<rect x="382.3" y="247.2" width="1.0" height="1.0" fill="#000" opacity="0.7"/>
<rect x="376.3" y="254.5" width="1.0" height="1.0" fill="#000" opacity="0.7"/>
<rect x="375.3" y="250.5" width="1.0" height="1.0" fill="#000" opacity="0.7"/>
<rect x="369.3" y="252.7" width="1.0" height="1.0" fill="#000" opacity="0.7"/>
<rect x="374.6" y="254.4" width="1.0" height="1.0" fill="#000" opacity="0.7"/>
<rect x="375.7" y="248.8" width="1.0" height="1.0" fill="#000" opacity="0.7"/>
<rect x="377.4" y="249.2" width="1.0" height="1.0" fill="#000" opacity="0.7"/>
<rect x="374.4" y="255.3" width="1.0" height="1.0" fill="#000" opacity="0.7"/>
<rect x="379.1" y="250.4" width="1.0" height="1.0" fill="#000" opacity="0.7"/>
<rect x="378.5" y="252.8" width="1.0" height="1.0" fill="#000" opacity="0.7"/>
<rect x="377.8" y="250.2" width="1.0" height="1.0" fill="#000" opacity="0.7"/>
<rect x="376.2" y="251.4" width="1.0" height="1.0" fill="#000" opacity="0.7"/>
<rect x="377.8" y="251.2" width="1.0" height="1.0" fill="#000" opacity="0.7"/>
<rect x="374.3" y="249.8" width="1.0" height="1.0" fill="#000" opacity="0.7"/>
<rect x="377.4" y="246.7" width="1.0" height="1.0" fill="#000" opacity="0.7"/>
<rect x="376.0" y="252.6" width="1.0" height="1.0" fill="#000" opacity="0.7"/>
<rect x="376.5" y="249.1" width="1.0" height="1.0" fill="#000" opacity="0.7"/>
<rect x="375.9" y="248.4" width="1.0" height="1.0" fill="#000" opacity="0.7"/>
<rect x="379.1" y="248.8" width="1.0" height="1.0" fill="#000" opacity="0.7"/>
<rect x="370.8" y="246.0" width="1.0" height="1.0" fill="#000" opacity="0.7"/>
<rect x="376.9" y="250.8" width="1.0" height="1.0" fill="#000" opacity="0.7"/>
<rect x="374.5" y="245.6" width="1.0" height="1.0" fill="#000" opacity="0.7"/>
<rect x="375.5" y="247.2" width="1.0" height="1.0" fill="#000" opacity="0.7"/>
<rect x="373.9" y="250.0" width="1.0" height="1.0" fill="#000" opacity="0.7"/>
<rect x="373.6" y="251.1" width="1.0" height="1.0" fill="#000" opacity="0.7"/>
<rect x="373.7" y="248.5" width="1.0" height="1.0" fill="#000" opacity="0.7"/>
<rect x="375.3" y="255.0" width="1.0" height="1.0" fill="#000" opacity="0.7"/>
<rect x="380.9" y="253.2" width="1.0" height="1.0" fill="#000" opacity="0.7"/>
<rect x="373.7" y="250.1" width="1.0" height="1.0" fill="#000" opacity="0.7"/>
<rect x="378.9" y="252.8" width="1.0" height="1.0" fill="#000" opacity="0.7"/>
<rect x="370.9" y="249.9" width="1.0" height="1.0" fill="#000" opacity="0.7"/>
<rect x="373.7" y="252.6" width="1.0" height="1.0" fill="#000" opacity="0.7"/>
<rect x="378.0" y="248.3" width="1.0" height="1.0" fill="#000" opacity="0.7"/>
<rect x="382.7" y="249.1" width="1.0" height="1.0" fill="#000" opacity="0.7"/>
<rect x="383.7" y="249.5" width="1.0" height="1.0" fill="#000" opacity="0.7"/>
<rect x="375.7" y="256.4" width="1.0" height="1.0" fill="#000" opacity="0.7"/>
<rect x="374.4" y="248.5" width="1.0" height="1.0" fill="#000" opacity="0.7"/>
<rect x="380.6" y="249.9" width="1.0" height="1.0" fill="#000" opacity="0.7"/>
<rect x="377.5" y="245.8" width="1.0" height="1.0" fill="#000" opacity="0.7"/>
<rect x="381.6" y="253.3" width="1.0" height="1.0" fill="#000" opacity="0.7"/>
<rect x="377.1" y="252.4" width="1.0" height="1.0" fill="#000" opacity="0.7"/>
<rect x="374.4" y="248.5" width="1.0" height="1.0" fill="#000" opacity="0.7"/>
<rect x="371.1" y="251.3" width="1.0" height="1.0" fill="#000" opacity="0.7"/>
<rect x="379.9" y="252.9" width="1.0" height="1.0" fill="#000" opacity="0.7"/>
<rect x="378.9" y="252.4" width="1.0" height="1.0" fill="#000" opacity="0.7"/>
<rect x="373.1" y="245.7" width="1.0" height="1.0" fill="#000" opacity="0.7"/>
<rect x="378.0" y="250.6" width="1.0" height="1.0" fill="#000" opacity="0.7"/>
<rect x="379.1" y="249.1" width="1.0" height="1.0" fill="#000" opacity="0.7"/>
<rect x="373.2" y="251.5" width="1.0" height="1.0" fill="#000" opacity="0.7"/>
<rect x="374.3" y="244.6" width="1.0" height="1.0" fill="#000" opacity="0.7"/>
<rect x="374.1" y="247.1" width="1.0" height="1.0" fill="#000" opacity="0.7"/>
<rect x="372.5" y="248.2" width="1.0" height="1.0" fill="#000" opacity="0.7"/>
<rect x="379.0" y="257.9" width="1.0" height="1.0" fill="#000" opacity="0.7"/>
<rect x="381.4" y="248.7" width="1.0" height="1.0" fill="#000" opacity="0.7"/>
<rect x="379.6" y="249.8" width="1.0" height="1.0" fill="#000" opacity="0.7"/>
<rect x="377.3" y="247.8" width="1.0" height="1.0" fill="#000" opacity="0.7"/>
<rect x="375.8" y="244.5" width="1.0" height="1.0" fill="#000" opacity="0.7"/>
<rect x="381.6" y="247.5" width="1.0" height="1.0" fill="#000" opacity="0.7"/>
<rect x="377.8" y="248.1" width="1.0" height="1.0" fill="#000" opacity="0.7"/>
<rect x="376.8" y="246.1" width="1.0" height="1.0" fill="#000" opacity="0.7"/>
<rect x="374.8" y="253.1" width="1.0" height="1.0" fill="#000" opacity="0.7"/>
<rect x="377.9" y="243.6" width="1.0" height="1.0" fill="#000" opacity="0.7"/>
<rect x="378.7" y="245.7" width="1.0" height="1.0" fill="#000" opacity="0.7"/>
<rect x="376.9" y="251.8" width="1.0" height="1.0" fill="#000" opacity="0.7"/>
<rect x="374.0" y="249.0" width="1.0" height="1.0" fill="#000" opacity="0.7"/>
<rect x="375.2" y="251.4" width="1.0" height="1.0" fill="#000" opacity="0.7"/>
<rect x="378.9" y="254.6" width="1.0" height="1.0" fill="#000" opacity="0.7"/>
<rect x="377.0" y="256.7" width="1.0" height="1.0" fill="#000" opacity="0.7"/>
<rect x="373.0" y="256.0" width="1.0" height="1.0" fill="#000" opacity="0.7"/>
<rect x="375.2" y="252.6" width="1.0" height="1.0" fill="#000" opacity="0.7"/>
<rect x="375.6" y="250.3" width="1.0" height="1.0" fill="#000" opacity="0.7"/>
<rect x="373.1" y="251.3" width="1.0" height="1.0" fill="#000" opacity="0.7"/>
<rect x="382.3" y="250.6" width="1.0" height="1.0" fill="#000" opacity="0.7"/>
<rect x="375.9" y="250.1" width="1.0" height="1.0" fill="#000" opacity="0.7"/>
<rect x="378.2" y="249.4" width="1.0" height="1.0" fill="#000" opacity="0.7"/>
<rect x="376.0" y="250.8" width="1.0" height="1.0" fill="#000" opacity="0.7"/>
<rect x="380.1" y="253.2" width="1.0" height="1.0" fill="#000" opacity="0.7"/>
<rect x="372.7" y="248.0" width="1.0" height="1.0" fill="#000" opacity="0.7"/>
<rect x="376.1" y="252.9" width="1.0" height="1.0" fill="#000" opacity="0.7"/>
<rect x="379.0" y="249.4" width="1.0" height="1.0" fill="#000" opacity="0.7"/>
<rect x="382.7" y="249.5" width="1.0" height="1.0" fill="#000" opacity="0.7"/>
<rect x="380.4" y="254.8" width="1.0" height="1.0" fill="#000" opacity="0.7"/>
<rect x="381.0" y="250.7" width="1.0" height="1.0" fill="#000" opacity="0.7"/>
<rect x="377.8" y="245.0" width="1.0" height="1.0" fill="#000" opacity="0.7"/>
<rect x="370.4" y="248.0" width="1.0" height="1.0" fill="#000" opacity="0.7"/>
<rect x="378.3" y="253.6" width="1.0" height="1.0" fill="#000" opacity="0.7"/>
<rect x="375.7" y="253.5" width="1.0" height="1.0" fill="#000" opacity="0.7"/>
<rect x="377.8" y="255.1" width="1.0" height="1.0" fill="#000" opacity="0.7"/>
<rect x="358.1" y="245.9" width="1.0" height="1.0" fill="#666" opacity="0.7"/>
<rect x="362.4" y="245.1" width="1.0" height="1.0" fill="#666" opacity="0.7"/>
<rect x="380.3" y="245.6" width="1.0" height="1.0" fill="#666" opacity="0.7"/>
<rect x="363.3" y="247.6" width="1.0" height="1.0" fill="#666" opacity="0.7"/>
<rect x="375.1" y="247.3" width="1.0" height="1.0" fill="#666" opacity="0.7"/>
<rect x="374.0" y="251.2" width="1.0" height="1.0" fill="#666" opacity="0.7"/>
<rect x="364.6" y="240.1" width="1.0" height="1.0" fill="#666" opacity="0.7"/>
<rect x="362.7" y="244.3" width="1.0" height="1.0" fill="#666" opacity="0.7"/>
<rect x="380.2" y="246.3" width="1.0" height="1.0" fill="#666" opacity="0.7"/>
<rect x="361.7" y="250.5" width="1.0" height="1.0" fill="#666" opacity="0.7"/>
<rect x="369.4" y="245.5" width="1.0" height="1.0" fill="#666" opacity="0.7"/>
<rect x="376.5" y="252.5" width="1.0" height="1.0" fill="#666" opacity="0.7"/>
<rect x="370.9" y="246.2" width="1.0" height="1.0" fill="#666" opacity="0.7"/>
<rect x="363.0" y="241.3" width="1.0" height="1.0" fill="#666" opacity="0.7"/>
<rect x="371.6" y="250.6" width="1.0" height="1.0" fill="#666" opacity="0.7"/>
<rect x="362.7" y="249.2" width="1.0" height="1.0" fill="#666" opacity="0.7"/>
<rect x="391.5" y="244.8" width="1.0" height="1.0" fill="#666" opacity="0.7"/>
<rect x="357.3" y="251.4" width="1.0" height="1.0" fill="#666" opacity="0.7"/>
<rect x="366.1" y="247.2" width="1.0" height="1.0" fill="#666" opacity="0.7"/>
<rect x="373.3" y="248.6" width="1.0" height="1.0" fill="#666" opacity="0.7"/>
<rect x="375.8" y="251.0" width="1.0" height="1.0" fill="#666" opacity="0.7"/>
<rect x="377.0" y="249.5" width="1.0" height="1.0" fill="#666" opacity="0.7"/>
<rect x="354.2" y="254.2" width="1.0" height="1.0" fill="#666" opacity="0.7"/>
<rect x="357.3" y="253.0" width="1.0" height="1.0" fill="#666" opacity="0.7"/>
<rect x="370.7" y="243.8" width="1.0" height="1.0" fill="#666" opacity="0.7"/>
<rect x="369.5" y="252.4" width="1.0" height="1.0" fill="#666" opacity="0.7"/>
<rect x="362.0" y="249.2" width="1.0" height="1.0" fill="#666" opacity="0.7"/>
<rect x="363.9" y="245.2" width="1.0" height="1.0" fill="#666" opacity="0.7"/>
<rect x="364.8" y="253.9" width="1.0" height="1.0" fill="#666" opacity="0.7"/>
<rect x="373.7" y="248.9" width="1.0" height="1.0" fill="#666" opacity="0.7"/>
<rect x="368.4" y="249.5" width="1.0" height="1.0" fill="#666" opacity="0.7"/>
<rect x="371.0" y="249.8" width="1.0" height="1.0" fill="#666" opacity="0.7"/>
<rect x="357.2" y="252.5" width="1.0" height="1.0" fill="#666" opacity="0.7"/>
<rect x="363.1" y="239.1" width="1.0" height="1.0" fill="#666" opacity="0.7"/>
<rect x="373.8" y="244.5" width="1.0" height="1.0" fill="#666" opacity="0.7"/>
<rect x="368.0" y="248.7" width="1.0" height="1.0" fill="#666" opacity="0.7"/>
<rect x="364.9" y="251.1" width="1.0" height="1.0" fill="#666" opacity="0.7"/>
<rect x="367.1" y="248.0" width="1.0" height="1.0" fill="#666" opacity="0.7"/>
<rect x="362.4" y="248.0" width="1.0" height="1.0" fill="#666" opacity="0.7"/>
<rect x="361.9" y="249.2" width="1.0" height="1.0" fill="#666" opacity="0.7"/>
<rect x="408.9" y="269.8" width="1.0" height="1.0" fill="#111" opacity="0.7"/>
<rect x="406.9" y="263.1" width="1.0" height="1.0" fill="#111" opacity="0.7"/>
<rect x="408.2" y="269.0" width="1.0" height="1.0" fill="#111" opacity="0.7"/>
<rect x="410.5" y="264.7" width="1.0" height="1.0" fill="#111" opacity="0.7"/>
<rect x="406.0" y="264.4" width="1.0" height="1.0" fill="#111" opacity="0.7"/>
<rect x="408.4" y="265.1" width="1.0" height="1.0" fill="#111" opacity="0.7"/>
<rect x="405.2" y="269.0" width="1.0" height="1.0" fill="#111" opacity="0.7"/>
<rect x="408.1" y="263.0" width="1.0" height="1.0" fill="#111" opacity="0.7"/>
<rect x="406.0" y="267.9" width="1.0" height="1.0" fill="#111" opacity="0.7"/>
<rect x="404.7" y="265.0" width="1.0" height="1.0" fill="#111" opacity="0.7"/>
<rect x="406.2" y="262.2" width="1.0" height="1.0" fill="#111" opacity="0.7"/>
<rect x="404.6" y="266.0" width="1.0" height="1.0" fill="#111" opacity="0.7"/>
<rect x="408.6" y="266.2" width="1.0" height="1.0" fill="#111" opacity="0.7"/>
<rect x="408.4" y="265.9" width="1.0" height="1.0" fill="#111" opacity="0.7"/>
<rect x="406.5" y="265.5" width="1.0" height="1.0" fill="#111" opacity="0.7"/>
<rect x="403.3" y="263.1" width="1.0" height="1.0" fill="#111" opacity="0.7"/>
<rect x="405.2" y="258.6" width="1.0" height="1.0" fill="#111" opacity="0.7"/>
<rect x="404.2" y="261.6" width="1.0" height="1.0" fill="#111" opacity="0.7"/>
<rect x="404.2" y="261.3" width="1.0" height="1.0" fill="#111" opacity="0.7"/>
<rect x="404.5" y="258.6" width="1.0" height="1.0" fill="#111" opacity="0.7"/>
<rect x="407.9" y="267.0" width="1.0" height="1.0" fill="#111" opacity="0.7"/>
<rect x="406.6" y="265.0" width="1.0" height="1.0" fill="#111" opacity="0.7"/>
<rect x="406.1" y="264.6" width="1.0" height="1.0" fill="#111" opacity="0.7"/>
<rect x="403.6" y="259.7" width="1.0" height="1.0" fill="#111" opacity="0.7"/>
<rect x="406.2" y="267.2" width="1.0" height="1.0" fill="#111" opacity="0.7"/>
<rect x="406.5" y="268.8" width="1.0" height="1.0" fill="#111" opacity="0.7"/>
<rect x="403.0" y="261.7" width="1.0" height="1.0" fill="#111" opacity="0.7"/>
<rect x="404.7" y="266.3" width="1.0" height="1.0" fill="#111" opacity="0.7"/>
<rect x="409.7" y="267.5" width="1.0" height="1.0" fill="#111" opacity="0.7"/>
<rect x="407.6" y="266.0" width="1.0" height="1.0" fill="#111" opacity="0.7"/>
<rect x="403.8" y="262.7" width="1.0" height="1.0" fill="#111" opacity="0.7"/>
<rect x="403.7" y="266.0" width="1.0" height="1.0" fill="#111" opacity="0.7"/>
<rect x="407.3" y="268.7" width="1.0" height="1.0" fill="#111" opacity="0.7"/>
<rect x="406.8" y="260.8" width="1.0" height="1.0" fill="#111" opacity="0.7"/>
<rect x="407.7" y="266.9" width="1.0" height="1.0" fill="#111" opacity="0.7"/>
<rect x="400.8" y="260.3" width="1.0" height="1.0" fill="#111" opacity="0.7"/>
<rect x="408.2" y="270.6" width="1.0" height="1.0" fill="#111" opacity="0.7"/>
<rect x="403.8" y="264.5" width="1.0" height="1.0" fill="#111" opacity="0.7"/>
<rect x="406.7" y="265.3" width="1.0" height="1.0" fill="#111" opacity="0.7"/>
<rect x="405.4" y="265.5" width="1.0" height="1.0" fill="#111" opacity="0.7"/>
<rect x="407.2" y="267.5" width="1.0" height="1.0" fill="#111" opacity="0.7"/>
<rect x="405.1" y="261.5" width="1.0" height="1.0" fill="#111" opacity="0.7"/>
<rect x="408.9" y="270.4" width="1.0" height="1.0" fill="#111" opacity="0.7"/>
<rect x="404.8" y="263.8" width="1.0" height="1.0" fill="#111" opacity="0.7"/>
<rect x="407.7" y="263.1" width="1.0" height="1.0" fill="#111" opacity="0.7"/>
<rect x="407.1" y="271.0" width="1.0" height="1.0" fill="#111" opacity="0.7"/>
<rect x="406.6" y="264.1" width="1.0" height="1.0" fill="#111" opacity="0.7"/>
<rect x="410.4" y="269.2" width="1.0" height="1.0" fill="#111" opacity="0.7"/>
<rect x="406.5" y="264.6" width="1.0" height="1.0" fill="#111" opacity="0.7"/>
<rect x="406.4" y="261.7" width="1.0" height="1.0" fill="#111" opacity="0.7"/>
<rect x="403.2" y="259.3" width="1.0" height="1.0" fill="#111" opacity="0.7"/>
<rect x="408.0" y="266.7" width="1.0" height="1.0" fill="#111" opacity="0.7"/>
<rect x="408.5" y="263.2" width="1.0" height="1.0" fill="#111" opacity="0.7"/>
<rect x="404.7" y="266.8" width="1.0" height="1.0" fill="#111" opacity="0.7"/>
<rect x="404.3" y="259.5" width="1.0" height="1.0" fill="#111" opacity="0.7"/>
<rect x="404.4" y="262.8" width="1.0" height="1.0" fill="#111" opacity="0.7"/>
<rect x="406.0" y="267.7" width="1.0" height="1.0" fill="#111" opacity="0.7"/>
<rect x="408.9" y="270.9" width="1.0" height="1.0" fill="#111" opacity="0.7"/>
<rect x="407.3" y="265.2" width="1.0" height="1.0" fill="#111" opacity="0.7"/>
<rect x="404.9" y="260.9" width="1.0" height="1.0" fill="#111" opacity="0.7"/>
<rect x="408.8" y="270.2" width="1.0" height="1.0" fill="#111" opacity="0.7"/>
<rect x="406.2" y="263.4" width="1.0" height="1.0" fill="#111" opacity="0.7"/>
<rect x="407.5" y="267.4" width="1.0" height="1.0" fill="#111" opacity="0.7"/>
<rect x="406.3" y="262.9" width="1.0" height="1.0" fill="#111" opacity="0.7"/>
<rect x="406.5" y="264.3" width="1.0" height="1.0" fill="#111" opacity="0.7"/>
<rect x="407.6" y="267.8" width="1.0" height="1.0" fill="#111" opacity="0.7"/>
<rect x="407.0" y="265.0" width="1.0" height="1.0" fill="#111" opacity="0.7"/>
<rect x="409.3" y="269.7" width="1.0" height="1.0" fill="#111" opacity="0.7"/>
<rect x="408.7" y="269.3" width="1.0" height="1.0" fill="#111" opacity="0.7"/>
<rect x="407.4" y="267.2" width="1.0" height="1.0" fill="#111" opacity="0.7"/>
<rect x="403.7" y="259.1" width="1.0" height="1.0" fill="#111" opacity="0.7"/>
<rect x="404.0" y="264.3" width="1.0" height="1.0" fill="#111" opacity="0.7"/>
<rect x="408.0" y="267.3" width="1.0" height="1.0" fill="#111" opacity="0.7"/>
<rect x="406.2" y="269.0" width="1.0" height="1.0" fill="#111" opacity="0.7"/>
<rect x="405.1" y="260.5" width="1.0" height="1.0" fill="#111" opacity="0.7"/>
<rect x="402.7" y="261.2" width="1.0" height="1.0" fill="#111" opacity="0.7"/>
<rect x="407.5" y="268.0" width="1.0" height="1.0" fill="#111" opacity="0.7"/>
<rect x="405.5" y="266.2" width="1.0" height="1.0" fill="#111" opacity="0.7"/>
<rect x="405.9" y="263.4" width="1.0" height="1.0" fill="#111" opacity="0.7"/>
<rect x="405.2" y="265.8" width="1.0" height="1.0" fill="#111" opacity="0.7"/>
<rect x="408.1" y="264.7" width="1.0" height="1.0" fill="#111" opacity="0.7"/>
<rect x="403.9" y="263.2" width="1.0" height="1.0" fill="#111" opacity="0.7"/>
<rect x="410.6" y="267.0" width="1.0" height="1.0" fill="#111" opacity="0.7"/>
<rect x="403.3" y="263.3" width="1.0" height="1.0" fill="#111" opacity="0.7"/>
<rect x="407.1" y="264.8" width="1.0" height="1.0" fill="#111" opacity="0.7"/>
<rect x="405.9" y="265.9" width="1.0" height="1.0" fill="#111" opacity="0.7"/>
<rect x="402.2" y="261.4" width="1.0" height="1.0" fill="#111" opacity="0.7"/>
<rect x="407.3" y="268.1" width="1.0" height="1.0" fill="#111" opacity="0.7"/>
<rect x="408.5" y="267.3" width="1.0" height="1.0" fill="#111" opacity="0.7"/>
<rect x="402.9" y="264.8" width="1.0" height="1.0" fill="#111" opacity="0.7"/>
<rect x="407.7" y="265.3" width="1.0" height="1.0" fill="#111" opacity="0.7"/>
<rect x="408.2" y="269.3" width="1.0" height="1.0" fill="#111" opacity="0.7"/>
<rect x="405.7" y="259.9" width="1.0" height="1.0" fill="#111" opacity="0.7"/>
<rect x="405.0" y="262.5" width="1.0" height="1.0" fill="#111" opacity="0.7"/>
<rect x="404.2" y="263.1" width="1.0" height="1.0" fill="#111" opacity="0.7"/>
<rect x="403.7" y="263.6" width="1.0" height="1.0" fill="#111" opacity="0.7"/>
<rect x="410.1" y="266.4" width="1.0" height="1.0" fill="#111" opacity="0.7"/>
<rect x="408.2" y="266.1" width="1.0" height="1.0" fill="#111" opacity="0.7"/>
<rect x="407.2" y="265.9" width="1.0" height="1.0" fill="#111" opacity="0.7"/>
<rect x="408.8" y="266.2" width="1.0" height="1.0" fill="#111" opacity="0.7"/>
<rect x="407.6" y="264.9" width="1.0" height="1.0" fill="#111" opacity="0.7"/>
<rect x="406.5" y="265.4" width="1.0" height="1.0" fill="#111" opacity="0.7"/>
<rect x="408.3" y="264.0" width="1.0" height="1.0" fill="#111" opacity="0.7"/>
<rect x="403.1" y="265.1" width="1.0" height="1.0" fill="#111" opacity="0.7"/>
<rect x="406.8" y="269.3" width="1.0" height="1.0" fill="#111" opacity="0.7"/>
<rect x="403.8" y="263.3" width="1.0" height="1.0" fill="#111" opacity="0.7"/>
<rect x="407.3" y="269.9" width="1.0" height="1.0" fill="#111" opacity="0.7"/>
<rect x="405.9" y="264.0" width="1.0" height="1.0" fill="#111" opacity="0.7"/>
<rect x="407.5" y="266.3" width="1.0" height="1.0" fill="#111" opacity="0.7"/>
<rect x="404.4" y="265.0" width="1.0" height="1.0" fill="#111" opacity="0.7"/>
<rect x="401.9" y="259.0" width="1.0" height="1.0" fill="#111" opacity="0.7"/>
<rect x="408.9" y="266.8" width="1.0" height="1.0" fill="#111" opacity="0.7"/>
<rect x="405.3" y="265.1" width="1.0" height="1.0" fill="#111" opacity="0.7"/>
<rect x="408.4" y="268.4" width="1.0" height="1.0" fill="#111" opacity="0.7"/>
<rect x="403.9" y="261.9" width="1.0" height="1.0" fill="#111" opacity="0.7"/>
<rect x="408.3" y="266.9" width="1.0" height="1.0" fill="#111" opacity="0.7"/>
<rect x="404.6" y="265.5" width="1.0" height="1.0" fill="#111" opacity="0.7"/>
<rect x="408.5" y="271.8" width="1.0" height="1.0" fill="#111" opacity="0.7"/>
<rect x="403.7" y="261.3" width="1.0" height="1.0" fill="#111" opacity="0.7"/>
<rect x="404.5" y="264.3" width="1.0" height="1.0" fill="#111" opacity="0.7"/>
<rect x="405.0" y="266.3" width="1.0" height="1.0" fill="#111" opacity="0.7"/>
<rect x="400.2" y="261.5" width="1.0" height="1.0" fill="#111" opacity="0.7"/>
<rect x="404.6" y="263.1" width="1.0" height="1.0" fill="#111" opacity="0.7"/>
<rect x="407.2" y="266.6" width="1.0" height="1.0" fill="#111" opacity="0.7"/>
<rect x="403.8" y="266.0" width="1.0" height="1.0" fill="#111" opacity="0.7"/>
<rect x="407.2" y="265.2" width="1.0" height="1.0" fill="#111" opacity="0.7"/>
<rect x="406.4" y="263.2" width="1.0" height="1.0" fill="#111" opacity="0.7"/>
<rect x="403.4" y="261.9" width="1.0" height="1.0" fill="#111" opacity="0.7"/>
<rect x="406.8" y="266.0" width="1.0" height="1.0" fill="#111" opacity="0.7"/>
<rect x="404.3" y="260.6" width="1.0" height="1.0" fill="#111" opacity="0.7"/>
<rect x="402.4" y="264.8" width="1.0" height="1.0" fill="#111" opacity="0.7"/>
<rect x="406.8" y="264.1" width="1.0" height="1.0" fill="#111" opacity="0.7"/>
<rect x="408.5" y="268.5" width="1.0" height="1.0" fill="#111" opacity="0.7"/>
<rect x="405.1" y="262.9" width="1.0" height="1.0" fill="#111" opacity="0.7"/>
<rect x="408.4" y="268.0" width="1.0" height="1.0" fill="#111" opacity="0.7"/>
<rect x="409.5" y="269.1" width="1.0" height="1.0" fill="#111" opacity="0.7"/>
<rect x="404.7" y="262.6" width="1.0" height="1.0" fill="#111" opacity="0.7"/>
<rect x="404.5" y="264.1" width="1.0" height="1.0" fill="#111" opacity="0.7"/>
<rect x="406.5" y="266.8" width="1.0" height="1.0" fill="#111" opacity="0.7"/>
<rect x="407.0" y="263.8" width="1.0" height="1.0" fill="#111" opacity="0.7"/>
<rect x="408.2" y="256.1" width="1.0" height="1.0" fill="#555" opacity="0.7"/>
<rect x="410.9" y="257.1" width="1.0" height="1.0" fill="#555" opacity="0.7"/>
<rect x="406.7" y="255.1" width="1.0" height="1.0" fill="#555" opacity="0.7"/>
<rect x="406.6" y="257.0" width="1.0" height="1.0" fill="#555" opacity="0.7"/>
<rect x="414.9" y="264.3" width="1.0" height="1.0" fill="#555" opacity="0.7"/>
<rect x="403.4" y="254.1" width="1.0" height="1.0" fill="#555" opacity="0.7"/>
<rect x="411.9" y="264.4" width="1.0" height="1.0" fill="#555" opacity="0.7"/>
<rect x="409.9" y="267.6" width="1.0" height="1.0" fill="#555" opacity="0.7"/>
<rect x="413.3" y="264.1" width="1.0" height="1.0" fill="#555" opacity="0.7"/>
<rect x="413.7" y="259.6" width="1.0" height="1.0" fill="#555" opacity="0.7"/>
<rect x="408.3" y="256.5" width="1.0" height="1.0" fill="#555" opacity="0.7"/>
<rect x="409.7" y="266.1" width="1.0" height="1.0" fill="#555" opacity="0.7"/>
<rect x="407.1" y="263.8" width="1.0" height="1.0" fill="#555" opacity="0.7"/>
<rect x="405.0" y="261.4" width="1.0" height="1.0" fill="#555" opacity="0.7"/>
<rect x="402.4" y="251.3" width="1.0" height="1.0" fill="#555" opacity="0.7"/>
<rect x="412.9" y="263.1" width="1.0" height="1.0" fill="#555" opacity="0.7"/>
<rect x="409.6" y="260.5" width="1.0" height="1.0" fill="#555" opacity="0.7"/>
<rect x="409.7" y="260.0" width="1.0" height="1.0" fill="#555" opacity="0.7"/>
<rect x="405.2" y="255.7" width="1.0" height="1.0" fill="#555" opacity="0.7"/>
<rect x="409.4" y="257.3" width="1.0" height="1.0" fill="#555" opacity="0.7"/>
<rect x="410.8" y="267.6" width="1.0" height="1.0" fill="#555" opacity="0.7"/>
<rect x="402.6" y="252.6" width="1.0" height="1.0" fill="#555" opacity="0.7"/>
<rect x="407.9" y="259.1" width="1.0" height="1.0" fill="#555" opacity="0.7"/>
<rect x="409.4" y="257.8" width="1.0" height="1.0" fill="#555" opacity="0.7"/>
<rect x="408.9" y="259.9" width="1.0" height="1.0" fill="#555" opacity="0.7"/>
<rect x="408.7" y="265.0" width="1.0" height="1.0" fill="#555" opacity="0.7"/>
<rect x="409.5" y="255.4" width="1.0" height="1.0" fill="#555" opacity="0.7"/>
<rect x="402.9" y="256.7" width="1.0" height="1.0" fill="#555" opacity="0.7"/>
<rect x="407.7" y="256.7" width="1.0" height="1.0" fill="#555" opacity="0.7"/>
<rect x="403.7" y="254.3" width="1.0" height="1.0" fill="#555" opacity="0.7"/>
<rect x="408.6" y="257.3" width="1.0" height="1.0" fill="#555" opacity="0.7"/>
<rect x="407.6" y="261.8" width="1.0" height="1.0" fill="#555" opacity="0.7"/>
<rect x="412.1" y="264.5" width="1.0" height="1.0" fill="#555" opacity="0.7"/>
<rect x="408.3" y="254.8" width="1.0" height="1.0" fill="#555" opacity="0.7"/>
<rect x="412.0" y="267.8" width="1.0" height="1.0" fill="#555" opacity="0.7"/>
<rect x="414.0" y="268.3" width="1.0" height="1.0" fill="#555" opacity="0.7"/>
<rect x="410.1" y="262.2" width="1.0" height="1.0" fill="#555" opacity="0.7"/>
<rect x="408.9" y="264.2" width="1.0" height="1.0" fill="#555" opacity="0.7"/>
<rect x="408.0" y="266.4" width="1.0" height="1.0" fill="#555" opacity="0.7"/>
<rect x="412.0" y="261.5" width="1.0" height="1.0" fill="#555" opacity="0.7"/>
<rect x="409.0" y="254.5" width="1.0" height="1.0" fill="#555" opacity="0.7"/>
<rect x="406.2" y="256.5" width="1.0" height="1.0" fill="#555" opacity="0.7"/>
<rect x="418.5" y="265.5" width="1.0" height="1.0" fill="#555" opacity="0.7"/>
<rect x="412.6" y="263.4" width="1.0" height="1.0" fill="#555" opacity="0.7"/>
<rect x="407.9" y="261.1" width="1.0" height="1.0" fill="#555" opacity="0.7"/>
<rect x="401.3" y="256.5" width="1.0" height="1.0" fill="#555" opacity="0.7"/>
<rect x="416.5" y="267.6" width="1.0" height="1.0" fill="#555" opacity="0.7"/>
<rect x="408.8" y="260.3" width="1.0" height="1.0" fill="#555" opacity="0.7"/>
<rect x="411.6" y="260.6" width="1.0" height="1.0" fill="#555" opacity="0.7"/>
<rect x="409.5" y="262.1" width="1.0" height="1.0" fill="#555" opacity="0.7"/>
<rect x="407.6" y="260.1" width="1.0" height="1.0" fill="#555" opacity="0.7"/>
<rect x="410.3" y="263.6" width="1.0" height="1.0" fill="#555" opacity="0.7"/>
<rect x="405.2" y="254.8" width="1.0" height="1.0" fill="#555" opacity="0.7"/>
<rect x="407.3" y="262.7" width="1.0" height="1.0" fill="#555" opacity="0.7"/>
<rect x="410.0" y="255.2" width="1.0" height="1.0" fill="#555" opacity="0.7"/>
<rect x="404.0" y="262.3" width="1.0" height="1.0" fill="#555" opacity="0.7"/>
<rect x="410.3" y="256.7" width="1.0" height="1.0" fill="#555" opacity="0.7"/>
<rect x="405.5" y="257.4" width="1.0" height="1.0" fill="#555" opacity="0.7"/>
<rect x="414.5" y="270.4" width="1.0" height="1.0" fill="#555" opacity="0.7"/>
<rect x="407.6" y="257.7" width="1.0" height="1.0" fill="#555" opacity="0.7"/>
<rect x="416.5" y="263.2" width="1.0" height="1.0" fill="#555" opacity="0.7"/>
<rect x="415.1" y="266.5" width="1.0" height="1.0" fill="#555" opacity="0.7"/>
<rect x="409.4" y="264.7" width="1.0" height="1.0" fill="#555" opacity="0.7"/>
<rect x="410.9" y="258.8" width="1.0" height="1.0" fill="#555" opacity="0.7"/>
<rect x="403.1" y="254.9" width="1.0" height="1.0" fill="#555" opacity="0.7"/>
<rect x="411.0" y="266.4" width="1.0" height="1.0" fill="#555" opacity="0.7"/>
<rect x="411.4" y="267.3" width="1.0" height="1.0" fill="#555" opacity="0.7"/>
<rect x="412.1" y="263.4" width="1.0" height="1.0" fill="#555" opacity="0.7"/>
<rect x="410.7" y="262.8" width="1.0" height="1.0" fill="#555" opacity="0.7"/>
<rect x="406.6" y="257.5" width="1.0" height="1.0" fill="#555" opacity="0.7"/>
<rect x="409.5" y="258.9" width="1.0" height="1.0" fill="#555" opacity="0.7"/>
<rect x="403.3" y="250.1" width="1.0" height="1.0" fill="#555" opacity="0.7"/>
<rect x="411.0" y="263.5" width="1.0" height="1.0" fill="#555" opacity="0.7"/>
<rect x="409.4" y="256.4" width="1.0" height="1.0" fill="#555" opacity="0.7"/>
<rect x="412.3" y="261.6" width="1.0" height="1.0" fill="#555" opacity="0.7"/>
<rect x="400.9" y="258.3" width="1.0" height="1.0" fill="#555" opacity="0.7"/>
<rect x="403.2" y="262.7" width="1.0" height="1.0" fill="#555" opacity="0.7"/>
<rect x="411.1" y="260.3" width="1.0" height="1.0" fill="#555" opacity="0.7"/>
<rect x="433.6" y="260.9" width="1.0" height="1.0" fill="#aaa" opacity="0.7"/>
<rect x="426.5" y="252.1" width="1.0" height="1.0" fill="#aaa" opacity="0.7"/>
<rect x="422.8" y="256.2" width="1.0" height="1.0" fill="#aaa" opacity="0.7"/>
<rect x="427.7" y="256.6" width="1.0" height="1.0" fill="#aaa" opacity="0.7"/>
<rect x="427.0" y="252.3" width="1.0" height="1.0" fill="#aaa" opacity="0.7"/>
<rect x="421.3" y="261.2" width="1.0" height="1.0" fill="#aaa" opacity="0.7"/>
<rect x="416.5" y="259.7" width="1.0" height="1.0" fill="#aaa" opacity="0.7"/>
<rect x="438.5" y="258.9" width="1.0" height="1.0" fill="#aaa" opacity="0.7"/>
<rect x="416.9" y="260.6" width="1.0" height="1.0" fill="#aaa" opacity="0.7"/>
<rect x="414.2" y="258.0" width="1.0" height="1.0" fill="#aaa" opacity="0.7"/>
<text x="334.5" y="57.1" font-size="10" font-weight="bold" text-anchor="start" textLength="8.600000000000023" lengthAdjust="spacingAndGlyphs" fill="#000"  stroke="#000" stroke-width="0.2">13</text>
<text x="390.59999999999997" y="55.5" font-size="10" font-weight="bold" text-anchor="end" fill="#000"  stroke="#000" stroke-width="0.2">4</text>
<text x="440.4" y="55.1" font-size="10" font-weight="bold" text-anchor="end" fill="#000"  stroke="#000" stroke-width="0.2">0</text>
<text x="330.2" y="116.1" font-size="10" font-weight="bold" text-anchor="start" textLength="10.0" lengthAdjust="spacingAndGlyphs" fill="#000"  stroke="#000" stroke-width="0.2">26</text>
<text x="380.6" y="116.1" font-size="10" font-weight="bold" text-anchor="start" textLength="10.199999999999989" lengthAdjust="spacingAndGlyphs" fill="#000"  stroke="#000" stroke-width="0.2">20</text>
<text x="437.9" y="114.39999999999999" font-size="10" font-weight="bold" text-anchor="end" fill="#000"  stroke="#000" stroke-width="0.2">1</text>
<text x="331.6" y="175.1" font-size="10" font-weight="bold" text-anchor="start" textLength="9.0" lengthAdjust="spacingAndGlyphs" fill="#000"  stroke="#000" stroke-width="0.2">10</text>
<text x="391.0" y="175.1" font-size="10" font-weight="bold" text-anchor="end" fill="#000"  stroke="#000" stroke-width="0.2">9</text>
<text x="443.4" y="175.1" font-size="10" font-weight="bold" text-anchor="end" fill="#000"  stroke="#000" stroke-width="0.2">0</text>
<text x="332.5" y="235.1" font-size="10" font-weight="bold" text-anchor="start" textLength="10.0" lengthAdjust="spacingAndGlyphs" fill="#000"  stroke="#000" stroke-width="0.2">28</text>
<text x="381.6" y="235.1" font-size="10" font-weight="bold" text-anchor="start" textLength="10.599999999999966" lengthAdjust="spacingAndGlyphs" fill="#000"  stroke="#000" stroke-width="0.2">63</text>
<text x="442.9" y="236.6" font-size="10" font-weight="bold" text-anchor="end" fill="#000"  stroke="#000" stroke-width="0.2">1</text>
<text x="319.5" y="42.7" font-size="10.5" font-weight="bold" text-anchor="middle" textLength="22.2" lengthAdjust="spacingAndGlyphs" fill="#000" >pDC</text>
<text x="367.4" y="42.7" font-size="10.5" font-weight="bold" text-anchor="middle" textLength="26" lengthAdjust="spacingAndGlyphs" fill="#000" >mDC</text>
<text x="402.5" y="30.2" font-size="10.5" font-weight="bold" text-anchor="start" textLength="35" lengthAdjust="spacingAndGlyphs" fill="#000" >CD11c</text>
<rect x="438.2" y="23.4" width="2.2" height="0.9" fill="#000" stroke="none" stroke-width="1" />
<text x="402.5" y="41.7" font-size="10.5" font-weight="bold" text-anchor="start" textLength="35" lengthAdjust="spacingAndGlyphs" fill="#000" >CD123</text>
<rect x="438.2" y="34.9" width="2.2" height="0.9" fill="#000" stroke="none" stroke-width="1" />
<text x="448" y="71.5" font-size="10.2" font-weight="bold" text-anchor="start" textLength="59" lengthAdjust="spacingAndGlyphs" fill="#000" >Control Ab</text>
<text x="448" y="135.5" font-size="10.2" font-weight="bold" text-anchor="start" textLength="45.5" lengthAdjust="spacingAndGlyphs" fill="#000" >SR-A Ab</text>
<text x="448" y="185.5" font-size="10.2" font-weight="bold" text-anchor="start" textLength="66" lengthAdjust="spacingAndGlyphs" fill="#000" >Control Ab+</text>
<text x="448" y="197.2" font-size="10.2" font-weight="bold" text-anchor="start" textLength="67.5" lengthAdjust="spacingAndGlyphs" fill="#000" >Wortmannin</text>
<text x="448" y="248" font-size="10.2" font-weight="bold" text-anchor="start" textLength="50" lengthAdjust="spacingAndGlyphs" fill="#000" >SR-A Ab+</text>
<text x="448" y="259.6" font-size="10.2" font-weight="bold" text-anchor="start" textLength="69.5" lengthAdjust="spacingAndGlyphs" fill="#000" >Wortmmanin</text>
<line x1="237.5" y1="285" x2="237.5" y2="246" stroke="#000" stroke-width="1.8"/>
<path d="M234.3,247 L237.5,241.5 L240.7,247 Z" fill="#000"/>
<line x1="236.6" y1="284.6" x2="281" y2="284.6" stroke="#000" stroke-width="1.8"/>
<path d="M280,281.4 L285.6,284.6 L280,287.8 Z" fill="#000"/>
<line x1="299" y1="283.8" x2="422" y2="283.8" stroke="#000" stroke-width="1.8"/>
<path d="M421,280.6 L427,283.8 L421,287 Z" fill="#000"/>
<text x="233.3" y="257.7" font-size="10.5" font-weight="bold" text-anchor="middle" textLength="54" lengthAdjust="spacingAndGlyphs" transform="rotate(-90 233.3 257.7)" fill="#000" >CD123-PE</text>
<text x="235.4" y="297.2" font-size="10.5" font-weight="bold" text-anchor="start" textLength="63.4" lengthAdjust="spacingAndGlyphs" fill="#000" >CD11c-APC</text>
<text x="339" y="297" font-size="10.5" font-weight="bold" text-anchor="start" textLength="51" lengthAdjust="spacingAndGlyphs" fill="#000" >CD83-FITC</text>
<line x1="260" y1="337.8" x2="260" y2="446.6" stroke="#000" stroke-width="1.6"/>
<line x1="259.2" y1="446" x2="440" y2="446" stroke="#000" stroke-width="1.8"/>
<line x1="256.8" y1="446.0" x2="260" y2="446.0" stroke="#000" stroke-width="1.4"/>
<line x1="258" y1="438.82" x2="260" y2="438.82" stroke="#000" stroke-width="0.9"/>
<line x1="258" y1="431.64" x2="260" y2="431.64" stroke="#000" stroke-width="0.9"/>
<line x1="258" y1="424.46" x2="260" y2="424.46" stroke="#000" stroke-width="0.9"/>
<line x1="258" y1="417.28000000000003" x2="260" y2="417.28000000000003" stroke="#000" stroke-width="0.9"/>
<line x1="256.8" y1="410.1" x2="260" y2="410.1" stroke="#000" stroke-width="1.4"/>
<line x1="258" y1="402.92" x2="260" y2="402.92" stroke="#000" stroke-width="0.9"/>
<line x1="258" y1="395.74" x2="260" y2="395.74" stroke="#000" stroke-width="0.9"/>
<line x1="258" y1="388.56" x2="260" y2="388.56" stroke="#000" stroke-width="0.9"/>
<line x1="258" y1="381.38" x2="260" y2="381.38" stroke="#000" stroke-width="0.9"/>
<line x1="256.8" y1="374.2" x2="260" y2="374.2" stroke="#000" stroke-width="1.4"/>
<line x1="258" y1="367.02" x2="260" y2="367.02" stroke="#000" stroke-width="0.9"/>
<line x1="258" y1="359.84000000000003" x2="260" y2="359.84000000000003" stroke="#000" stroke-width="0.9"/>
<line x1="258" y1="352.66" x2="260" y2="352.66" stroke="#000" stroke-width="0.9"/>
<line x1="258" y1="345.48" x2="260" y2="345.48" stroke="#000" stroke-width="0.9"/>
<line x1="256.8" y1="338.3" x2="260" y2="338.3" stroke="#000" stroke-width="1.4"/>
<text x="254.5" y="341.8" font-size="9.8" font-weight="bold" text-anchor="end" fill="#000" >30</text>
<text x="254.5" y="377.7" font-size="9.8" font-weight="bold" text-anchor="end" fill="#000" >20</text>
<text x="254.5" y="413.6" font-size="9.8" font-weight="bold" text-anchor="end" fill="#000" >10</text>
<text x="254.5" y="449.5" font-size="9.8" font-weight="bold" text-anchor="end" fill="#000" >0</text>
<text x="238.3" y="390.2" font-size="10" font-weight="normal" text-anchor="middle" textLength="105" lengthAdjust="spacingAndGlyphs" transform="rotate(-90 238.3 390.2)" fill="#000" >CD83 on mDC (MFI)</text>
<rect x="271.40000000000003" y="440" width="6.799999999999978" height="6" fill="#fff" stroke="#000" stroke-width="1.6" />
<rect x="279.8" y="441" width="6.4" height="5" fill="url(#hs)" stroke="#000" stroke-width="1.6" />
<rect x="287.8" y="437.5" width="7.4" height="8.5" fill="url(#hb)" stroke="#000" stroke-width="1.6" />
<rect x="296.8" y="434" width="6.9" height="12" fill="#000" stroke="#000" stroke-width="1.6" />
<rect x="314.0" y="406.3" width="7.200000000000012" height="39.69999999999999" fill="#fff" stroke="#000" stroke-width="1.6" />
<line x1="317.6" y1="406.3" x2="317.6" y2="402.7" stroke="#000" stroke-width="1.5"/>
<line x1="315.20000000000005" y1="403.4" x2="320.0" y2="403.4" stroke="#000" stroke-width="1.7"/>
<rect x="322.8" y="426" width="5.799999999999978" height="20" fill="url(#hs)" stroke="#000" stroke-width="1.6" />
<path d="M325.70,421.90 L325.70,419.60 M325.70,421.90 L327.89,421.19 M325.70,421.90 L323.51,421.19 M325.70,421.90 L327.05,423.76 M325.70,421.90 L324.35,423.76 " stroke="#000" stroke-width="1.1" fill="none" stroke-linecap="round"/>
<rect x="330.2" y="344" width="7.200000000000012" height="102" fill="url(#hb)" stroke="#000" stroke-width="1.6" />
<line x1="333.79999999999995" y1="344" x2="333.79999999999995" y2="337.7" stroke="#000" stroke-width="1.5"/>
<line x1="331.4" y1="338.4" x2="336.19999999999993" y2="338.4" stroke="#000" stroke-width="1.7"/>
<path d="M333.80,334.00 L333.80,331.70 M333.80,334.00 L335.99,333.29 M333.80,334.00 L331.61,333.29 M333.80,334.00 L335.15,335.86 M333.80,334.00 L332.45,335.86 " stroke="#000" stroke-width="1.1" fill="none" stroke-linecap="round"/>
<rect x="339.0" y="428" width="7.200000000000012" height="18" fill="#000" stroke="#000" stroke-width="1.6" />
<path d="M342.60,421.90 L342.60,419.60 M342.60,421.90 L344.79,421.19 M342.60,421.90 L340.41,421.19 M342.60,421.90 L343.95,423.76 M342.60,421.90 L341.25,423.76 " stroke="#000" stroke-width="1.1" fill="none" stroke-linecap="round"/>
<rect x="358.5" y="415.2" width="6.700000000000012" height="30.80000000000001" fill="#fff" stroke="#000" stroke-width="1.6" />
<line x1="361.85" y1="415.2" x2="361.85" y2="410.9" stroke="#000" stroke-width="1.5"/>
<line x1="359.45000000000005" y1="411.59999999999997" x2="364.25" y2="411.59999999999997" stroke="#000" stroke-width="1.7"/>
<rect x="366.8" y="441.6" width="5.200000000000012" height="4.399999999999977" fill="url(#hs)" stroke="#000" stroke-width="1.6" />
<path d="M369.40,435.40 L369.40,433.10 M369.40,435.40 L371.59,434.69 M369.40,435.40 L367.21,434.69 M369.40,435.40 L370.75,437.26 M369.40,435.40 L368.05,437.26 " stroke="#000" stroke-width="1.1" fill="none" stroke-linecap="round"/>
<rect x="373.6" y="358.5" width="7.799999999999978" height="87.5" fill="url(#hb)" stroke="#000" stroke-width="1.6" />
<line x1="377.5" y1="358.5" x2="377.5" y2="353.3" stroke="#000" stroke-width="1.5"/>
<line x1="375.1" y1="354.0" x2="379.9" y2="354.0" stroke="#000" stroke-width="1.7"/>
<path d="M377.50,348.00 L377.50,345.70 M377.50,348.00 L379.69,347.29 M377.50,348.00 L375.31,347.29 M377.50,348.00 L378.85,349.86 M377.50,348.00 L376.15,349.86 " stroke="#000" stroke-width="1.1" fill="none" stroke-linecap="round"/>
<rect x="383.0" y="442.2" width="7.200000000000012" height="3.8000000000000114" fill="#000" stroke="#000" stroke-width="1.6" />
<path d="M386.60,435.40 L386.60,433.10 M386.60,435.40 L388.79,434.69 M386.60,435.40 L384.41,434.69 M386.60,435.40 L387.95,437.26 M386.60,435.40 L385.25,437.26 " stroke="#000" stroke-width="1.1" fill="none" stroke-linecap="round"/>
<rect x="399.0" y="402" width="7.200000000000012" height="44" fill="#fff" stroke="#000" stroke-width="1.6" />
<line x1="402.6" y1="402" x2="402.6" y2="393.2" stroke="#000" stroke-width="1.5"/>
<line x1="400.20000000000005" y1="393.9" x2="405.0" y2="393.9" stroke="#000" stroke-width="1.7"/>
<rect x="407.8" y="434" width="5.200000000000012" height="12" fill="url(#hs)" stroke="#000" stroke-width="1.6" />
<path d="M410.40,428.00 L410.40,425.70 M410.40,428.00 L412.59,427.29 M410.40,428.00 L408.21,427.29 M410.40,428.00 L411.75,429.86 M410.40,428.00 L409.05,429.86 " stroke="#000" stroke-width="1.1" fill="none" stroke-linecap="round"/>
<rect x="414.6" y="426" width="6.700000000000012" height="20" fill="url(#hb)" stroke="#000" stroke-width="1.6" />
<path d="M417.95,417.70 L417.95,415.40 M417.95,417.70 L420.14,416.99 M417.95,417.70 L415.76,416.99 M417.95,417.70 L419.30,419.56 M417.95,417.70 L416.60,419.56 " stroke="#000" stroke-width="1.1" fill="none" stroke-linecap="round"/>
<rect x="422.90000000000003" y="407.3" width="7.299999999999978" height="38.69999999999999" fill="#000" stroke="#000" stroke-width="1.6" />
<line x1="426.55" y1="407.3" x2="426.55" y2="393.2" stroke="#000" stroke-width="1.5"/>
<line x1="424.15000000000003" y1="393.9" x2="428.95" y2="393.9" stroke="#000" stroke-width="1.7"/>
<rect x="389.1" y="331.2" width="9.6" height="5.4" fill="#fff" stroke="#000" stroke-width="1.2" />
<text x="401.5" y="337.1" font-size="9.4" font-weight="bold" text-anchor="start" textLength="23.1" lengthAdjust="spacingAndGlyphs" fill="#000"  stroke="#000" stroke-width="0.2">None</text>
<rect x="389.1" y="341.59999999999997" width="9.6" height="5.4" fill="url(#hs)" stroke="#000" stroke-width="1.2" />
<text x="401.5" y="347.5" font-size="9.4" font-weight="bold" text-anchor="start" textLength="43.9" lengthAdjust="spacingAndGlyphs" fill="#000"  stroke="#000" stroke-width="0.2">SB203580</text>
<rect x="389.1" y="351.2" width="9.6" height="5.4" fill="url(#hb)" stroke="#000" stroke-width="1.2" />
<text x="401.5" y="357.1" font-size="9.4" font-weight="bold" text-anchor="start" textLength="56.5" lengthAdjust="spacingAndGlyphs" fill="#000"  stroke="#000" stroke-width="0.2">Wortmannin</text>
<rect x="389.1" y="361.09999999999997" width="9.6" height="5.4" fill="#000" stroke="#000" stroke-width="1.2" />
<text x="401.5" y="367.0" font-size="9.4" font-weight="bold" text-anchor="start" textLength="17" lengthAdjust="spacingAndGlyphs" fill="#000"  stroke="#000" stroke-width="0.2">LiCl</text>
<text x="262" y="473" font-size="10.5" font-weight="bold" text-anchor="start" textLength="33" lengthAdjust="spacingAndGlyphs" transform="rotate(-27 262 473)" fill="#000" >PBDC</text>
<text x="281.5" y="483.5" font-size="10.5" font-weight="bold" text-anchor="start" textLength="58" lengthAdjust="spacingAndGlyphs" transform="rotate(-27 281.5 483.5)" fill="#000" >+Fucoidan</text>
<text x="330" y="482" font-size="10.5" font-weight="bold" text-anchor="start" textLength="52" lengthAdjust="spacingAndGlyphs" transform="rotate(-27 330 482)" fill="#000" >+SR-A Ab</text>
<text x="395.5" y="471.5" font-size="10.5" font-weight="bold" text-anchor="start" textLength="30" lengthAdjust="spacingAndGlyphs" transform="rotate(-27 395.5 471.5)" fill="#000" >+LPS</text>
<text x="0.7" y="511.1" font-size="25" font-weight="bold" text-anchor="start" textLength="15.7" lengthAdjust="spacingAndGlyphs" fill="#000"  stroke="#000" stroke-width="0.5">C</text>
<rect x="65" y="519.1" width="69.6" height="60.8" fill="none" stroke="#8a8a8a" stroke-width="0.9" />
<line x1="65" y1="519.1" x2="65" y2="579.9" stroke="#555" stroke-width="1.1"/>
<line x1="65" y1="579.9" x2="134.6" y2="579.9" stroke="#555" stroke-width="1.1"/>
<line x1="90.8" y1="519.1" x2="90.8" y2="579.9" stroke="#8a8a8a" stroke-width="0.9"/>
<line x1="65" y1="565.0" x2="134.6" y2="565.0" stroke="#8a8a8a" stroke-width="0.9"/>
<path d="M61.4,520.2 l1.7,-1.6" stroke="#444" stroke-width="1.10" fill="none" stroke-linecap="round"/>
<rect x="63.4" y="517.7" width="0.9" height="0.9" fill="#444"/>
<path d="M64.0,583.3 l1.7,-1.6" stroke="#444" stroke-width="1.10" fill="none" stroke-linecap="round"/>
<rect x="65.8" y="581.1" width="0.9" height="0.9" fill="#444"/>
<path d="M61.4,535.4 l1.7,-1.6" stroke="#444" stroke-width="1.10" fill="none" stroke-linecap="round"/>
<rect x="63.4" y="532.9" width="0.9" height="0.9" fill="#444"/>
<path d="M81.4,583.3 l1.7,-1.6" stroke="#444" stroke-width="1.10" fill="none" stroke-linecap="round"/>
<rect x="83.2" y="581.1" width="0.9" height="0.9" fill="#444"/>
<path d="M61.4,550.6 l1.7,-1.6" stroke="#444" stroke-width="1.10" fill="none" stroke-linecap="round"/>
<rect x="63.4" y="548.1" width="0.9" height="0.9" fill="#444"/>
<path d="M98.8,583.3 l1.7,-1.6" stroke="#444" stroke-width="1.10" fill="none" stroke-linecap="round"/>
<rect x="100.6" y="581.1" width="0.9" height="0.9" fill="#444"/>
<path d="M61.4,565.8 l1.7,-1.6" stroke="#444" stroke-width="1.10" fill="none" stroke-linecap="round"/>
<rect x="63.4" y="563.3" width="0.9" height="0.9" fill="#444"/>
<path d="M116.2,583.3 l1.7,-1.6" stroke="#444" stroke-width="1.10" fill="none" stroke-linecap="round"/>
<rect x="118.0" y="581.1" width="0.9" height="0.9" fill="#444"/>
<path d="M61.4,581.0 l1.7,-1.6" stroke="#444" stroke-width="1.10" fill="none" stroke-linecap="round"/>
<rect x="63.4" y="578.5" width="0.9" height="0.9" fill="#444"/>
<path d="M133.6,583.3 l1.7,-1.6" stroke="#444" stroke-width="1.10" fill="none" stroke-linecap="round"/>
<rect x="135.4" y="581.1" width="0.9" height="0.9" fill="#444"/>
<rect x="144.6" y="519.1" width="69.6" height="60.8" fill="none" stroke="#8a8a8a" stroke-width="0.9" />
<line x1="144.6" y1="519.1" x2="144.6" y2="579.9" stroke="#555" stroke-width="1.1"/>
<line x1="144.6" y1="579.9" x2="214.2" y2="579.9" stroke="#555" stroke-width="1.1"/>
<line x1="170.4" y1="519.1" x2="170.4" y2="579.9" stroke="#8a8a8a" stroke-width="0.9"/>
<line x1="144.6" y1="565.0" x2="214.2" y2="565.0" stroke="#8a8a8a" stroke-width="0.9"/>
<path d="M141.0,520.2 l1.7,-1.6" stroke="#444" stroke-width="1.10" fill="none" stroke-linecap="round"/>
<rect x="143.0" y="517.7" width="0.9" height="0.9" fill="#444"/>
<path d="M143.6,583.3 l1.7,-1.6" stroke="#444" stroke-width="1.10" fill="none" stroke-linecap="round"/>
<rect x="145.4" y="581.1" width="0.9" height="0.9" fill="#444"/>
<path d="M141.0,535.4 l1.7,-1.6" stroke="#444" stroke-width="1.10" fill="none" stroke-linecap="round"/>
<rect x="143.0" y="532.9" width="0.9" height="0.9" fill="#444"/>
<path d="M161.0,583.3 l1.7,-1.6" stroke="#444" stroke-width="1.10" fill="none" stroke-linecap="round"/>
<rect x="162.8" y="581.1" width="0.9" height="0.9" fill="#444"/>
<path d="M141.0,550.6 l1.7,-1.6" stroke="#444" stroke-width="1.10" fill="none" stroke-linecap="round"/>
<rect x="143.0" y="548.1" width="0.9" height="0.9" fill="#444"/>
<path d="M178.4,583.3 l1.7,-1.6" stroke="#444" stroke-width="1.10" fill="none" stroke-linecap="round"/>
<rect x="180.2" y="581.1" width="0.9" height="0.9" fill="#444"/>
<path d="M141.0,565.8 l1.7,-1.6" stroke="#444" stroke-width="1.10" fill="none" stroke-linecap="round"/>
<rect x="143.0" y="563.3" width="0.9" height="0.9" fill="#444"/>
<path d="M195.8,583.3 l1.7,-1.6" stroke="#444" stroke-width="1.10" fill="none" stroke-linecap="round"/>
<rect x="197.6" y="581.1" width="0.9" height="0.9" fill="#444"/>
<path d="M141.0,581.0 l1.7,-1.6" stroke="#444" stroke-width="1.10" fill="none" stroke-linecap="round"/>
<rect x="143.0" y="578.5" width="0.9" height="0.9" fill="#444"/>
<path d="M213.2,583.3 l1.7,-1.6" stroke="#444" stroke-width="1.10" fill="none" stroke-linecap="round"/>
<rect x="215.0" y="581.1" width="0.9" height="0.9" fill="#444"/>
<rect x="224.3" y="519.1" width="69.6" height="60.8" fill="none" stroke="#8a8a8a" stroke-width="0.9" />
<line x1="224.3" y1="519.1" x2="224.3" y2="579.9" stroke="#555" stroke-width="1.1"/>
<line x1="224.3" y1="579.9" x2="293.9" y2="579.9" stroke="#555" stroke-width="1.1"/>
<line x1="250.10000000000002" y1="519.1" x2="250.10000000000002" y2="579.9" stroke="#8a8a8a" stroke-width="0.9"/>
<line x1="224.3" y1="565.0" x2="293.9" y2="565.0" stroke="#8a8a8a" stroke-width="0.9"/>
<path d="M220.7,520.2 l1.7,-1.6" stroke="#444" stroke-width="1.10" fill="none" stroke-linecap="round"/>
<rect x="222.7" y="517.7" width="0.9" height="0.9" fill="#444"/>
<path d="M223.3,583.3 l1.7,-1.6" stroke="#444" stroke-width="1.10" fill="none" stroke-linecap="round"/>
<rect x="225.2" y="581.1" width="0.9" height="0.9" fill="#444"/>
<path d="M220.7,535.4 l1.7,-1.6" stroke="#444" stroke-width="1.10" fill="none" stroke-linecap="round"/>
<rect x="222.7" y="532.9" width="0.9" height="0.9" fill="#444"/>
<path d="M240.7,583.3 l1.7,-1.6" stroke="#444" stroke-width="1.10" fill="none" stroke-linecap="round"/>
<rect x="242.6" y="581.1" width="0.9" height="0.9" fill="#444"/>
<path d="M220.7,550.6 l1.7,-1.6" stroke="#444" stroke-width="1.10" fill="none" stroke-linecap="round"/>
<rect x="222.7" y="548.1" width="0.9" height="0.9" fill="#444"/>
<path d="M258.1,583.3 l1.7,-1.6" stroke="#444" stroke-width="1.10" fill="none" stroke-linecap="round"/>
<rect x="260.0" y="581.1" width="0.9" height="0.9" fill="#444"/>
<path d="M220.7,565.8 l1.7,-1.6" stroke="#444" stroke-width="1.10" fill="none" stroke-linecap="round"/>
<rect x="222.7" y="563.3" width="0.9" height="0.9" fill="#444"/>
<path d="M275.5,583.3 l1.7,-1.6" stroke="#444" stroke-width="1.10" fill="none" stroke-linecap="round"/>
<rect x="277.4" y="581.1" width="0.9" height="0.9" fill="#444"/>
<path d="M220.7,581.0 l1.7,-1.6" stroke="#444" stroke-width="1.10" fill="none" stroke-linecap="round"/>
<rect x="222.7" y="578.5" width="0.9" height="0.9" fill="#444"/>
<path d="M292.9,583.3 l1.7,-1.6" stroke="#444" stroke-width="1.10" fill="none" stroke-linecap="round"/>
<rect x="294.8" y="581.1" width="0.9" height="0.9" fill="#444"/>
<rect x="304.6" y="519.1" width="69.6" height="60.8" fill="none" stroke="#8a8a8a" stroke-width="0.9" />
<line x1="304.6" y1="519.1" x2="304.6" y2="579.9" stroke="#555" stroke-width="1.1"/>
<line x1="304.6" y1="579.9" x2="374.20000000000005" y2="579.9" stroke="#555" stroke-width="1.1"/>
<line x1="330.40000000000003" y1="519.1" x2="330.40000000000003" y2="579.9" stroke="#8a8a8a" stroke-width="0.9"/>
<line x1="304.6" y1="565.0" x2="374.20000000000005" y2="565.0" stroke="#8a8a8a" stroke-width="0.9"/>
<path d="M301.0,520.2 l1.7,-1.6" stroke="#444" stroke-width="1.10" fill="none" stroke-linecap="round"/>
<rect x="303.0" y="517.7" width="0.9" height="0.9" fill="#444"/>
<path d="M303.6,583.3 l1.7,-1.6" stroke="#444" stroke-width="1.10" fill="none" stroke-linecap="round"/>
<rect x="305.5" y="581.1" width="0.9" height="0.9" fill="#444"/>
<path d="M301.0,535.4 l1.7,-1.6" stroke="#444" stroke-width="1.10" fill="none" stroke-linecap="round"/>
<rect x="303.0" y="532.9" width="0.9" height="0.9" fill="#444"/>
<path d="M321.0,583.3 l1.7,-1.6" stroke="#444" stroke-width="1.10" fill="none" stroke-linecap="round"/>
<rect x="322.9" y="581.1" width="0.9" height="0.9" fill="#444"/>
<path d="M301.0,550.6 l1.7,-1.6" stroke="#444" stroke-width="1.10" fill="none" stroke-linecap="round"/>
<rect x="303.0" y="548.1" width="0.9" height="0.9" fill="#444"/>
<path d="M338.4,583.3 l1.7,-1.6" stroke="#444" stroke-width="1.10" fill="none" stroke-linecap="round"/>
<rect x="340.3" y="581.1" width="0.9" height="0.9" fill="#444"/>
<path d="M301.0,565.8 l1.7,-1.6" stroke="#444" stroke-width="1.10" fill="none" stroke-linecap="round"/>
<rect x="303.0" y="563.3" width="0.9" height="0.9" fill="#444"/>
<path d="M355.8,583.3 l1.7,-1.6" stroke="#444" stroke-width="1.10" fill="none" stroke-linecap="round"/>
<rect x="357.7" y="581.1" width="0.9" height="0.9" fill="#444"/>
<path d="M301.0,581.0 l1.7,-1.6" stroke="#444" stroke-width="1.10" fill="none" stroke-linecap="round"/>
<rect x="303.0" y="578.5" width="0.9" height="0.9" fill="#444"/>
<path d="M373.2,583.3 l1.7,-1.6" stroke="#444" stroke-width="1.10" fill="none" stroke-linecap="round"/>
<rect x="375.1" y="581.1" width="0.9" height="0.9" fill="#444"/>
<rect x="65" y="587.4" width="69.6" height="60.8" fill="none" stroke="#8a8a8a" stroke-width="0.9" />
<line x1="65" y1="587.4" x2="65" y2="648.1999999999999" stroke="#555" stroke-width="1.1"/>
<line x1="65" y1="648.1999999999999" x2="134.6" y2="648.1999999999999" stroke="#555" stroke-width="1.1"/>
<line x1="90.8" y1="587.4" x2="90.8" y2="648.1999999999999" stroke="#8a8a8a" stroke-width="0.9"/>
<line x1="65" y1="633.3" x2="134.6" y2="633.3" stroke="#8a8a8a" stroke-width="0.9"/>
<path d="M61.4,588.5 l1.7,-1.6" stroke="#444" stroke-width="1.10" fill="none" stroke-linecap="round"/>
<rect x="63.4" y="586.0" width="0.9" height="0.9" fill="#444"/>
<path d="M64.0,651.6 l1.7,-1.6" stroke="#444" stroke-width="1.10" fill="none" stroke-linecap="round"/>
<rect x="65.8" y="649.4" width="0.9" height="0.9" fill="#444"/>
<path d="M61.4,603.7 l1.7,-1.6" stroke="#444" stroke-width="1.10" fill="none" stroke-linecap="round"/>
<rect x="63.4" y="601.2" width="0.9" height="0.9" fill="#444"/>
<path d="M81.4,651.6 l1.7,-1.6" stroke="#444" stroke-width="1.10" fill="none" stroke-linecap="round"/>
<rect x="83.2" y="649.4" width="0.9" height="0.9" fill="#444"/>
<path d="M61.4,618.9 l1.7,-1.6" stroke="#444" stroke-width="1.10" fill="none" stroke-linecap="round"/>
<rect x="63.4" y="616.4" width="0.9" height="0.9" fill="#444"/>
<path d="M98.8,651.6 l1.7,-1.6" stroke="#444" stroke-width="1.10" fill="none" stroke-linecap="round"/>
<rect x="100.6" y="649.4" width="0.9" height="0.9" fill="#444"/>
<path d="M61.4,634.1 l1.7,-1.6" stroke="#444" stroke-width="1.10" fill="none" stroke-linecap="round"/>
<rect x="63.4" y="631.6" width="0.9" height="0.9" fill="#444"/>
<path d="M116.2,651.6 l1.7,-1.6" stroke="#444" stroke-width="1.10" fill="none" stroke-linecap="round"/>
<rect x="118.0" y="649.4" width="0.9" height="0.9" fill="#444"/>
<path d="M61.4,649.3 l1.7,-1.6" stroke="#444" stroke-width="1.10" fill="none" stroke-linecap="round"/>
<rect x="63.4" y="646.8" width="0.9" height="0.9" fill="#444"/>
<path d="M133.6,651.6 l1.7,-1.6" stroke="#444" stroke-width="1.10" fill="none" stroke-linecap="round"/>
<rect x="135.4" y="649.4" width="0.9" height="0.9" fill="#444"/>
<rect x="144.6" y="587.4" width="69.6" height="60.8" fill="none" stroke="#8a8a8a" stroke-width="0.9" />
<line x1="144.6" y1="587.4" x2="144.6" y2="648.1999999999999" stroke="#555" stroke-width="1.1"/>
<line x1="144.6" y1="648.1999999999999" x2="214.2" y2="648.1999999999999" stroke="#555" stroke-width="1.1"/>
<line x1="170.4" y1="587.4" x2="170.4" y2="648.1999999999999" stroke="#8a8a8a" stroke-width="0.9"/>
<line x1="144.6" y1="633.3" x2="214.2" y2="633.3" stroke="#8a8a8a" stroke-width="0.9"/>
<path d="M141.0,588.5 l1.7,-1.6" stroke="#444" stroke-width="1.10" fill="none" stroke-linecap="round"/>
<rect x="143.0" y="586.0" width="0.9" height="0.9" fill="#444"/>
<path d="M143.6,651.6 l1.7,-1.6" stroke="#444" stroke-width="1.10" fill="none" stroke-linecap="round"/>
<rect x="145.4" y="649.4" width="0.9" height="0.9" fill="#444"/>
<path d="M141.0,603.7 l1.7,-1.6" stroke="#444" stroke-width="1.10" fill="none" stroke-linecap="round"/>
<rect x="143.0" y="601.2" width="0.9" height="0.9" fill="#444"/>
<path d="M161.0,651.6 l1.7,-1.6" stroke="#444" stroke-width="1.10" fill="none" stroke-linecap="round"/>
<rect x="162.8" y="649.4" width="0.9" height="0.9" fill="#444"/>
<path d="M141.0,618.9 l1.7,-1.6" stroke="#444" stroke-width="1.10" fill="none" stroke-linecap="round"/>
<rect x="143.0" y="616.4" width="0.9" height="0.9" fill="#444"/>
<path d="M178.4,651.6 l1.7,-1.6" stroke="#444" stroke-width="1.10" fill="none" stroke-linecap="round"/>
<rect x="180.2" y="649.4" width="0.9" height="0.9" fill="#444"/>
<path d="M141.0,634.1 l1.7,-1.6" stroke="#444" stroke-width="1.10" fill="none" stroke-linecap="round"/>
<rect x="143.0" y="631.6" width="0.9" height="0.9" fill="#444"/>
<path d="M195.8,651.6 l1.7,-1.6" stroke="#444" stroke-width="1.10" fill="none" stroke-linecap="round"/>
<rect x="197.6" y="649.4" width="0.9" height="0.9" fill="#444"/>
<path d="M141.0,649.3 l1.7,-1.6" stroke="#444" stroke-width="1.10" fill="none" stroke-linecap="round"/>
<rect x="143.0" y="646.8" width="0.9" height="0.9" fill="#444"/>
<path d="M213.2,651.6 l1.7,-1.6" stroke="#444" stroke-width="1.10" fill="none" stroke-linecap="round"/>
<rect x="215.0" y="649.4" width="0.9" height="0.9" fill="#444"/>
<rect x="224.3" y="587.4" width="69.6" height="60.8" fill="none" stroke="#8a8a8a" stroke-width="0.9" />
<line x1="224.3" y1="587.4" x2="224.3" y2="648.1999999999999" stroke="#555" stroke-width="1.1"/>
<line x1="224.3" y1="648.1999999999999" x2="293.9" y2="648.1999999999999" stroke="#555" stroke-width="1.1"/>
<line x1="250.10000000000002" y1="587.4" x2="250.10000000000002" y2="648.1999999999999" stroke="#8a8a8a" stroke-width="0.9"/>
<line x1="224.3" y1="633.3" x2="293.9" y2="633.3" stroke="#8a8a8a" stroke-width="0.9"/>
<path d="M220.7,588.5 l1.7,-1.6" stroke="#444" stroke-width="1.10" fill="none" stroke-linecap="round"/>
<rect x="222.7" y="586.0" width="0.9" height="0.9" fill="#444"/>
<path d="M223.3,651.6 l1.7,-1.6" stroke="#444" stroke-width="1.10" fill="none" stroke-linecap="round"/>
<rect x="225.2" y="649.4" width="0.9" height="0.9" fill="#444"/>
<path d="M220.7,603.7 l1.7,-1.6" stroke="#444" stroke-width="1.10" fill="none" stroke-linecap="round"/>
<rect x="222.7" y="601.2" width="0.9" height="0.9" fill="#444"/>
<path d="M240.7,651.6 l1.7,-1.6" stroke="#444" stroke-width="1.10" fill="none" stroke-linecap="round"/>
<rect x="242.6" y="649.4" width="0.9" height="0.9" fill="#444"/>
<path d="M220.7,618.9 l1.7,-1.6" stroke="#444" stroke-width="1.10" fill="none" stroke-linecap="round"/>
<rect x="222.7" y="616.4" width="0.9" height="0.9" fill="#444"/>
<path d="M258.1,651.6 l1.7,-1.6" stroke="#444" stroke-width="1.10" fill="none" stroke-linecap="round"/>
<rect x="260.0" y="649.4" width="0.9" height="0.9" fill="#444"/>
<path d="M220.7,634.1 l1.7,-1.6" stroke="#444" stroke-width="1.10" fill="none" stroke-linecap="round"/>
<rect x="222.7" y="631.6" width="0.9" height="0.9" fill="#444"/>
<path d="M275.5,651.6 l1.7,-1.6" stroke="#444" stroke-width="1.10" fill="none" stroke-linecap="round"/>
<rect x="277.4" y="649.4" width="0.9" height="0.9" fill="#444"/>
<path d="M220.7,649.3 l1.7,-1.6" stroke="#444" stroke-width="1.10" fill="none" stroke-linecap="round"/>
<rect x="222.7" y="646.8" width="0.9" height="0.9" fill="#444"/>
<path d="M292.9,651.6 l1.7,-1.6" stroke="#444" stroke-width="1.10" fill="none" stroke-linecap="round"/>
<rect x="294.8" y="649.4" width="0.9" height="0.9" fill="#444"/>
<rect x="304.6" y="587.4" width="69.6" height="60.8" fill="none" stroke="#8a8a8a" stroke-width="0.9" />
<line x1="304.6" y1="587.4" x2="304.6" y2="648.1999999999999" stroke="#555" stroke-width="1.1"/>
<line x1="304.6" y1="648.1999999999999" x2="374.20000000000005" y2="648.1999999999999" stroke="#555" stroke-width="1.1"/>
<line x1="330.40000000000003" y1="587.4" x2="330.40000000000003" y2="648.1999999999999" stroke="#8a8a8a" stroke-width="0.9"/>
<line x1="304.6" y1="633.3" x2="374.20000000000005" y2="633.3" stroke="#8a8a8a" stroke-width="0.9"/>
<path d="M301.0,588.5 l1.7,-1.6" stroke="#444" stroke-width="1.10" fill="none" stroke-linecap="round"/>
<rect x="303.0" y="586.0" width="0.9" height="0.9" fill="#444"/>
<path d="M303.6,651.6 l1.7,-1.6" stroke="#444" stroke-width="1.10" fill="none" stroke-linecap="round"/>
<rect x="305.5" y="649.4" width="0.9" height="0.9" fill="#444"/>
<path d="M301.0,603.7 l1.7,-1.6" stroke="#444" stroke-width="1.10" fill="none" stroke-linecap="round"/>
<rect x="303.0" y="601.2" width="0.9" height="0.9" fill="#444"/>
<path d="M321.0,651.6 l1.7,-1.6" stroke="#444" stroke-width="1.10" fill="none" stroke-linecap="round"/>
<rect x="322.9" y="649.4" width="0.9" height="0.9" fill="#444"/>
<path d="M301.0,618.9 l1.7,-1.6" stroke="#444" stroke-width="1.10" fill="none" stroke-linecap="round"/>
<rect x="303.0" y="616.4" width="0.9" height="0.9" fill="#444"/>
<path d="M338.4,651.6 l1.7,-1.6" stroke="#444" stroke-width="1.10" fill="none" stroke-linecap="round"/>
<rect x="340.3" y="649.4" width="0.9" height="0.9" fill="#444"/>
<path d="M301.0,634.1 l1.7,-1.6" stroke="#444" stroke-width="1.10" fill="none" stroke-linecap="round"/>
<rect x="303.0" y="631.6" width="0.9" height="0.9" fill="#444"/>
<path d="M355.8,651.6 l1.7,-1.6" stroke="#444" stroke-width="1.10" fill="none" stroke-linecap="round"/>
<rect x="357.7" y="649.4" width="0.9" height="0.9" fill="#444"/>
<path d="M301.0,649.3 l1.7,-1.6" stroke="#444" stroke-width="1.10" fill="none" stroke-linecap="round"/>
<rect x="303.0" y="646.8" width="0.9" height="0.9" fill="#444"/>
<path d="M373.2,651.6 l1.7,-1.6" stroke="#444" stroke-width="1.10" fill="none" stroke-linecap="round"/>
<rect x="375.1" y="649.4" width="0.9" height="0.9" fill="#444"/>
<g filter="url(#bl1)">
<ellipse cx="83.5" cy="555" rx="11.5" ry="7.8" fill="#dadada" stroke="#9a9a9a" stroke-width="0.6"/>
<ellipse cx="84.3" cy="555" rx="9.66" ry="6.552" fill="#b6b6b6" stroke="#8a8a8a" stroke-width="0.5"/>
<ellipse cx="85.1" cy="555.1" rx="7.590000000000001" ry="5.46" fill="#7c7c7c" stroke="#555" stroke-width="0.5"/>
<ellipse cx="85.7" cy="555.2" rx="5.29" ry="4.056" fill="#4a4a4a"/>
<ellipse cx="85.9" cy="555.3" rx="1.2" ry="1.0" fill="#f4f4f4"/>
</g>
<g filter="url(#bl1)">
<ellipse cx="163.5" cy="555.3" rx="12.5" ry="7.7" fill="#dadada" stroke="#9a9a9a" stroke-width="0.6"/>
<ellipse cx="164.3" cy="555.3" rx="10.5" ry="6.468" fill="#b6b6b6" stroke="#8a8a8a" stroke-width="0.5"/>
<ellipse cx="165.1" cy="555.4" rx="8.25" ry="5.39" fill="#7c7c7c" stroke="#555" stroke-width="0.5"/>
<ellipse cx="165.7" cy="555.5" rx="5.75" ry="4.0040000000000004" fill="#4a4a4a"/>
<ellipse cx="165.9" cy="555.5999999999999" rx="1.2" ry="1.0" fill="#f4f4f4"/>
</g>
<g filter="url(#bl1)">
<ellipse cx="241.5" cy="555.3" rx="12.4" ry="7.7" fill="#dadada" stroke="#9a9a9a" stroke-width="0.6"/>
<ellipse cx="242.3" cy="555.3" rx="10.416" ry="6.468" fill="#b6b6b6" stroke="#8a8a8a" stroke-width="0.5"/>
<ellipse cx="243.1" cy="555.4" rx="8.184000000000001" ry="5.39" fill="#7c7c7c" stroke="#555" stroke-width="0.5"/>
<ellipse cx="243.7" cy="555.5" rx="5.704000000000001" ry="4.0040000000000004" fill="#4a4a4a"/>
<ellipse cx="243.9" cy="555.5999999999999" rx="1.2" ry="1.0" fill="#f4f4f4"/>
</g>
<g filter="url(#bl1)">
<ellipse cx="322" cy="557" rx="12" ry="8.2" fill="#dadada" stroke="#9a9a9a" stroke-width="0.6"/>
<ellipse cx="322.8" cy="557" rx="10.08" ry="6.887999999999999" fill="#b6b6b6" stroke="#8a8a8a" stroke-width="0.5"/>
<ellipse cx="323.6" cy="557.1" rx="7.92" ry="5.739999999999999" fill="#7c7c7c" stroke="#555" stroke-width="0.5"/>
<ellipse cx="324.2" cy="557.2" rx="5.5200000000000005" ry="4.263999999999999" fill="#4a4a4a"/>
<ellipse cx="324.4" cy="557.3" rx="1.2" ry="1.0" fill="#f4f4f4"/>
</g>
<g filter="url(#bl1)">
<ellipse cx="87" cy="624.5" rx="12.5" ry="7.5" fill="#dadada" stroke="#9a9a9a" stroke-width="0.6"/>
<ellipse cx="87.8" cy="624.5" rx="10.5" ry="6.3" fill="#b6b6b6" stroke="#8a8a8a" stroke-width="0.5"/>
<ellipse cx="88.6" cy="624.6" rx="8.25" ry="5.25" fill="#7c7c7c" stroke="#555" stroke-width="0.5"/>
<ellipse cx="89.2" cy="624.7" rx="5.75" ry="3.9000000000000004" fill="#4a4a4a"/>
<ellipse cx="89.4" cy="624.8" rx="1.2" ry="1.0" fill="#f4f4f4"/>
</g>
<g filter="url(#bl1)">
<ellipse cx="162.7" cy="624" rx="11.8" ry="7" fill="#dadada" stroke="#9a9a9a" stroke-width="0.6"/>
<ellipse cx="163.5" cy="624" rx="9.912" ry="5.88" fill="#b6b6b6" stroke="#8a8a8a" stroke-width="0.5"/>
<ellipse cx="164.29999999999998" cy="624.1" rx="7.788000000000001" ry="4.8999999999999995" fill="#7c7c7c" stroke="#555" stroke-width="0.5"/>
<ellipse cx="164.89999999999998" cy="624.2" rx="5.428000000000001" ry="3.64" fill="#4a4a4a"/>
<ellipse cx="165.1" cy="624.3" rx="1.2" ry="1.0" fill="#f4f4f4"/>
</g>
<g filter="url(#bl1)">
<ellipse cx="251.5" cy="623" rx="16" ry="7.7" fill="#dadada" stroke="#9a9a9a" stroke-width="0.6"/>
<ellipse cx="252.3" cy="623" rx="13.44" ry="6.468" fill="#b6b6b6" stroke="#8a8a8a" stroke-width="0.5"/>
<ellipse cx="253.1" cy="623.1" rx="10.56" ry="5.39" fill="#7c7c7c" stroke="#555" stroke-width="0.5"/>
<ellipse cx="253.7" cy="623.2" rx="7.36" ry="4.0040000000000004" fill="#4a4a4a"/>
<ellipse cx="253.9" cy="623.3" rx="1.2" ry="1.0" fill="#f4f4f4"/>
</g>
<g filter="url(#bl1)">
<ellipse cx="324.7" cy="624" rx="13.7" ry="8" fill="#dadada" stroke="#9a9a9a" stroke-width="0.6"/>
<ellipse cx="325.5" cy="624" rx="11.508" ry="6.72" fill="#b6b6b6" stroke="#8a8a8a" stroke-width="0.5"/>
<ellipse cx="326.3" cy="624.1" rx="9.042" ry="5.6" fill="#7c7c7c" stroke="#555" stroke-width="0.5"/>
<ellipse cx="326.9" cy="624.2" rx="6.302" ry="4.16" fill="#4a4a4a"/>
<ellipse cx="327.09999999999997" cy="624.3" rx="1.2" ry="1.0" fill="#f4f4f4"/>
</g>
<text x="132.4" y="529.3" font-size="10.2" font-weight="bold" text-anchor="end" fill="#000" >3</text>
<text x="211.20000000000002" y="530" font-size="10.2" font-weight="bold" text-anchor="end" fill="#000" >4</text>
<text x="291.2" y="529.5" font-size="10.2" font-weight="bold" text-anchor="end" fill="#000" >5</text>
<text x="370.9" y="529.3" font-size="10.2" font-weight="bold" text-anchor="end" fill="#000" >5</text>
<text x="122.4" y="597.7" font-size="10.2" font-weight="bold" text-anchor="start" textLength="9.400000000000006" lengthAdjust="spacingAndGlyphs" fill="#000" >37</text>
<text x="211.20000000000002" y="598" font-size="10.2" font-weight="bold" text-anchor="end" fill="#000" >5</text>
<text x="281.5" y="598" font-size="10.2" font-weight="bold" text-anchor="start" textLength="10.800000000000011" lengthAdjust="spacingAndGlyphs" fill="#000" >74</text>
<text x="361" y="598.3" font-size="10.2" font-weight="bold" text-anchor="start" textLength="10.699999999999989" lengthAdjust="spacingAndGlyphs" fill="#000" >19</text>
<text x="100.3" y="515" font-size="10.5" font-weight="bold" text-anchor="middle" textLength="67" lengthAdjust="spacingAndGlyphs" fill="#000" >Sorted mDC</text>
<text x="179" y="515" font-size="10.5" font-weight="bold" text-anchor="middle" textLength="63.5" lengthAdjust="spacingAndGlyphs" fill="#000" >+SB203580</text>
<text x="257.9" y="515" font-size="10.5" font-weight="bold" text-anchor="middle" textLength="75" lengthAdjust="spacingAndGlyphs" fill="#000" >+Wortmannin</text>
<text x="334.1" y="515" font-size="10.5" font-weight="bold" text-anchor="middle" textLength="28.2" lengthAdjust="spacingAndGlyphs" fill="#000" >+LiCl</text>
<text x="377.6" y="551" font-size="10.5" font-weight="bold" text-anchor="start" textLength="58.8" lengthAdjust="spacingAndGlyphs" fill="#000" >Control Ab</text>
<text x="377.6" y="619.6" font-size="10.5" font-weight="bold" text-anchor="start" textLength="44.8" lengthAdjust="spacingAndGlyphs" fill="#000" >SR-A Ab</text>
<line x1="55.7" y1="658.8" x2="55.7" y2="603" stroke="#000" stroke-width="1.8"/>
<path d="M52.5,604 L55.7,597.9 L58.9,604 Z" fill="#000"/>
<line x1="54.8" y1="658" x2="115" y2="658" stroke="#000" stroke-width="1.8"/>
<path d="M114,654.8 L120.6,658 L114,661.2 Z" fill="#000"/>
<text x="51.3" y="628.3" font-size="10.5" font-weight="bold" text-anchor="middle" textLength="36" lengthAdjust="spacingAndGlyphs" transform="rotate(-90 51.3 628.3)" fill="#000" >CD11c</text>
<text x="73.5" y="672.9" font-size="10.5" font-weight="bold" text-anchor="start" textLength="30.3" lengthAdjust="spacingAndGlyphs" fill="#000" >CD83</text>
</svg></body></html>
